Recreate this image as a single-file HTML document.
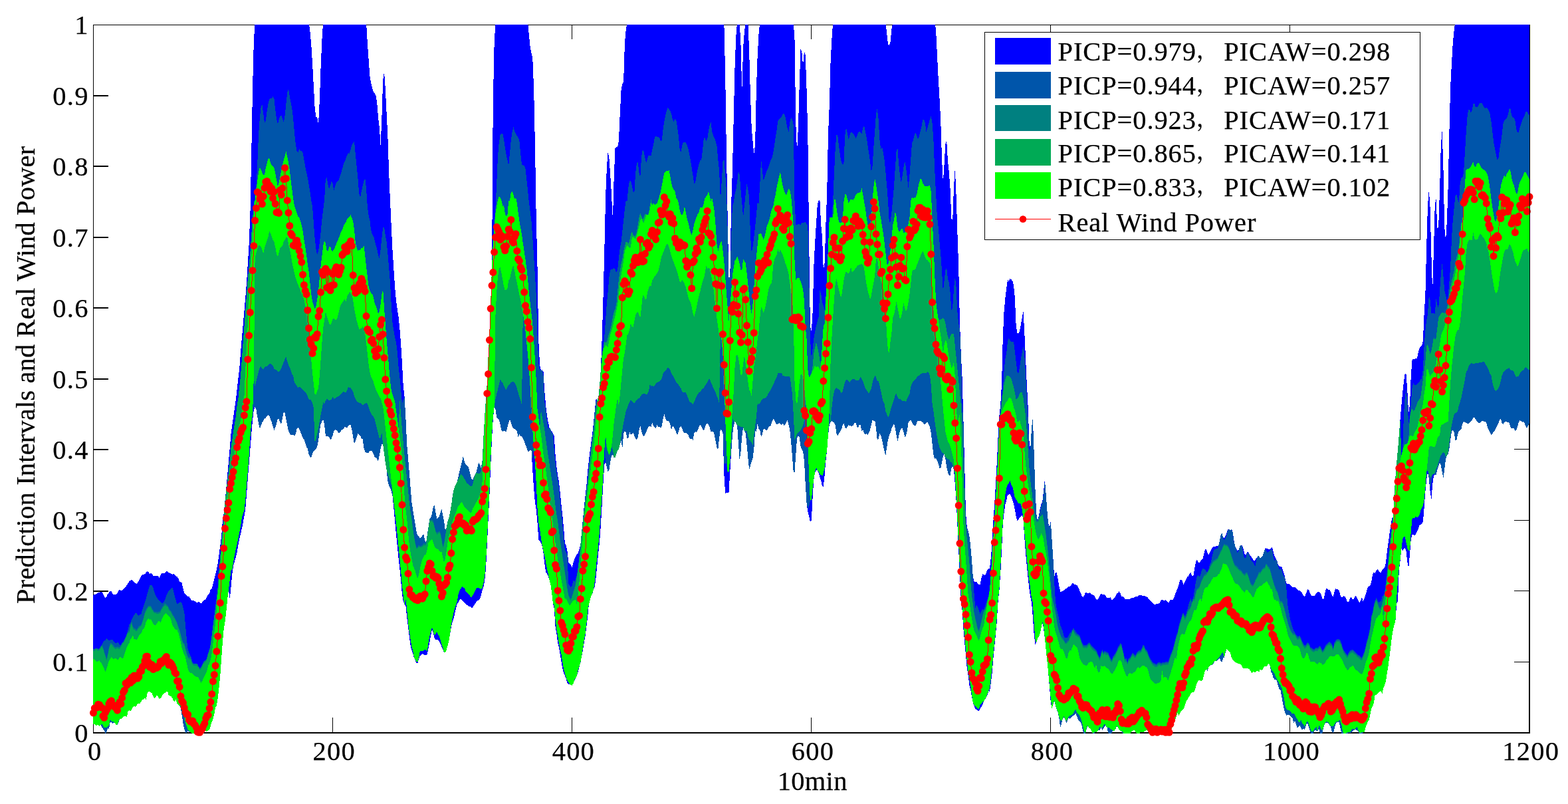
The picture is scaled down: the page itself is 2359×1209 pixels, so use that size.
<!DOCTYPE html>
<html lang="en">
<head>
<meta charset="utf-8">
<title>Prediction Intervals and Real Wind Power</title>
<style>
html,body{margin:0;padding:0;background:#fff;}
body{width:2359px;height:1209px;overflow:hidden;}
svg{display:block;}
text{font-family:"Liberation Serif","Noto Serif CJK SC",serif;fill:#000;}
</style>
</head>
<body>
<svg width="2359" height="1209" viewBox="0 0 2359 1209">
<defs><clipPath id="cp"><rect x="140" y="37" width="2161" height="1066"/></clipPath></defs>
<rect x="0" y="0" width="2359" height="1209" fill="#ffffff"/>
<g shape-rendering="crispEdges" fill="#000" stroke="none">
<rect x="140" y="37" width="2162" height="1"/>
<rect x="140" y="37" width="1" height="1066"/>
<rect x="140" y="1101" width="2162" height="2"/>
<rect x="2300" y="37" width="2" height="1066"/>
<rect x="500" y="1079" width="1" height="22"/><rect x="500" y="38" width="1" height="21"/>
<rect x="860" y="1079" width="1" height="22"/><rect x="860" y="38" width="1" height="21"/>
<rect x="1220" y="1079" width="1" height="22"/><rect x="1220" y="38" width="1" height="21"/>
<rect x="1580" y="1079" width="1" height="22"/><rect x="1580" y="38" width="1" height="21"/>
<rect x="1940" y="1079" width="1" height="22"/><rect x="1940" y="38" width="1" height="21"/>
<rect x="141" y="995" width="22" height="2"/><rect x="2278" y="995" width="22" height="1"/>
<rect x="141" y="888" width="22" height="2"/><rect x="2278" y="888" width="22" height="1"/>
<rect x="141" y="782" width="22" height="2"/><rect x="2278" y="782" width="22" height="1"/>
<rect x="141" y="675" width="22" height="2"/><rect x="2278" y="675" width="22" height="1"/>
<rect x="141" y="569" width="22" height="2"/><rect x="2278" y="569" width="22" height="1"/>
<rect x="141" y="462" width="22" height="2"/><rect x="2278" y="462" width="22" height="1"/>
<rect x="141" y="356" width="22" height="2"/><rect x="2278" y="356" width="22" height="1"/>
<rect x="141" y="249" width="22" height="2"/><rect x="2278" y="249" width="22" height="1"/>
<rect x="141" y="143" width="22" height="2"/><rect x="2278" y="143" width="22" height="1"/>
</g>
<g clip-path="url(#cp)" shape-rendering="crispEdges">
<path d="M139.9,895.3L142.3,893.9L144.1,893.5L145.9,892.7L147.7,891.1L149.5,890.6L151.3,890.2L153.1,889.4L154.9,892.9L156.7,896.8L158.5,898.9L160.3,897.0L162.1,892.9L163.9,891.3L165.7,888.4L167.5,888.7L169.3,892.3L171.1,894.5L172.9,893.8L174.7,894.0L176.5,892.5L178.3,888.5L180.1,886.8L181.9,887.9L183.7,888.1L185.5,886.5L187.3,884.3L189.1,882.2L190.9,879.5L192.7,877.1L194.5,874.1L196.3,872.6L198.1,872.1L199.9,873.5L201.7,874.7L203.5,876.6L205.3,877.9L207.1,876.0L208.9,873.2L210.7,869.3L212.5,865.9L214.3,864.1L216.1,863.7L217.9,863.4L219.7,861.1L221.5,859.3L223.3,860.1L225.1,862.8L226.9,862.3L228.7,862.7L230.5,865.6L232.3,865.9L234.1,865.7L235.9,866.4L237.7,865.6L239.5,869.4L241.3,864.9L243.1,862.7L244.9,861.6L246.7,862.2L248.5,861.3L250.3,858.8L252.1,859.1L253.9,861.0L255.7,861.8L257.5,862.7L259.3,863.7L261.1,863.2L262.9,864.1L264.7,866.6L266.5,867.4L268.3,869.6L270.1,874.3L271.9,875.3L273.7,876.6L275.5,885.3L277.3,891.8L279.1,893.3L280.9,895.8L282.7,896.6L284.5,897.5L286.3,900.1L288.1,902.2L289.9,903.6L291.7,903.2L293.5,903.9L295.3,906.2L297.1,906.5L298.9,905.0L300.7,906.1L302.5,907.5L304.3,905.8L306.1,902.7L307.9,902.2L309.7,901.4L311.5,896.6L313.3,893.8L315.1,891.9L316.9,886.1L318.7,885.3L320.5,878.1L322.3,870.8L324.1,864.0L325.9,856.4L327.7,847.5L329.5,833.6L331.3,820.2L333.1,805.9L334.9,782.8L336.7,772.2L338.5,753.2L340.3,734.4L342.1,714.7L343.9,694.2L345.7,674.1L347.5,652.0L349.3,639.1L351.1,626.8L352.9,614.5L354.7,601.8L356.6,585.4L358.4,569.1L360.2,553.9L362.0,530.2L363.8,508.6L365.6,488.6L367.4,468.4L369.2,447.5L371.0,425.0L372.8,396.4L374.6,367.2L376.4,322.7L378.2,231.8L380.0,134.0L381.8,63.3L383.6,33.0L385.4,33.0L387.2,33.0L389.0,33.0L390.8,33.0L392.6,33.0L394.4,33.0L396.2,33.0L398.0,33.0L399.8,33.0L401.6,33.0L403.4,33.0L405.2,33.0L407.0,33.0L408.8,33.0L410.6,33.0L412.4,33.0L414.2,33.0L416.0,33.0L417.8,33.0L419.6,33.0L421.4,33.0L423.2,33.0L425.0,33.0L426.8,33.0L428.6,33.0L430.4,33.0L432.2,33.0L434.0,33.0L435.8,33.0L437.6,33.0L439.4,33.0L441.2,33.0L443.0,33.0L444.8,33.0L446.6,33.0L448.4,33.0L450.2,33.0L452.0,33.0L453.8,33.0L455.6,33.0L457.4,33.0L459.2,33.0L461.0,33.0L462.8,33.0L464.6,33.0L466.4,46.8L468.2,66.3L470.0,94.4L471.8,128.4L473.6,161.3L475.4,175.7L477.2,176.2L479.0,187.6L480.8,151.8L482.6,100.9L484.4,60.0L486.2,33.0L488.0,33.0L489.8,33.0L491.6,33.0L493.4,33.0L495.2,33.0L497.0,33.0L498.8,33.0L500.6,33.0L502.4,33.0L504.2,33.0L506.0,33.0L507.8,33.0L509.6,33.0L511.4,33.0L513.2,33.0L515.0,33.0L516.8,33.0L518.6,33.0L520.4,33.0L522.2,33.0L524.0,33.0L525.8,33.0L527.6,33.0L529.4,33.0L531.2,33.0L533.0,33.0L534.8,33.0L536.6,33.0L538.4,33.0L540.2,33.0L542.0,33.0L543.8,33.0L545.6,33.0L547.4,33.0L549.2,33.0L551.0,33.0L552.8,63.9L554.6,89.6L556.4,114.2L558.2,125.0L560.0,132.1L561.8,137.7L563.6,140.5L565.4,143.4L567.2,153.6L569.0,176.5L570.8,191.3L572.6,218.9L574.4,176.5L576.2,119.9L578.0,108.0L579.8,133.3L581.6,169.2L583.4,205.9L585.2,261.4L587.0,301.6L588.8,341.9L590.6,377.2L592.4,404.9L594.2,432.4L596.0,452.4L597.8,465.0L599.6,476.9L601.4,494.8L603.2,517.4L605.0,547.7L606.8,580.8L608.6,597.0L610.4,628.4L612.2,667.9L614.0,688.4L615.8,710.7L617.6,732.9L619.4,754.8L621.2,767.1L623.0,778.0L624.8,788.3L626.6,800.0L628.4,805.2L630.2,806.8L632.0,809.9L633.8,807.6L635.6,805.1L637.4,803.8L639.2,812.0L641.0,816.8L642.8,803.9L644.6,792.4L646.4,780.6L648.2,778.7L650.0,771.9L651.8,762.0L653.6,760.2L655.4,770.0L657.2,779.7L659.0,779.4L660.8,776.1L662.6,771.2L664.4,765.8L666.2,773.9L668.0,783.1L669.8,797.7L671.6,793.5L673.4,784.2L675.2,779.0L677.0,770.7L678.8,760.9L680.6,747.6L682.4,736.8L684.2,732.1L686.0,728.2L687.8,724.1L689.6,717.1L691.4,708.0L693.2,700.9L695.0,694.2L696.8,685.5L698.6,693.8L700.4,697.7L702.2,699.8L704.0,701.0L705.8,705.5L707.6,713.3L709.4,720.0L711.2,721.5L713.0,716.6L714.8,713.6L716.6,709.4L718.4,702.0L720.2,695.6L722.0,698.9L723.8,703.5L725.6,692.8L727.4,657.5L729.2,625.9L731.0,600.6L732.8,575.7L734.6,535.4L736.4,501.1L738.2,454.8L740.0,401.2L741.8,153.2L743.6,67.5L745.4,33.0L747.2,33.0L749.0,33.0L750.8,33.0L752.6,33.0L754.4,33.0L756.2,33.0L758.0,33.0L759.8,33.0L761.6,33.0L763.4,33.0L765.2,33.0L767.0,33.0L768.8,33.0L770.6,33.0L772.4,33.0L774.2,33.0L776.0,33.0L777.8,33.0L779.6,33.0L781.4,33.0L783.2,33.0L785.0,33.0L786.8,33.0L788.7,33.0L790.5,33.0L792.3,33.0L794.1,33.0L795.9,52.8L797.7,70.6L799.5,79.5L801.3,87.8L803.1,131.9L804.9,215.3L806.7,324.6L808.5,401.1L810.3,512.4L812.1,548.8L813.9,556.6L815.7,556.4L817.5,559.2L819.3,588.5L821.1,609.2L822.9,624.1L824.7,634.8L826.5,642.8L828.3,645.4L830.1,648.8L831.9,651.1L833.7,655.3L835.5,682.7L837.3,701.7L839.1,714.5L840.9,724.6L842.7,741.1L844.5,758.6L846.3,775.0L848.1,794.1L849.9,816.6L851.7,820.4L853.5,828.8L855.3,845.8L857.1,847.8L858.9,849.7L860.7,853.4L862.5,845.7L864.3,840.4L866.1,836.1L867.9,834.0L869.7,831.9L871.5,826.2L873.3,819.2L875.1,800.1L876.9,781.3L878.7,762.5L880.5,745.8L882.3,730.6L884.1,709.5L885.9,692.2L887.7,677.7L889.5,664.2L891.3,651.0L893.1,634.7L894.9,615.5L896.7,599.0L898.5,601.8L900.3,596.6L902.1,580.2L903.9,553.9L905.7,508.6L907.5,447.2L909.3,376.5L911.1,295.6L912.9,251.3L914.7,227.8L916.5,238.9L918.3,264.5L920.1,293.9L921.9,330.9L923.7,266.7L925.5,222.8L927.3,220.6L929.1,221.3L930.9,211.6L932.7,172.1L934.5,136.2L936.3,126.0L938.1,122.7L939.9,65.2L941.7,45.1L943.5,33.0L945.3,33.0L947.1,33.0L948.9,33.0L950.7,33.0L952.5,33.0L954.3,33.0L956.1,33.0L957.9,33.0L959.7,33.0L961.5,33.0L963.3,33.0L965.1,33.0L966.9,33.0L968.7,33.0L970.5,33.0L972.3,33.0L974.1,33.0L975.9,33.0L977.7,33.0L979.5,33.0L981.3,33.0L983.1,33.0L984.9,33.0L986.7,33.0L988.5,33.0L990.3,33.0L992.1,33.0L993.9,33.0L995.7,33.0L997.5,33.0L999.3,33.0L1001.1,33.0L1002.9,33.0L1004.7,33.0L1006.5,33.0L1008.3,33.0L1010.1,33.0L1011.9,33.0L1013.7,33.0L1015.5,33.0L1017.3,33.0L1019.1,33.0L1020.9,33.0L1022.7,33.0L1024.5,33.0L1026.3,33.0L1028.1,33.0L1029.9,33.0L1031.7,33.0L1033.5,33.0L1035.3,33.0L1037.1,33.0L1038.9,33.0L1040.7,33.0L1042.5,33.0L1044.3,33.0L1046.1,33.0L1047.9,33.0L1049.7,33.0L1051.5,33.0L1053.3,33.0L1055.1,33.0L1056.9,33.0L1058.7,33.0L1060.5,33.0L1062.3,33.0L1064.1,33.0L1065.9,33.0L1067.7,33.0L1069.5,33.0L1071.3,33.0L1073.1,33.0L1074.9,33.0L1076.7,33.0L1078.5,33.0L1080.3,33.0L1082.1,33.0L1083.9,33.0L1085.7,33.0L1087.5,33.0L1089.3,33.0L1091.1,108.4L1092.9,227.5L1094.7,326.6L1096.5,417.3L1098.3,416.2L1100.1,307.6L1101.9,257.5L1103.7,179.2L1105.5,102.3L1107.3,54.2L1109.1,33.0L1110.9,33.0L1112.7,33.0L1114.5,67.5L1116.3,137.8L1118.1,71.4L1119.9,47.9L1121.7,33.0L1123.5,33.0L1125.3,33.0L1127.1,74.3L1128.9,141.0L1130.7,191.5L1132.5,212.0L1134.3,231.4L1136.1,217.0L1137.9,133.6L1139.7,83.2L1141.5,51.1L1143.3,33.0L1145.1,33.0L1146.9,33.0L1148.7,33.0L1150.5,33.0L1152.3,33.0L1154.1,33.0L1155.9,33.0L1157.7,33.0L1159.5,33.0L1161.3,33.0L1163.1,33.0L1164.9,33.0L1166.7,33.0L1168.5,33.0L1170.3,33.0L1172.1,33.0L1173.9,33.0L1175.7,33.0L1177.5,33.0L1179.3,33.0L1181.1,33.0L1182.9,33.0L1184.7,33.0L1186.5,33.0L1188.3,33.0L1190.1,33.0L1191.9,33.0L1193.7,33.0L1195.5,60.4L1197.3,186.1L1199.1,227.4L1200.9,191.2L1202.7,129.0L1204.5,74.2L1206.3,77.7L1208.1,98.2L1209.9,77.5L1211.7,82.0L1213.5,132.7L1215.3,199.7L1217.1,355.3L1218.9,491.1L1220.8,497.9L1222.6,469.4L1224.4,399.4L1226.2,363.9L1228.0,335.7L1229.8,307.6L1231.6,301.8L1233.4,301.1L1235.2,337.4L1237.0,355.8L1238.8,405.7L1240.6,395.3L1242.4,336.6L1244.2,289.7L1246.0,201.1L1247.8,158.7L1249.6,92.4L1251.4,58.5L1253.2,33.0L1255.0,33.0L1256.8,33.0L1258.6,33.0L1260.4,33.0L1262.2,33.0L1264.0,33.0L1265.8,33.0L1267.6,33.0L1269.4,33.8L1271.2,34.2L1273.0,35.2L1274.8,33.9L1276.6,33.0L1278.4,33.0L1280.2,33.0L1282.0,33.0L1283.8,33.0L1285.6,33.0L1287.4,33.0L1289.2,33.2L1291.0,33.0L1292.8,33.0L1294.6,33.0L1296.4,33.2L1298.2,33.3L1300.0,38.5L1301.8,33.0L1303.6,33.0L1305.4,33.0L1307.2,33.0L1309.0,33.0L1310.8,33.0L1312.6,33.0L1314.4,33.0L1316.2,33.0L1318.0,33.0L1319.8,33.0L1321.6,33.0L1323.4,33.0L1325.2,33.0L1327.0,33.0L1328.8,34.7L1330.6,36.6L1332.4,35.7L1334.2,49.6L1336.0,66.9L1337.8,68.2L1339.6,62.9L1341.4,44.1L1343.2,35.0L1345.0,34.5L1346.8,33.0L1348.6,33.0L1350.4,33.9L1352.2,34.3L1354.0,33.0L1355.8,33.0L1357.6,36.1L1359.4,33.0L1361.2,33.2L1363.0,35.0L1364.8,35.0L1366.6,33.6L1368.4,33.0L1370.2,33.6L1372.0,33.3L1373.8,33.0L1375.6,33.1L1377.4,33.0L1379.2,33.0L1381.0,33.0L1382.8,33.0L1384.6,33.0L1386.4,33.0L1388.2,33.0L1390.0,33.0L1391.8,33.0L1393.6,33.0L1395.4,33.5L1397.2,35.9L1399.0,33.9L1400.8,33.0L1402.6,33.0L1404.4,33.0L1406.2,33.0L1408.0,43.9L1409.8,79.8L1411.6,115.8L1413.4,146.0L1415.2,180.2L1417.0,237.9L1418.8,273.5L1420.6,246.5L1422.4,216.2L1424.2,211.5L1426.0,242.5L1427.8,258.4L1429.6,284.1L1431.4,329.3L1433.2,331.2L1435.0,281.1L1436.8,253.1L1438.6,294.3L1440.4,349.1L1442.2,400.9L1444.0,485.1L1445.8,532.7L1447.6,568.0L1449.4,629.9L1451.2,699.4L1453.0,770.9L1454.8,792.4L1456.6,798.7L1458.4,805.8L1460.2,821.3L1462.0,842.2L1463.8,866.6L1465.6,874.9L1467.4,875.1L1469.2,874.9L1471.0,877.5L1472.8,879.0L1474.6,879.2L1476.4,869.7L1478.2,863.1L1480.0,864.1L1481.8,864.9L1483.6,861.6L1485.4,857.2L1487.2,855.5L1489.0,854.7L1490.8,838.9L1492.6,816.7L1494.4,783.5L1496.2,757.0L1498.0,728.2L1499.8,695.0L1501.6,656.8L1503.4,625.5L1505.2,608.0L1507.0,577.4L1508.8,507.0L1510.6,467.2L1512.4,448.5L1514.2,432.6L1516.0,420.8L1517.8,423.1L1519.6,419.0L1521.4,420.1L1523.2,422.4L1525.0,428.4L1526.8,446.7L1528.6,488.5L1530.4,501.2L1532.2,501.2L1534.0,497.7L1535.8,488.7L1537.6,478.1L1539.4,467.2L1541.2,498.3L1543.0,537.6L1544.8,577.0L1546.6,610.3L1548.4,662.3L1550.2,676.4L1552.0,642.9L1553.8,628.8L1555.6,677.9L1557.4,733.4L1559.2,772.3L1561.0,782.6L1562.8,775.6L1564.6,765.5L1566.4,758.8L1568.2,754.3L1570.0,739.0L1571.8,720.8L1573.6,741.6L1575.4,768.1L1577.2,786.8L1579.0,792.8L1580.8,783.4L1582.6,812.0L1584.4,839.2L1586.2,867.6L1588.0,860.3L1589.8,861.3L1591.6,870.7L1593.4,881.1L1595.2,889.7L1597.0,889.7L1598.8,888.9L1600.6,887.7L1602.4,886.0L1604.2,885.0L1606.0,883.1L1607.8,881.8L1609.6,881.9L1611.4,880.3L1613.2,877.4L1615.0,877.4L1616.8,879.2L1618.6,879.5L1620.4,880.1L1622.2,883.3L1624.0,887.4L1625.8,891.6L1627.6,895.9L1629.4,898.4L1631.2,895.3L1633.0,891.3L1634.8,891.4L1636.6,891.7L1638.4,891.9L1640.2,891.1L1642.0,894.0L1643.8,894.5L1645.6,894.7L1647.4,898.0L1649.2,901.1L1651.0,901.8L1652.9,899.9L1654.7,895.7L1656.5,892.6L1658.3,893.7L1660.1,894.0L1661.9,894.0L1663.7,896.6L1665.5,899.2L1667.3,899.4L1669.1,898.6L1670.9,898.2L1672.7,902.1L1674.5,901.2L1676.3,899.8L1678.1,896.8L1679.9,892.7L1681.7,891.5L1683.5,889.3L1685.3,891.9L1687.1,896.9L1688.9,897.3L1690.7,897.7L1692.5,900.7L1694.3,901.3L1696.1,901.0L1697.9,901.4L1699.7,901.0L1701.5,899.7L1703.3,898.8L1705.1,899.2L1706.9,898.3L1708.7,896.8L1710.5,897.0L1712.3,896.5L1714.1,894.9L1715.9,894.6L1717.7,895.5L1719.5,896.5L1721.3,896.0L1723.1,896.5L1724.9,897.4L1726.7,898.4L1728.5,901.2L1730.3,903.3L1732.1,905.0L1733.9,906.8L1735.7,908.5L1737.5,909.2L1739.3,908.5L1741.1,908.2L1742.9,907.4L1744.7,906.7L1746.5,903.3L1748.3,901.5L1750.1,902.8L1751.9,903.2L1753.7,902.3L1755.5,903.6L1757.3,906.6L1759.1,905.2L1760.9,901.7L1762.7,901.5L1764.5,901.8L1766.3,898.6L1768.1,893.4L1769.9,888.8L1771.7,884.3L1773.5,879.3L1775.3,871.7L1777.1,871.7L1778.9,873.6L1780.7,879.4L1782.5,874.8L1784.3,871.4L1786.1,867.1L1787.9,866.4L1789.7,862.1L1791.5,861.3L1793.3,865.4L1795.1,866.7L1796.9,857.1L1798.7,846.5L1800.5,841.8L1802.3,844.7L1804.1,847.2L1805.9,843.8L1807.7,842.3L1809.5,840.4L1811.3,833.3L1813.1,826.1L1814.9,825.4L1816.7,832.0L1818.5,833.6L1820.3,830.4L1822.1,827.1L1823.9,823.4L1825.7,822.0L1827.5,822.5L1829.3,821.5L1831.1,820.4L1832.9,821.4L1834.7,813.8L1836.5,804.7L1838.3,801.3L1840.1,807.8L1841.9,809.0L1843.7,806.1L1845.5,801.4L1847.3,795.6L1849.1,796.0L1850.9,797.9L1852.7,795.8L1854.5,799.5L1856.3,811.6L1858.1,821.1L1859.9,824.7L1861.7,827.9L1863.5,826.5L1865.3,821.5L1867.1,819.3L1868.9,820.4L1870.7,825.9L1872.5,832.5L1874.3,834.5L1876.1,830.3L1877.9,830.5L1879.7,833.4L1881.5,836.0L1883.3,838.5L1885.1,841.4L1886.9,843.7L1888.7,841.4L1890.5,838.8L1892.3,836.5L1894.1,835.9L1895.9,840.2L1897.7,837.5L1899.5,836.1L1901.3,830.5L1903.1,825.3L1904.9,824.1L1906.7,825.3L1908.5,825.7L1910.3,825.8L1912.1,824.1L1913.9,822.2L1915.7,830.2L1917.5,836.3L1919.3,839.5L1921.1,842.9L1922.9,849.1L1924.7,851.7L1926.5,851.7L1928.3,852.7L1930.1,857.4L1931.9,862.8L1933.7,870.5L1935.5,877.4L1937.3,878.1L1939.1,877.7L1940.9,878.9L1942.7,881.6L1944.5,883.3L1946.3,883.0L1948.1,883.1L1949.9,884.0L1951.7,886.3L1953.5,887.6L1955.3,888.4L1957.1,889.1L1958.9,891.6L1960.7,895.5L1962.5,897.5L1964.3,894.0L1966.1,889.2L1967.9,885.4L1969.7,888.8L1971.5,893.3L1973.3,895.7L1975.1,896.0L1976.9,896.2L1978.7,894.4L1980.5,892.2L1982.3,889.6L1984.1,889.8L1985.9,890.9L1987.7,894.4L1989.5,899.8L1991.3,901.2L1993.1,892.8L1994.9,885.0L1996.7,885.5L1998.5,887.5L2000.3,887.1L2002.1,889.6L2003.9,894.9L2005.7,897.2L2007.5,890.1L2009.3,885.2L2011.1,886.0L2012.9,885.7L2014.7,888.7L2016.5,894.8L2018.3,898.2L2020.1,897.3L2021.9,896.2L2023.7,897.4L2025.5,901.0L2027.3,905.5L2029.1,905.3L2030.9,899.8L2032.7,898.1L2034.5,901.1L2036.3,900.9L2038.1,897.5L2039.9,895.8L2041.7,899.5L2043.5,903.3L2045.3,906.9L2047.1,902.7L2048.9,898.2L2050.7,904.2L2052.5,900.3L2054.3,894.5L2056.1,889.0L2057.9,882.1L2059.7,882.4L2061.5,879.8L2063.3,873.9L2065.1,863.6L2066.9,860.1L2068.7,861.8L2070.5,857.9L2072.3,855.9L2074.1,858.0L2075.9,860.5L2077.7,860.6L2079.5,857.0L2081.3,854.9L2083.1,853.8L2084.9,846.8L2086.8,829.6L2088.6,816.2L2090.4,803.2L2092.2,791.5L2094.0,779.5L2095.8,778.1L2097.6,742.4L2099.4,717.3L2101.2,694.9L2103.0,676.1L2104.8,653.3L2106.6,629.6L2108.4,609.2L2110.2,590.3L2112.0,573.6L2113.8,561.3L2115.6,563.0L2117.4,589.1L2119.2,620.9L2121.0,608.1L2122.8,564.4L2124.6,540.8L2126.4,540.2L2128.2,540.0L2130.0,539.1L2131.8,538.9L2133.6,530.6L2135.4,524.4L2137.2,520.9L2139.0,519.3L2140.8,513.4L2142.6,471.9L2144.4,441.8L2146.2,369.7L2148.0,308.7L2149.8,285.1L2151.6,312.0L2153.4,384.0L2155.2,438.7L2157.0,373.8L2158.8,306.8L2160.6,299.3L2162.4,343.5L2164.2,340.6L2166.0,286.7L2167.8,218.9L2169.6,197.0L2171.4,250.2L2173.2,340.8L2175.0,362.1L2176.8,332.8L2178.6,282.2L2180.4,198.7L2182.2,128.4L2184.0,95.0L2185.8,64.4L2187.6,46.3L2189.4,33.0L2191.2,33.0L2193.0,33.0L2194.8,33.0L2196.6,33.0L2198.4,33.0L2200.2,33.0L2202.0,33.0L2203.8,33.0L2205.6,33.0L2207.4,33.0L2209.2,33.0L2211.0,33.0L2212.8,33.0L2214.6,33.0L2216.4,33.0L2218.2,33.0L2220.0,33.0L2221.8,33.0L2223.6,33.0L2225.4,33.0L2227.2,33.0L2229.0,33.0L2230.8,33.0L2232.6,33.0L2234.4,33.0L2236.2,33.0L2238.0,33.0L2239.8,33.0L2241.6,33.0L2243.4,33.0L2245.2,33.0L2247.0,33.0L2248.8,33.0L2250.6,33.0L2252.4,33.0L2254.2,33.0L2256.0,33.0L2257.8,33.0L2259.6,33.0L2261.4,33.0L2263.2,33.0L2265.0,33.0L2266.8,33.0L2268.6,33.0L2270.4,33.0L2272.2,33.0L2274.0,33.0L2275.8,33.0L2277.6,33.0L2279.4,33.0L2281.2,33.0L2283.0,33.0L2284.8,33.0L2286.6,33.0L2288.4,33.0L2290.2,33.0L2292.0,33.0L2293.8,33.0L2295.6,33.0L2297.4,33.0L2299.2,33.0L2301.1,33.0L2301.1,635.0L2299.2,640.0L2297.4,643.7L2295.6,641.6L2293.8,636.5L2292.0,634.2L2290.2,634.9L2288.4,633.3L2286.6,632.2L2284.8,634.7L2283.0,642.2L2281.2,646.4L2279.4,648.0L2277.6,644.4L2275.8,643.4L2274.0,644.8L2272.2,640.9L2270.4,635.5L2268.6,634.7L2266.8,634.6L2265.0,634.0L2263.2,635.0L2261.4,638.3L2259.6,636.2L2257.8,629.7L2256.0,631.2L2254.2,637.4L2252.4,640.2L2250.6,643.8L2248.8,647.8L2247.0,649.8L2245.2,652.3L2243.4,654.1L2241.6,650.2L2239.8,647.1L2238.0,642.7L2236.2,635.5L2234.4,633.9L2232.6,633.9L2230.8,632.5L2229.0,633.0L2227.2,635.6L2225.4,636.3L2223.6,635.3L2221.8,633.9L2220.0,630.4L2218.2,627.4L2216.4,628.2L2214.6,631.5L2212.8,633.8L2211.0,635.8L2209.2,637.1L2207.4,636.5L2205.6,636.1L2203.8,635.0L2202.0,633.8L2200.2,637.6L2198.4,645.1L2196.6,647.4L2194.8,648.1L2193.0,653.5L2191.2,663.0L2189.4,661.5L2187.6,650.6L2185.8,646.9L2184.0,648.0L2182.2,661.4L2180.4,674.4L2178.6,683.0L2176.8,685.1L2175.0,690.7L2173.2,706.2L2171.4,718.3L2169.6,709.5L2167.8,700.1L2166.0,695.6L2164.2,700.5L2162.4,705.9L2160.6,713.8L2158.8,713.9L2157.0,714.9L2155.2,728.6L2153.4,751.1L2151.6,739.2L2149.8,719.9L2148.0,709.7L2146.2,721.5L2144.4,738.9L2142.6,763.8L2140.8,785.1L2139.0,787.4L2137.2,788.9L2135.4,789.8L2133.6,796.0L2131.8,799.1L2130.0,803.1L2128.2,806.0L2126.4,803.4L2124.6,803.9L2122.8,810.7L2121.0,833.2L2119.2,854.3L2117.4,845.9L2115.6,829.6L2113.8,823.3L2112.0,825.7L2110.2,828.2L2108.4,825.1L2106.6,843.1L2104.8,857.6L2103.0,903.8L2101.2,908.0L2099.4,933.7L2097.6,939.5L2095.8,947.3L2094.0,958.3L2092.2,973.3L2090.4,987.9L2088.6,1001.2L2086.8,1012.7L2084.9,1024.8L2083.1,1030.9L2081.3,1034.6L2079.5,1043.0L2077.7,1039.1L2075.9,1040.2L2074.1,1041.2L2072.3,1043.2L2070.5,1045.3L2068.7,1044.8L2066.9,1056.9L2065.1,1061.8L2063.3,1065.8L2061.5,1074.2L2059.7,1082.6L2057.9,1085.2L2056.1,1089.6L2054.3,1095.0L2052.5,1100.8L2050.7,1101.5L2048.9,1103.9L2047.1,1105.9L2045.3,1104.3L2043.5,1100.1L2041.7,1098.4L2039.9,1097.1L2038.1,1097.5L2036.3,1098.5L2034.5,1099.6L2032.7,1102.1L2030.9,1102.2L2029.1,1101.6L2027.3,1103.4L2025.5,1105.1L2023.7,1103.8L2021.9,1104.8L2020.1,1104.9L2018.3,1103.2L2016.5,1094.6L2014.7,1086.4L2012.9,1086.3L2011.1,1086.3L2009.3,1089.2L2007.5,1096.3L2005.7,1102.4L2003.9,1100.8L2002.1,1093.5L2000.3,1090.3L1998.5,1087.6L1996.7,1086.5L1994.9,1086.7L1993.1,1088.1L1991.3,1093.7L1989.5,1102.1L1987.7,1106.5L1985.9,1102.4L1984.1,1095.7L1982.3,1099.4L1980.5,1098.7L1978.7,1097.4L1976.9,1099.6L1975.1,1105.0L1973.3,1106.2L1971.5,1100.9L1969.7,1095.5L1967.9,1089.6L1966.1,1087.5L1964.3,1093.0L1962.5,1097.0L1960.7,1095.6L1958.9,1097.9L1957.1,1093.7L1955.3,1091.0L1953.5,1092.8L1951.7,1095.1L1949.9,1089.0L1948.1,1083.3L1946.3,1088.0L1944.5,1080.0L1942.7,1078.0L1940.9,1075.8L1939.1,1074.7L1937.3,1074.7L1935.5,1075.6L1933.7,1073.1L1931.9,1067.0L1930.1,1057.8L1928.3,1048.1L1926.5,1038.1L1924.7,1036.9L1922.9,1031.7L1921.1,1023.8L1919.3,1022.0L1917.5,1021.8L1915.7,1019.3L1913.9,1013.0L1912.1,1009.9L1910.3,999.4L1908.5,998.0L1906.7,1000.5L1904.9,1002.1L1903.1,1001.4L1901.3,1003.3L1899.5,1007.0L1897.7,1007.9L1895.9,1006.6L1894.1,1010.6L1892.3,1008.4L1890.5,1009.5L1888.7,1011.3L1886.9,1010.2L1885.1,1010.5L1883.3,1011.7L1881.5,1009.2L1879.7,1006.6L1877.9,1005.4L1876.1,1004.4L1874.3,1004.9L1872.5,1005.1L1870.7,1005.1L1868.9,1002.7L1867.1,999.6L1865.3,998.6L1863.5,997.9L1861.7,997.2L1859.9,996.7L1858.1,995.6L1856.3,993.4L1854.5,992.3L1852.7,988.6L1850.9,982.0L1849.1,979.1L1847.3,978.1L1845.5,976.3L1843.7,981.2L1841.9,989.1L1840.1,989.4L1838.3,996.0L1836.5,993.5L1834.7,989.7L1832.9,992.1L1831.1,993.1L1829.3,994.5L1827.5,994.1L1825.7,997.4L1823.9,999.9L1822.1,999.7L1820.3,1000.7L1818.5,1003.2L1816.7,1008.8L1814.9,1006.7L1813.1,1008.0L1811.3,1015.2L1809.5,1022.3L1807.7,1024.4L1805.9,1023.4L1804.1,1022.9L1802.3,1023.8L1800.5,1027.7L1798.7,1034.0L1796.9,1039.9L1795.1,1041.4L1793.3,1041.2L1791.5,1042.7L1789.7,1046.2L1787.9,1049.7L1786.1,1052.2L1784.3,1055.8L1782.5,1061.5L1780.7,1065.7L1778.9,1067.7L1777.1,1069.6L1775.3,1072.1L1773.5,1076.2L1771.7,1071.6L1769.9,1077.0L1768.1,1081.6L1766.3,1086.6L1764.5,1091.9L1762.7,1095.2L1760.9,1098.2L1759.1,1103.1L1757.3,1103.9L1755.5,1102.4L1753.7,1101.1L1751.9,1102.4L1750.1,1104.7L1748.3,1106.5L1746.5,1106.5L1744.7,1106.5L1742.9,1106.5L1741.1,1106.5L1739.3,1105.9L1737.5,1103.6L1735.7,1102.1L1733.9,1103.0L1732.1,1103.1L1730.3,1103.2L1728.5,1101.7L1726.7,1098.8L1724.9,1097.9L1723.1,1098.9L1721.3,1100.2L1719.5,1101.0L1717.7,1100.5L1715.9,1100.6L1714.1,1103.8L1712.3,1104.4L1710.5,1102.7L1708.7,1101.2L1706.9,1098.4L1705.1,1098.1L1703.3,1099.4L1701.5,1101.3L1699.7,1103.8L1697.9,1104.7L1696.1,1105.0L1694.3,1106.1L1692.5,1106.5L1690.7,1104.7L1688.9,1102.8L1687.1,1099.7L1685.3,1099.0L1683.5,1096.8L1681.7,1093.0L1679.9,1092.6L1678.1,1096.4L1676.3,1099.4L1674.5,1098.5L1672.7,1101.9L1670.9,1103.6L1669.1,1104.3L1667.3,1101.8L1665.5,1094.4L1663.7,1091.1L1661.9,1092.6L1660.1,1095.4L1658.3,1098.2L1656.5,1093.7L1654.7,1098.2L1652.9,1097.9L1651.0,1099.6L1649.2,1100.9L1647.4,1101.2L1645.6,1104.7L1643.8,1102.2L1642.0,1098.6L1640.2,1095.7L1638.4,1094.7L1636.6,1091.7L1634.8,1095.4L1633.0,1103.1L1631.2,1104.6L1629.4,1100.0L1627.6,1091.2L1625.8,1086.7L1624.0,1084.1L1622.2,1082.3L1620.4,1077.9L1618.6,1073.4L1616.8,1074.7L1615.0,1076.1L1613.2,1077.2L1611.4,1079.4L1609.6,1081.4L1607.8,1079.1L1606.0,1083.5L1604.2,1087.4L1602.4,1081.2L1600.6,1078.9L1598.8,1080.4L1597.0,1087.9L1595.2,1093.9L1593.4,1079.8L1591.6,1071.4L1589.8,1067.3L1588.0,1060.8L1586.2,1054.1L1584.4,1059.2L1582.6,1065.6L1580.8,1056.6L1579.0,1033.0L1577.2,1012.6L1575.4,993.8L1573.6,977.1L1571.8,959.3L1570.0,944.6L1568.2,936.3L1566.4,944.3L1564.6,953.2L1562.8,957.4L1561.0,959.8L1559.2,966.7L1557.4,968.8L1555.6,953.1L1553.8,927.7L1552.0,905.9L1550.2,897.3L1548.4,885.0L1546.6,868.9L1544.8,850.6L1543.0,832.0L1541.2,807.6L1539.4,779.3L1537.6,774.6L1535.8,776.3L1534.0,778.7L1532.2,781.2L1530.4,783.1L1528.6,776.7L1526.8,766.0L1525.0,757.6L1523.2,751.8L1521.4,746.5L1519.6,742.8L1517.8,743.8L1516.0,744.3L1514.2,752.0L1512.4,758.8L1510.6,771.2L1508.8,787.4L1507.0,828.4L1505.2,862.7L1503.4,888.3L1501.6,904.2L1499.8,934.4L1498.0,953.6L1496.2,971.7L1494.4,989.9L1492.6,1011.9L1490.8,1027.2L1489.0,1040.0L1487.2,1039.3L1485.4,1045.8L1483.6,1048.6L1481.8,1051.8L1480.0,1054.2L1478.2,1059.7L1476.4,1062.9L1474.6,1066.0L1472.8,1069.4L1471.0,1068.9L1469.2,1067.2L1467.4,1066.0L1465.6,1061.7L1463.8,1056.5L1462.0,1048.0L1460.2,1037.2L1458.4,1031.0L1456.6,1015.3L1454.8,1005.1L1453.0,985.8L1451.2,966.5L1449.4,945.2L1447.6,917.7L1445.8,902.0L1444.0,864.2L1442.2,827.4L1440.4,789.2L1438.6,752.8L1436.8,727.9L1435.0,707.0L1433.2,700.8L1431.4,703.7L1429.6,715.0L1427.8,715.3L1426.0,710.3L1424.2,702.5L1422.4,689.8L1420.6,683.3L1418.8,686.3L1417.0,696.0L1415.2,705.0L1413.4,703.5L1411.6,696.8L1409.8,692.4L1408.0,689.3L1406.2,690.0L1404.4,683.6L1402.6,667.6L1400.8,651.4L1399.0,642.2L1397.2,638.6L1395.4,634.3L1393.6,636.2L1391.8,638.3L1390.0,638.2L1388.2,634.9L1386.4,634.0L1384.6,632.9L1382.8,632.8L1381.0,632.4L1379.2,636.0L1377.4,640.4L1375.6,640.3L1373.8,638.2L1372.0,634.5L1370.2,631.5L1368.4,633.3L1366.6,635.3L1364.8,648.3L1363.0,655.5L1361.2,657.4L1359.4,649.1L1357.6,644.3L1355.8,644.1L1354.0,648.0L1352.2,655.9L1350.4,663.8L1348.6,654.1L1346.8,644.1L1345.0,637.0L1343.2,640.7L1341.4,644.5L1339.6,650.6L1337.8,655.2L1336.0,661.4L1334.2,672.8L1332.4,684.7L1330.6,678.6L1328.8,670.4L1327.0,662.0L1325.2,654.7L1323.4,652.0L1321.6,660.0L1319.8,661.7L1318.0,643.9L1316.2,632.0L1314.4,633.4L1312.6,631.4L1310.8,639.0L1309.0,646.5L1307.2,651.0L1305.4,654.0L1303.6,652.4L1301.8,653.7L1300.0,651.7L1298.2,645.6L1296.4,648.1L1294.6,639.0L1292.8,638.3L1291.0,642.9L1289.2,641.6L1287.4,635.3L1285.6,636.0L1283.8,639.9L1282.0,640.5L1280.2,640.7L1278.4,640.0L1276.6,639.3L1274.8,641.5L1273.0,645.0L1271.2,642.4L1269.4,637.1L1267.6,639.9L1265.8,645.9L1264.0,649.2L1262.2,651.3L1260.4,655.7L1258.6,652.4L1256.8,640.2L1255.0,635.6L1253.2,634.5L1251.4,632.9L1249.6,634.7L1247.8,639.1L1246.0,654.1L1244.2,676.8L1242.4,692.6L1240.6,714.7L1238.8,731.8L1237.0,730.7L1235.2,722.7L1233.4,717.3L1231.6,711.6L1229.8,707.3L1228.0,707.1L1226.2,710.2L1224.4,720.7L1222.6,748.7L1220.8,782.6L1218.9,785.0L1217.1,775.9L1215.3,769.8L1213.5,755.9L1211.7,727.2L1209.9,692.5L1208.1,679.3L1206.3,676.1L1204.5,671.2L1202.7,657.2L1200.9,655.4L1199.1,658.5L1197.3,683.8L1195.5,709.9L1193.7,709.7L1191.9,685.9L1190.1,664.3L1188.3,646.8L1186.5,638.5L1184.7,631.8L1182.9,634.9L1181.1,638.6L1179.3,639.8L1177.5,636.6L1175.7,638.9L1173.9,637.4L1172.1,636.2L1170.3,637.6L1168.5,638.3L1166.7,635.9L1164.9,631.6L1163.1,630.1L1161.3,634.8L1159.5,640.1L1157.7,641.2L1155.9,642.8L1154.1,646.5L1152.3,647.3L1150.5,644.7L1148.7,645.0L1146.9,652.8L1145.1,657.1L1143.3,646.9L1141.5,644.9L1139.7,636.9L1137.9,649.3L1136.1,648.1L1134.3,675.2L1132.5,688.6L1130.7,693.9L1128.9,700.5L1127.1,706.4L1125.3,687.4L1123.5,668.9L1121.7,651.0L1119.9,647.8L1118.1,642.6L1116.3,656.6L1114.5,679.0L1112.7,692.4L1110.9,666.4L1109.1,640.3L1107.3,636.1L1105.5,634.2L1103.7,640.4L1101.9,655.0L1100.1,681.4L1098.3,708.8L1096.5,740.4L1094.7,741.0L1092.9,740.5L1091.1,742.0L1089.3,712.7L1087.5,652.2L1085.7,647.2L1083.9,645.0L1082.1,659.1L1080.3,675.5L1078.5,673.4L1076.7,663.9L1074.9,654.2L1073.1,649.2L1071.3,648.5L1069.5,649.4L1067.7,642.9L1065.9,637.9L1064.1,636.6L1062.3,638.2L1060.5,643.2L1058.7,647.7L1056.9,645.3L1055.1,641.1L1053.3,639.3L1051.5,641.6L1049.7,647.2L1047.9,649.8L1046.1,648.6L1044.3,651.8L1042.5,661.7L1040.7,659.5L1038.9,660.5L1037.1,658.9L1035.3,653.8L1033.5,651.5L1031.7,651.3L1029.9,651.5L1028.1,649.6L1026.3,644.9L1024.5,641.4L1022.7,642.7L1020.9,649.3L1019.1,653.9L1017.3,650.8L1015.5,645.5L1013.7,642.2L1011.9,640.9L1010.1,646.6L1008.3,637.5L1006.5,633.5L1004.7,633.1L1002.9,633.1L1001.1,628.5L999.3,622.7L997.5,630.4L995.7,641.1L993.9,643.3L992.1,641.7L990.3,642.3L988.5,639.3L986.7,644.3L984.9,642.0L983.1,640.4L981.3,635.0L979.5,641.7L977.7,641.1L975.9,641.3L974.1,644.7L972.3,649.4L970.5,653.0L968.7,656.1L966.9,654.4L965.1,649.3L963.3,640.5L961.5,647.1L959.7,658.0L957.9,660.9L956.1,659.9L954.3,655.2L952.5,651.3L950.7,652.6L948.9,653.9L947.1,649.5L945.3,659.0L943.5,658.7L941.7,649.9L939.9,648.2L938.1,652.4L936.3,674.2L934.5,663.1L932.7,668.3L930.9,674.8L929.1,678.2L927.3,682.1L925.5,688.4L923.7,688.3L921.9,683.6L920.1,685.6L918.3,694.0L916.5,706.2L914.7,709.2L912.9,703.2L911.1,695.1L909.3,697.9L907.5,726.8L905.7,758.3L903.9,790.0L902.1,814.9L900.3,831.1L898.5,848.7L896.7,867.1L894.9,881.6L893.1,886.4L891.3,892.5L889.5,895.8L887.7,902.0L885.9,909.4L884.1,927.8L882.3,942.2L880.5,956.6L878.7,967.3L876.9,978.0L875.1,986.9L873.3,996.7L871.5,1002.9L869.7,1009.9L867.9,1016.3L866.1,1019.6L864.3,1023.5L862.5,1028.0L860.7,1030.7L858.9,1030.2L857.1,1028.6L855.3,1029.3L853.5,1027.4L851.7,1020.6L849.9,1016.1L848.1,1011.8L846.3,1005.5L844.5,994.5L842.7,983.8L840.9,973.6L839.1,966.6L837.3,952.4L835.5,942.0L833.7,915.3L831.9,907.2L830.1,890.8L828.3,878.7L826.5,872.1L824.7,866.3L822.9,862.1L821.1,860.8L819.3,847.5L817.5,832.3L815.7,821.6L813.9,816.1L812.1,813.4L810.3,811.7L808.5,786.2L806.7,765.8L804.9,755.0L803.1,734.2L801.3,707.6L799.5,678.2L797.7,676.2L795.9,679.4L794.1,679.0L792.3,673.3L790.5,669.0L788.7,663.5L786.8,659.4L785.0,655.6L783.2,656.1L781.4,653.0L779.6,657.0L777.8,648.5L776.0,646.8L774.2,645.2L772.4,644.0L770.6,641.0L768.8,635.8L767.0,630.1L765.2,636.0L763.4,642.4L761.6,649.2L759.8,648.1L758.0,647.4L756.2,649.4L754.4,646.8L752.6,638.3L750.8,631.0L749.0,629.1L747.2,627.8L745.4,615.6L743.6,612.2L741.8,630.7L740.0,661.1L738.2,700.8L736.4,745.5L734.6,782.6L732.8,819.1L731.0,855.9L729.2,873.0L727.4,882.9L725.6,887.9L723.8,895.2L722.0,900.7L720.2,902.3L718.4,903.4L716.6,905.3L714.8,907.3L713.0,910.4L711.2,913.2L709.4,914.1L707.6,911.6L705.8,912.5L704.0,910.3L702.2,909.4L700.4,907.4L698.6,906.3L696.8,904.6L695.0,902.1L693.2,900.7L691.4,902.4L689.6,905.8L687.8,908.3L686.0,914.6L684.2,922.9L682.4,930.2L680.6,935.5L678.8,943.1L677.0,953.9L675.2,964.5L673.4,970.9L671.6,977.5L669.8,981.4L668.0,980.8L666.2,976.5L664.4,972.4L662.6,968.5L660.8,964.6L659.0,962.6L657.2,961.9L655.4,962.4L653.6,959.5L651.8,951.3L650.0,946.6L648.2,955.8L646.4,965.3L644.6,974.0L642.8,984.3L641.0,984.7L639.2,984.9L637.4,984.4L635.6,983.0L633.8,984.7L632.0,986.2L630.2,990.7L628.4,997.3L626.6,997.2L624.8,993.0L623.0,989.4L621.2,983.0L619.4,978.0L617.6,971.2L615.8,957.8L614.0,943.1L612.2,928.3L610.4,910.9L608.6,909.5L606.8,904.1L605.0,894.4L603.2,874.2L601.4,855.4L599.6,839.8L597.8,822.2L596.0,803.7L594.2,784.9L592.4,764.3L590.6,746.8L588.8,738.6L587.0,733.3L585.2,730.4L583.4,724.1L581.6,706.9L579.8,695.7L578.0,682.5L576.2,668.3L574.4,668.0L572.6,674.9L570.8,684.4L569.0,694.2L567.2,690.3L565.4,688.1L563.6,687.2L561.8,682.5L560.0,678.4L558.2,677.4L556.4,678.3L554.6,680.7L552.8,680.7L551.0,680.7L549.2,679.6L547.4,673.6L545.6,660.0L543.8,659.4L542.0,655.0L540.2,653.3L538.4,652.3L536.6,658.0L534.8,663.0L533.0,667.2L531.2,657.7L529.4,646.5L527.6,639.3L525.8,639.2L524.0,640.6L522.2,643.0L520.4,642.5L518.6,642.2L516.8,644.4L515.0,646.0L513.2,647.2L511.4,650.7L509.6,651.1L507.8,648.7L506.0,647.0L504.2,645.9L502.4,648.1L500.6,654.3L498.8,659.3L497.0,661.4L495.2,657.7L493.4,655.6L491.6,656.3L489.8,655.2L488.0,637.9L486.2,631.3L484.4,633.3L482.6,637.9L480.8,648.4L479.0,663.0L477.2,672.1L475.4,675.1L473.6,677.1L471.8,678.7L470.0,682.0L468.2,688.2L466.4,687.0L464.6,683.8L462.8,674.4L461.0,672.3L459.2,665.4L457.4,661.0L455.6,658.1L453.8,654.3L452.0,649.1L450.2,645.6L448.4,642.5L446.6,645.0L444.8,652.7L443.0,655.6L441.2,653.9L439.4,653.8L437.6,653.7L435.8,652.0L434.0,648.0L432.2,639.9L430.4,630.2L428.6,621.5L426.8,619.7L425.0,628.2L423.2,637.8L421.4,635.1L419.6,630.2L417.8,629.9L416.0,637.3L414.2,643.1L412.4,646.8L410.6,641.2L408.8,635.1L407.0,631.1L405.2,625.0L403.4,624.4L401.6,625.4L399.8,628.7L398.0,629.7L396.2,632.5L394.4,635.5L392.6,639.9L390.8,644.7L389.0,636.4L387.2,626.7L385.4,615.8L383.6,611.4L381.8,616.8L380.0,632.8L378.2,653.1L376.4,675.8L374.6,698.2L372.8,719.8L371.0,744.0L369.2,766.1L367.4,776.4L365.6,786.4L363.8,795.2L362.0,802.8L360.2,810.4L358.4,820.0L356.6,830.8L354.7,838.4L352.9,844.3L351.1,850.6L349.3,863.8L347.5,883.6L345.7,900.1L343.9,887.4L342.1,901.6L340.3,920.5L338.5,935.0L336.7,946.4L334.9,965.5L333.1,991.5L331.3,1015.8L329.5,1034.6L327.7,1049.6L325.9,1061.1L324.1,1063.8L322.3,1074.2L320.5,1081.5L318.7,1085.2L316.9,1091.7L315.1,1097.6L313.3,1098.3L311.5,1099.4L309.7,1099.7L307.9,1092.5L306.1,1102.8L304.3,1104.7L302.5,1105.1L300.7,1103.1L298.9,1102.4L297.1,1103.5L295.3,1103.2L293.5,1102.7L291.7,1103.6L289.9,1103.7L288.1,1102.0L286.3,1100.8L284.5,1100.3L282.7,1099.1L280.9,1102.0L279.1,1102.5L277.3,1096.1L275.5,1088.1L273.7,1075.9L271.9,1065.2L270.1,1060.9L268.3,1059.9L266.5,1058.4L264.7,1051.7L262.9,1054.7L261.1,1053.9L259.3,1050.0L257.5,1047.0L255.7,1046.2L253.9,1046.1L252.1,1039.7L250.3,1039.9L248.5,1041.6L246.7,1042.6L244.9,1044.7L243.1,1047.8L241.3,1050.3L239.5,1050.5L237.7,1047.1L235.9,1045.8L234.1,1048.5L232.3,1050.4L230.5,1047.2L228.7,1042.6L226.9,1041.5L225.1,1040.0L223.3,1040.4L221.5,1042.9L219.7,1052.4L217.9,1049.1L216.1,1051.2L214.3,1052.2L212.5,1054.8L210.7,1057.9L208.9,1057.5L207.1,1057.8L205.3,1060.9L203.5,1062.7L201.7,1062.2L199.9,1063.4L198.1,1067.1L196.3,1069.2L194.5,1068.4L192.7,1069.2L190.9,1078.2L189.1,1076.7L187.3,1076.8L185.5,1077.7L183.7,1079.6L181.9,1081.5L180.1,1081.1L178.3,1087.0L176.5,1089.5L174.7,1090.1L172.9,1087.0L171.1,1087.0L169.3,1087.7L167.5,1086.1L165.7,1086.3L163.9,1096.3L162.1,1094.7L160.3,1100.7L158.5,1102.7L156.7,1098.5L154.9,1096.0L153.1,1093.4L151.3,1090.1L149.5,1091.8L147.7,1090.4L145.9,1090.5L144.1,1091.0L142.3,1089.2L139.9,1088.4Z" fill="#0000ff"/>
<path d="M139.9,976.3L142.3,976.4L144.1,974.5L145.9,974.5L147.7,976.3L149.5,975.2L151.3,972.3L153.1,969.8L154.9,966.1L156.7,964.0L158.5,962.8L160.3,960.4L162.1,961.1L163.9,963.1L165.7,962.5L167.5,961.5L169.3,962.2L171.1,964.3L172.9,966.4L174.7,967.0L176.5,966.3L178.3,966.6L180.1,970.0L181.9,970.3L183.7,967.1L185.5,964.7L187.3,961.7L189.1,957.7L190.9,953.1L192.7,945.9L194.5,939.3L196.3,936.1L198.1,932.0L199.9,927.6L201.7,924.5L203.5,922.3L205.3,921.3L207.1,924.7L208.9,925.8L210.7,924.3L212.5,923.0L214.3,916.3L216.1,911.4L217.9,906.4L219.7,899.9L221.5,893.4L223.3,886.9L225.1,880.4L226.9,879.3L228.7,880.2L230.5,884.3L232.3,890.8L234.1,895.9L235.9,898.5L237.7,901.4L239.5,902.7L241.3,904.6L243.1,907.2L244.9,907.3L246.7,904.9L248.5,900.7L250.3,895.2L252.1,892.4L253.9,888.0L255.7,886.6L257.5,884.9L259.3,883.6L261.1,888.7L262.9,896.5L264.7,903.1L266.5,908.5L268.3,907.2L270.1,905.9L271.9,904.6L273.7,907.5L275.5,914.0L277.3,921.0L279.1,941.4L280.9,961.8L282.7,976.9L284.5,981.7L286.3,985.2L288.1,989.4L289.9,996.4L291.7,998.4L293.5,998.1L295.3,998.2L297.1,997.8L298.9,1002.6L300.7,1004.8L302.5,1003.1L304.3,999.5L306.1,995.7L307.9,993.7L309.7,992.6L311.5,988.1L313.3,981.5L315.1,976.7L316.9,967.7L318.7,954.8L320.5,939.7L322.3,926.8L324.1,912.7L325.9,898.4L327.7,882.2L329.5,857.8L331.3,835.6L333.1,814.8L334.9,796.8L336.7,778.2L338.5,754.3L340.3,737.8L342.1,723.6L343.9,709.9L345.7,690.8L347.5,672.8L349.3,661.0L351.1,648.7L352.9,637.3L354.7,626.5L356.6,610.1L358.4,598.8L360.2,581.9L362.0,565.1L363.8,541.2L365.6,515.8L367.4,492.2L369.2,468.0L371.0,443.0L372.8,418.8L374.6,400.8L376.4,379.3L378.2,353.3L380.0,329.7L381.8,304.6L383.6,301.2L385.4,283.2L387.2,247.7L389.0,203.1L390.8,178.0L392.6,161.1L394.4,156.7L396.2,171.1L398.0,184.7L399.8,181.1L401.6,167.3L403.4,156.9L405.2,148.6L407.0,148.1L408.8,148.3L410.6,144.6L412.4,148.5L414.2,164.7L416.0,178.9L417.8,186.6L419.6,179.6L421.4,175.3L423.2,173.4L425.0,178.5L426.8,184.3L428.6,173.1L430.4,156.7L432.2,139.0L434.0,133.4L435.8,145.1L437.6,154.6L439.4,164.0L441.2,179.1L443.0,200.3L444.8,217.0L446.6,227.8L448.4,228.9L450.2,223.7L452.0,226.9L453.8,227.0L455.6,229.7L457.4,239.9L459.2,250.1L461.0,259.1L462.8,267.5L464.6,277.2L466.4,288.3L468.2,301.3L470.0,310.4L471.8,334.2L473.6,357.9L475.4,374.6L477.2,383.4L479.0,377.1L480.8,364.9L482.6,348.9L484.4,329.5L486.2,315.0L488.0,301.4L489.8,270.1L491.6,266.9L493.4,277.6L495.2,284.2L497.0,278.6L498.8,272.2L500.6,276.7L502.4,286.2L504.2,279.7L506.0,274.5L507.8,272.5L509.6,270.6L511.4,265.6L513.2,260.0L515.0,253.5L516.8,247.0L518.6,242.5L520.4,238.8L522.2,233.0L524.0,230.2L525.8,230.9L527.6,224.4L529.4,217.9L531.2,215.2L533.0,212.0L534.8,231.6L536.6,250.0L538.4,268.1L540.2,290.4L542.0,297.2L543.8,287.8L545.6,280.0L547.4,272.6L549.2,267.8L551.0,282.8L552.8,310.3L554.6,323.7L556.4,331.6L558.2,346.0L560.0,352.3L561.8,355.0L563.6,361.3L565.4,368.4L567.2,374.7L569.0,382.9L570.8,389.1L572.6,375.0L574.4,358.1L576.2,341.7L578.0,342.4L579.8,353.5L581.6,363.7L583.4,382.0L585.2,402.8L587.0,424.9L588.8,459.9L590.6,486.5L592.4,497.1L594.2,507.5L596.0,515.3L597.8,529.2L599.6,551.6L601.4,568.0L603.2,586.3L605.0,606.4L606.8,601.7L608.6,597.0L610.4,628.4L612.2,667.9L614.0,688.4L615.8,710.7L617.6,732.9L619.4,754.8L621.2,767.1L623.0,778.0L624.8,788.3L626.6,800.0L628.4,805.2L630.2,806.8L632.0,809.9L633.8,807.6L635.6,805.1L637.4,803.8L639.2,812.0L641.0,816.8L642.8,803.9L644.6,792.4L646.4,780.6L648.2,778.7L650.0,771.9L651.8,762.0L653.6,760.2L655.4,770.0L657.2,779.7L659.0,779.4L660.8,776.1L662.6,771.2L664.4,765.8L666.2,773.9L668.0,783.1L669.8,797.7L671.6,793.5L673.4,784.2L675.2,779.0L677.0,770.7L678.8,760.9L680.6,747.6L682.4,736.8L684.2,732.1L686.0,728.2L687.8,724.1L689.6,717.1L691.4,708.0L693.2,700.9L695.0,694.2L696.8,685.5L698.6,693.8L700.4,697.7L702.2,699.8L704.0,701.0L705.8,705.5L707.6,713.3L709.4,720.0L711.2,721.5L713.0,716.6L714.8,713.6L716.6,709.4L718.4,702.0L720.2,695.6L722.0,698.9L723.8,703.5L725.6,692.8L727.4,657.5L729.2,625.9L731.0,600.6L732.8,575.7L734.6,535.4L736.4,501.1L738.2,454.8L740.0,401.2L741.8,365.5L743.6,339.8L745.4,312.3L747.2,276.8L749.0,234.4L750.8,214.2L752.6,202.6L754.4,201.3L756.2,200.9L758.0,209.6L759.8,222.2L761.6,232.8L763.4,240.2L765.2,249.6L767.0,230.3L768.8,211.4L770.6,198.7L772.4,191.0L774.2,197.1L776.0,201.7L777.8,204.2L779.6,206.8L781.4,212.1L783.2,230.5L785.0,247.4L786.8,248.6L788.7,248.8L790.5,254.0L792.3,270.2L794.1,287.0L795.9,304.9L797.7,318.2L799.5,332.8L801.3,358.0L803.1,384.8L804.9,413.6L806.7,443.0L808.5,504.7L810.3,546.9L812.1,557.1L813.9,556.6L815.7,556.4L817.5,565.3L819.3,605.3L821.1,615.6L822.9,633.2L824.7,645.6L826.5,643.2L828.3,645.4L830.1,650.2L831.9,652.4L833.7,676.7L835.5,696.2L837.3,709.3L839.1,720.9L840.9,733.6L842.7,753.0L844.5,770.3L846.3,789.8L848.1,811.3L849.9,827.5L851.7,829.9L853.5,835.4L855.3,877.8L857.1,881.0L858.9,883.0L860.7,881.2L862.5,872.7L864.3,874.7L866.1,870.9L867.9,864.7L869.7,853.3L871.5,837.5L873.3,819.2L875.1,800.1L876.9,782.3L878.7,766.5L880.5,751.6L882.3,738.8L884.1,723.8L885.9,701.0L887.7,684.3L889.5,672.6L891.3,656.7L893.1,636.3L894.9,617.4L896.7,603.3L898.5,601.8L900.3,596.6L902.1,580.2L903.9,553.9L905.7,531.4L907.5,522.9L909.3,506.6L911.1,480.8L912.9,456.0L914.7,438.0L916.5,416.0L918.3,406.0L920.1,404.8L921.9,404.5L923.7,402.5L925.5,405.0L927.3,409.7L929.1,405.6L930.9,388.5L932.7,373.4L934.5,363.6L936.3,347.6L938.1,332.2L939.9,314.5L941.7,301.8L943.5,302.5L945.3,282.6L947.1,271.8L948.9,271.8L950.7,279.1L952.5,288.2L954.3,290.2L956.1,260.9L957.9,245.5L959.7,244.2L961.5,259.7L963.3,266.9L965.1,235.2L966.9,224.9L968.7,228.5L970.5,238.2L972.3,244.3L974.1,238.8L975.9,233.1L977.7,234.4L979.5,234.0L981.3,225.4L983.1,216.7L984.9,207.1L986.7,205.3L988.5,205.6L990.3,205.7L992.1,207.1L993.9,212.5L995.7,210.6L997.5,195.1L999.3,183.2L1001.1,173.9L1002.9,166.1L1004.7,161.9L1006.5,164.2L1008.3,166.7L1010.1,171.5L1011.9,180.1L1013.7,183.2L1015.5,178.6L1017.3,180.4L1019.1,192.1L1020.9,204.9L1022.7,225.3L1024.5,228.1L1026.3,219.1L1028.1,213.5L1029.9,214.0L1031.7,214.3L1033.5,217.5L1035.3,223.0L1037.1,231.6L1038.9,241.0L1040.7,252.6L1042.5,264.3L1044.3,275.8L1046.1,274.9L1047.9,263.9L1049.7,253.8L1051.5,247.2L1053.3,241.1L1055.1,240.6L1056.9,227.6L1058.7,209.4L1060.5,207.2L1062.3,212.9L1064.1,209.3L1065.9,197.5L1067.7,187.6L1069.5,183.5L1071.3,198.1L1073.1,204.5L1074.9,207.6L1076.7,212.3L1078.5,219.8L1080.3,239.9L1082.1,256.1L1083.9,302.2L1085.7,273.4L1087.5,243.2L1089.3,238.4L1091.1,260.8L1092.9,286.4L1094.7,345.9L1096.5,417.3L1098.3,416.2L1100.1,357.8L1101.9,310.2L1103.7,304.1L1105.5,292.4L1107.3,285.4L1109.1,273.6L1110.9,257.8L1112.7,262.8L1114.5,286.4L1116.3,305.3L1118.1,326.3L1119.9,309.8L1121.7,292.0L1123.5,276.6L1125.3,285.2L1127.1,295.0L1128.9,351.8L1130.7,379.9L1132.5,370.9L1134.3,356.4L1136.1,340.9L1137.9,322.8L1139.7,304.5L1141.5,306.3L1143.3,277.9L1145.1,238.5L1146.9,256.6L1148.7,271.7L1150.5,266.1L1152.3,260.0L1154.1,256.0L1155.9,251.8L1157.7,246.0L1159.5,240.8L1161.3,237.4L1163.1,231.2L1164.9,219.1L1166.7,207.1L1168.5,196.1L1170.3,182.3L1172.1,178.9L1173.9,178.3L1175.7,175.5L1177.5,171.6L1179.3,171.1L1181.1,174.3L1182.9,183.0L1184.7,193.5L1186.5,197.9L1188.3,183.8L1190.1,177.0L1191.9,179.2L1193.7,188.3L1195.5,301.5L1197.3,338.3L1199.1,338.2L1200.9,337.2L1202.7,337.5L1204.5,337.9L1206.3,334.8L1208.1,335.0L1209.9,334.7L1211.7,333.4L1213.5,336.6L1215.3,338.3L1217.1,411.0L1218.9,508.2L1220.8,539.1L1222.6,524.1L1224.4,509.1L1226.2,498.1L1228.0,490.2L1229.8,482.3L1231.6,476.2L1233.4,436.7L1235.2,442.3L1237.0,454.2L1238.8,459.6L1240.6,465.6L1242.4,448.8L1244.2,412.5L1246.0,370.6L1247.8,327.1L1249.6,327.1L1251.4,327.2L1253.2,301.7L1255.0,259.5L1256.8,222.2L1258.6,201.5L1260.4,205.1L1262.2,221.0L1264.0,233.7L1265.8,243.8L1267.6,246.9L1269.4,246.6L1271.2,204.3L1273.0,191.1L1274.8,200.1L1276.6,209.3L1278.4,203.8L1280.2,198.3L1282.0,199.6L1283.8,201.2L1285.6,204.2L1287.4,207.8L1289.2,204.5L1291.0,200.3L1292.8,197.4L1294.6,199.6L1296.4,201.2L1298.2,192.2L1300.0,188.7L1301.8,196.9L1303.6,206.5L1305.4,217.9L1307.2,230.2L1309.0,242.6L1310.8,258.9L1312.6,249.4L1314.4,220.3L1316.2,197.5L1318.0,170.8L1319.8,163.3L1321.6,179.2L1323.4,210.0L1325.2,224.7L1327.0,220.5L1328.8,230.0L1330.6,240.1L1332.4,258.8L1334.2,279.2L1336.0,301.8L1337.8,334.6L1339.6,333.1L1341.4,319.6L1343.2,301.0L1345.0,279.9L1346.8,253.1L1348.6,227.2L1350.4,222.7L1352.2,246.6L1354.0,264.0L1355.8,275.0L1357.6,264.4L1359.4,251.7L1361.2,242.3L1363.0,251.7L1364.8,265.8L1366.6,283.0L1368.4,264.0L1370.2,240.2L1372.0,215.4L1373.8,210.9L1375.6,203.4L1377.4,199.3L1379.2,203.7L1381.0,209.5L1382.8,205.1L1384.6,197.2L1386.4,191.0L1388.2,180.4L1390.0,179.4L1391.8,184.7L1393.6,198.6L1395.4,192.1L1397.2,186.2L1399.0,179.6L1400.8,174.3L1402.6,185.3L1404.4,209.9L1406.2,255.1L1408.0,289.2L1409.8,325.0L1411.6,341.2L1413.4,362.6L1415.2,382.2L1417.0,406.5L1418.8,438.3L1420.6,422.4L1422.4,406.5L1424.2,403.2L1426.0,419.7L1427.8,425.2L1429.6,439.5L1431.4,466.5L1433.2,462.4L1435.0,434.0L1436.8,415.7L1438.6,431.8L1440.4,469.1L1442.2,487.0L1444.0,495.1L1445.8,534.4L1447.6,610.8L1449.4,629.9L1451.2,722.8L1453.0,785.1L1454.8,793.8L1456.6,798.7L1458.4,805.8L1460.2,821.3L1462.0,842.2L1463.8,866.6L1465.6,893.2L1467.4,914.3L1469.2,909.2L1471.0,913.0L1472.8,917.9L1474.6,923.6L1476.4,918.9L1478.2,915.9L1480.0,916.8L1481.8,912.7L1483.6,907.1L1485.4,901.2L1487.2,896.2L1489.0,884.9L1490.8,863.4L1492.6,835.3L1494.4,804.2L1496.2,775.6L1498.0,749.5L1499.8,717.3L1501.6,681.0L1503.4,638.2L1505.2,611.4L1507.0,598.9L1508.8,586.5L1510.6,557.8L1512.4,539.5L1514.2,531.3L1516.0,513.2L1517.8,508.3L1519.6,512.4L1521.4,514.4L1523.2,514.3L1525.0,514.0L1526.8,528.2L1528.6,543.6L1530.4,558.6L1532.2,562.0L1534.0,551.8L1535.8,540.1L1537.6,530.1L1539.4,520.9L1541.2,532.6L1543.0,561.7L1544.8,595.9L1546.6,628.8L1548.4,676.0L1550.2,676.4L1552.0,642.9L1553.8,628.8L1555.6,678.5L1557.4,733.5L1559.2,772.7L1561.0,782.6L1562.8,778.1L1564.6,768.4L1566.4,761.1L1568.2,756.5L1570.0,741.9L1571.8,722.9L1573.6,741.6L1575.4,768.1L1577.2,787.5L1579.0,793.8L1580.8,784.2L1582.6,812.0L1584.4,839.2L1586.2,875.4L1588.0,904.7L1589.8,915.9L1591.6,923.4L1593.4,931.4L1595.2,939.8L1597.0,944.4L1598.8,949.0L1600.6,956.3L1602.4,959.3L1604.2,959.1L1606.0,959.0L1607.8,955.1L1609.6,951.8L1611.4,950.8L1613.2,947.1L1615.0,944.3L1616.8,947.3L1618.6,950.2L1620.4,952.5L1622.2,953.7L1624.0,955.4L1625.8,959.3L1627.6,965.1L1629.4,969.4L1631.2,970.3L1633.0,969.8L1634.8,970.4L1636.6,968.0L1638.4,965.5L1640.2,967.8L1642.0,970.4L1643.8,972.6L1645.6,974.1L1647.4,975.4L1649.2,977.4L1651.0,981.4L1652.9,985.8L1654.7,988.4L1656.5,982.4L1658.3,976.3L1660.1,981.6L1661.9,977.7L1663.7,980.4L1665.5,980.5L1667.3,981.2L1669.1,986.2L1670.9,990.4L1672.7,991.9L1674.5,987.4L1676.3,984.5L1678.1,982.3L1679.9,977.9L1681.7,973.9L1683.5,970.7L1685.3,967.4L1687.1,967.7L1688.9,975.2L1690.7,983.2L1692.5,991.4L1694.3,989.6L1696.1,995.9L1697.9,990.0L1699.7,989.4L1701.5,985.9L1703.3,982.1L1705.1,982.0L1706.9,984.7L1708.7,984.7L1710.5,980.8L1712.3,979.1L1714.1,978.1L1715.9,977.5L1717.7,975.2L1719.5,970.3L1721.3,970.4L1723.1,975.5L1724.9,977.2L1726.7,980.5L1728.5,985.9L1730.3,989.6L1732.1,992.9L1733.9,995.5L1735.7,997.0L1737.5,998.1L1739.3,998.8L1741.1,997.9L1742.9,995.8L1744.7,995.6L1746.5,997.1L1748.3,996.1L1750.1,995.5L1751.9,996.0L1753.7,995.2L1755.5,994.9L1757.3,995.5L1759.1,990.3L1760.9,984.8L1762.7,980.4L1764.5,975.9L1766.3,969.3L1768.1,962.1L1769.9,954.6L1771.7,950.1L1773.5,940.8L1775.3,934.7L1777.1,929.5L1778.9,922.2L1780.7,921.9L1782.5,926.3L1784.3,924.3L1786.1,917.2L1787.9,910.5L1789.7,904.3L1791.5,900.4L1793.3,905.4L1795.1,898.8L1796.9,889.5L1798.7,876.8L1800.5,868.0L1802.3,864.9L1804.1,867.1L1805.9,865.5L1807.7,858.4L1809.5,855.3L1811.3,855.6L1813.1,855.6L1814.9,859.9L1816.7,859.7L1818.5,855.0L1820.3,848.7L1822.1,844.3L1823.9,835.3L1825.7,828.1L1827.5,826.0L1829.3,825.3L1831.1,825.6L1832.9,822.3L1834.7,813.8L1836.5,804.7L1838.3,801.3L1840.1,808.9L1841.9,812.9L1843.7,808.6L1845.5,804.1L1847.3,797.5L1849.1,796.0L1850.9,797.9L1852.7,795.8L1854.5,800.2L1856.3,812.6L1858.1,821.1L1859.9,825.7L1861.7,831.3L1863.5,827.8L1865.3,821.5L1867.1,819.3L1868.9,821.9L1870.7,834.7L1872.5,839.1L1874.3,838.6L1876.1,832.3L1877.9,830.5L1879.7,835.2L1881.5,841.5L1883.3,843.5L1885.1,845.1L1886.9,849.3L1888.7,851.0L1890.5,840.7L1892.3,836.5L1894.1,835.9L1895.9,840.2L1897.7,837.5L1899.5,836.1L1901.3,830.5L1903.1,825.8L1904.9,828.3L1906.7,830.9L1908.5,829.7L1910.3,828.0L1912.1,826.4L1913.9,826.8L1915.7,837.0L1917.5,843.3L1919.3,840.9L1921.1,842.9L1922.9,851.7L1924.7,856.0L1926.5,855.1L1928.3,857.3L1930.1,864.3L1931.9,866.8L1933.7,871.1L1935.5,886.7L1937.3,910.1L1939.1,919.8L1940.9,930.8L1942.7,936.9L1944.5,943.3L1946.3,948.7L1948.1,951.0L1949.9,954.5L1951.7,956.7L1953.5,957.1L1955.3,955.9L1957.1,958.7L1958.9,964.2L1960.7,967.8L1962.5,970.1L1964.3,970.2L1966.1,967.2L1967.9,965.8L1969.7,967.9L1971.5,972.7L1973.3,974.2L1975.1,975.7L1976.9,976.3L1978.7,974.5L1980.5,974.2L1982.3,974.6L1984.1,971.7L1985.9,971.3L1987.7,974.0L1989.5,978.0L1991.3,976.2L1993.1,973.0L1994.9,969.5L1996.7,967.4L1998.5,965.6L2000.3,964.8L2002.1,966.8L2003.9,968.0L2005.7,974.4L2007.5,966.5L2009.3,963.5L2011.1,960.8L2012.9,960.7L2014.7,960.9L2016.5,963.4L2018.3,967.8L2020.1,973.5L2021.9,978.1L2023.7,980.7L2025.5,983.4L2027.3,985.0L2029.1,981.2L2030.9,978.6L2032.7,977.7L2034.5,976.6L2036.3,978.2L2038.1,979.5L2039.9,980.8L2041.7,983.3L2043.5,984.6L2045.3,985.9L2047.1,988.2L2048.9,988.8L2050.7,984.3L2052.5,979.9L2054.3,972.6L2056.1,964.8L2057.9,958.9L2059.7,950.8L2061.5,942.3L2063.3,925.6L2065.1,920.0L2066.9,909.4L2068.7,903.4L2070.5,899.3L2072.3,902.9L2074.1,906.1L2075.9,904.1L2077.7,904.2L2079.5,896.6L2081.3,895.5L2083.1,891.5L2084.9,877.1L2086.8,858.9L2088.6,840.3L2090.4,820.5L2092.2,802.4L2094.0,788.7L2095.8,778.1L2097.6,742.4L2099.4,717.3L2101.2,694.9L2103.0,676.1L2104.8,653.3L2106.6,631.9L2108.4,684.4L2110.2,676.6L2112.0,622.2L2113.8,595.4L2115.6,586.9L2117.4,605.2L2119.2,636.9L2121.0,627.8L2122.8,606.2L2124.6,583.0L2126.4,575.6L2128.2,578.8L2130.0,579.2L2131.8,577.7L2133.6,576.0L2135.4,574.7L2137.2,570.6L2139.0,569.1L2140.8,555.3L2142.6,520.3L2144.4,496.6L2146.2,481.9L2148.0,471.8L2149.8,444.1L2151.6,450.8L2153.4,470.8L2155.2,471.1L2157.0,471.4L2158.8,471.7L2160.6,448.4L2162.4,459.2L2164.2,463.0L2166.0,438.9L2167.8,412.3L2169.6,395.8L2171.4,414.7L2173.2,436.5L2175.0,444.2L2176.8,452.2L2178.6,445.6L2180.4,424.5L2182.2,400.9L2184.0,358.4L2185.8,330.4L2187.6,313.5L2189.4,295.4L2191.2,291.3L2193.0,299.7L2194.8,305.4L2196.6,276.6L2198.4,267.6L2200.2,267.2L2202.0,260.3L2203.8,231.4L2205.6,201.5L2207.4,176.4L2209.2,165.3L2211.0,164.6L2212.8,169.9L2214.6,165.4L2216.4,156.2L2218.2,155.2L2220.0,161.4L2221.8,161.3L2223.6,159.8L2225.4,156.6L2227.2,154.7L2229.0,154.7L2230.8,157.2L2232.6,161.0L2234.4,162.8L2236.2,162.0L2238.0,163.3L2239.8,166.3L2241.6,171.4L2243.4,182.6L2245.2,196.9L2247.0,212.7L2248.8,222.9L2250.6,231.0L2252.4,239.9L2254.2,239.0L2256.0,225.7L2257.8,214.3L2259.6,202.3L2261.4,186.6L2263.2,181.2L2265.0,179.4L2266.8,177.4L2268.6,172.7L2270.4,164.6L2272.2,162.4L2274.0,172.3L2275.8,177.2L2277.6,176.9L2279.4,181.1L2281.2,194.4L2283.0,199.5L2284.8,198.9L2286.6,191.1L2288.4,186.5L2290.2,180.8L2292.0,176.5L2293.8,173.8L2295.6,167.9L2297.4,168.1L2299.2,171.3L2301.1,174.1L2301.1,635.0L2299.2,640.0L2297.4,643.7L2295.6,641.6L2293.8,636.5L2292.0,634.2L2290.2,634.9L2288.4,633.3L2286.6,632.2L2284.8,634.7L2283.0,642.2L2281.2,646.4L2279.4,648.0L2277.6,644.4L2275.8,643.4L2274.0,644.8L2272.2,640.9L2270.4,635.5L2268.6,634.7L2266.8,634.6L2265.0,634.0L2263.2,635.0L2261.4,638.3L2259.6,636.2L2257.8,629.7L2256.0,631.2L2254.2,637.4L2252.4,640.2L2250.6,643.8L2248.8,647.8L2247.0,649.8L2245.2,652.3L2243.4,654.1L2241.6,650.2L2239.8,647.1L2238.0,642.7L2236.2,635.5L2234.4,633.9L2232.6,633.9L2230.8,632.5L2229.0,633.0L2227.2,635.6L2225.4,636.3L2223.6,635.3L2221.8,633.9L2220.0,630.4L2218.2,627.4L2216.4,628.2L2214.6,631.5L2212.8,633.8L2211.0,635.8L2209.2,637.1L2207.4,636.5L2205.6,636.1L2203.8,635.0L2202.0,633.8L2200.2,637.6L2198.4,645.1L2196.6,647.4L2194.8,648.1L2193.0,653.5L2191.2,663.0L2189.4,661.5L2187.6,650.6L2185.8,646.9L2184.0,648.0L2182.2,661.4L2180.4,674.4L2178.6,683.0L2176.8,685.1L2175.0,690.7L2173.2,706.2L2171.4,718.3L2169.6,709.5L2167.8,700.1L2166.0,695.6L2164.2,700.5L2162.4,705.9L2160.6,713.8L2158.8,713.9L2157.0,712.7L2155.2,715.3L2153.4,725.9L2151.6,736.5L2149.8,719.9L2148.0,706.9L2146.2,709.3L2144.4,733.1L2142.6,751.9L2140.8,760.9L2139.0,763.6L2137.2,768.1L2135.4,774.6L2133.6,776.7L2131.8,778.1L2130.0,776.0L2128.2,780.1L2126.4,778.5L2124.6,779.7L2122.8,798.5L2121.0,828.4L2119.2,828.5L2117.4,824.3L2115.6,816.0L2113.8,807.3L2112.0,807.0L2110.2,810.4L2108.4,825.1L2106.6,840.9L2104.8,854.2L2103.0,874.0L2101.2,898.2L2099.4,933.7L2097.6,939.5L2095.8,947.3L2094.0,958.3L2092.2,973.3L2090.4,987.9L2088.6,1001.2L2086.8,1012.7L2084.9,1024.8L2083.1,1030.9L2081.3,1034.6L2079.5,1043.0L2077.7,1039.1L2075.9,1040.2L2074.1,1041.2L2072.3,1043.2L2070.5,1045.3L2068.7,1044.8L2066.9,1056.9L2065.1,1061.8L2063.3,1065.8L2061.5,1074.2L2059.7,1082.6L2057.9,1085.2L2056.1,1089.6L2054.3,1095.0L2052.5,1100.8L2050.7,1101.5L2048.9,1103.9L2047.1,1105.9L2045.3,1104.3L2043.5,1100.1L2041.7,1098.4L2039.9,1097.1L2038.1,1097.5L2036.3,1098.5L2034.5,1099.6L2032.7,1102.1L2030.9,1102.2L2029.1,1101.6L2027.3,1103.4L2025.5,1105.1L2023.7,1103.8L2021.9,1104.8L2020.1,1104.9L2018.3,1103.2L2016.5,1094.6L2014.7,1086.4L2012.9,1086.3L2011.1,1086.3L2009.3,1089.2L2007.5,1096.3L2005.7,1102.4L2003.9,1100.8L2002.1,1093.5L2000.3,1090.3L1998.5,1087.6L1996.7,1086.5L1994.9,1086.7L1993.1,1088.1L1991.3,1093.7L1989.5,1102.1L1987.7,1106.5L1985.9,1102.4L1984.1,1095.7L1982.3,1099.4L1980.5,1098.7L1978.7,1097.4L1976.9,1099.6L1975.1,1105.0L1973.3,1106.2L1971.5,1100.9L1969.7,1095.5L1967.9,1089.6L1966.1,1087.5L1964.3,1093.0L1962.5,1097.0L1960.7,1095.6L1958.9,1097.9L1957.1,1093.7L1955.3,1091.0L1953.5,1092.8L1951.7,1095.1L1949.9,1089.0L1948.1,1083.3L1946.3,1088.0L1944.5,1080.0L1942.7,1078.0L1940.9,1075.8L1939.1,1074.7L1937.3,1074.7L1935.5,1075.6L1933.7,1073.1L1931.9,1067.0L1930.1,1057.8L1928.3,1048.1L1926.5,1038.1L1924.7,1036.9L1922.9,1031.7L1921.1,1023.8L1919.3,1022.0L1917.5,1021.8L1915.7,1019.3L1913.9,1013.0L1912.1,1009.9L1910.3,999.4L1908.5,998.0L1906.7,1000.5L1904.9,1002.1L1903.1,1001.4L1901.3,1003.3L1899.5,1007.0L1897.7,1007.9L1895.9,1006.6L1894.1,1010.6L1892.3,1008.4L1890.5,1009.5L1888.7,1011.3L1886.9,1010.2L1885.1,1010.5L1883.3,1011.7L1881.5,1009.2L1879.7,1006.6L1877.9,1005.4L1876.1,1004.4L1874.3,1004.9L1872.5,1005.1L1870.7,1005.1L1868.9,1002.7L1867.1,999.6L1865.3,998.6L1863.5,997.9L1861.7,997.2L1859.9,996.7L1858.1,995.6L1856.3,993.4L1854.5,992.3L1852.7,988.6L1850.9,982.0L1849.1,979.1L1847.3,978.1L1845.5,976.3L1843.7,981.2L1841.9,989.1L1840.1,989.4L1838.3,996.0L1836.5,993.5L1834.7,989.7L1832.9,992.1L1831.1,993.1L1829.3,994.5L1827.5,994.1L1825.7,997.4L1823.9,999.9L1822.1,999.7L1820.3,1000.7L1818.5,1003.2L1816.7,1008.8L1814.9,1006.7L1813.1,1008.0L1811.3,1015.2L1809.5,1022.3L1807.7,1024.4L1805.9,1023.4L1804.1,1022.9L1802.3,1023.8L1800.5,1027.7L1798.7,1034.0L1796.9,1039.9L1795.1,1041.4L1793.3,1041.2L1791.5,1042.7L1789.7,1046.2L1787.9,1049.7L1786.1,1052.2L1784.3,1055.8L1782.5,1061.5L1780.7,1065.7L1778.9,1067.7L1777.1,1069.6L1775.3,1072.1L1773.5,1076.2L1771.7,1071.6L1769.9,1077.0L1768.1,1081.6L1766.3,1086.6L1764.5,1091.9L1762.7,1095.2L1760.9,1098.2L1759.1,1103.1L1757.3,1103.9L1755.5,1102.4L1753.7,1101.1L1751.9,1102.4L1750.1,1104.7L1748.3,1106.5L1746.5,1106.5L1744.7,1106.5L1742.9,1106.5L1741.1,1106.5L1739.3,1105.9L1737.5,1103.6L1735.7,1102.1L1733.9,1103.0L1732.1,1103.1L1730.3,1103.2L1728.5,1101.7L1726.7,1098.8L1724.9,1097.9L1723.1,1098.9L1721.3,1100.2L1719.5,1101.0L1717.7,1100.5L1715.9,1100.6L1714.1,1103.8L1712.3,1104.4L1710.5,1102.7L1708.7,1101.2L1706.9,1098.4L1705.1,1098.1L1703.3,1099.4L1701.5,1101.3L1699.7,1103.8L1697.9,1104.7L1696.1,1105.0L1694.3,1106.1L1692.5,1106.5L1690.7,1104.7L1688.9,1102.8L1687.1,1099.7L1685.3,1099.0L1683.5,1096.8L1681.7,1093.0L1679.9,1092.6L1678.1,1096.4L1676.3,1099.4L1674.5,1098.5L1672.7,1101.9L1670.9,1103.6L1669.1,1104.3L1667.3,1101.8L1665.5,1094.4L1663.7,1091.1L1661.9,1092.6L1660.1,1095.4L1658.3,1098.2L1656.5,1093.7L1654.7,1098.2L1652.9,1097.9L1651.0,1099.6L1649.2,1100.9L1647.4,1101.2L1645.6,1104.7L1643.8,1102.2L1642.0,1098.6L1640.2,1095.7L1638.4,1094.7L1636.6,1091.7L1634.8,1095.4L1633.0,1103.1L1631.2,1104.6L1629.4,1100.0L1627.6,1091.2L1625.8,1086.7L1624.0,1084.1L1622.2,1082.3L1620.4,1077.9L1618.6,1073.4L1616.8,1074.7L1615.0,1076.1L1613.2,1077.2L1611.4,1079.4L1609.6,1081.4L1607.8,1079.1L1606.0,1083.5L1604.2,1087.4L1602.4,1081.2L1600.6,1078.9L1598.8,1080.4L1597.0,1087.9L1595.2,1093.9L1593.4,1079.8L1591.6,1071.4L1589.8,1067.3L1588.0,1060.8L1586.2,1054.1L1584.4,1059.2L1582.6,1065.2L1580.8,1050.0L1579.0,1030.9L1577.2,1011.7L1575.4,993.8L1573.6,977.1L1571.8,959.3L1570.0,940.4L1568.2,935.4L1566.4,944.3L1564.6,953.2L1562.8,957.4L1561.0,959.8L1559.2,966.7L1557.4,961.1L1555.6,936.0L1553.8,905.6L1552.0,899.5L1550.2,884.9L1548.4,872.6L1546.6,858.3L1544.8,838.3L1543.0,818.0L1541.2,800.2L1539.4,778.6L1537.6,765.1L1535.8,758.5L1534.0,757.0L1532.2,757.2L1530.4,754.1L1528.6,750.7L1526.8,748.2L1525.0,738.9L1523.2,731.5L1521.4,729.2L1519.6,722.9L1517.8,726.5L1516.0,729.0L1514.2,733.9L1512.4,743.7L1510.6,757.5L1508.8,783.9L1507.0,816.4L1505.2,853.5L1503.4,885.4L1501.6,901.1L1499.8,927.2L1498.0,950.7L1496.2,966.7L1494.4,984.6L1492.6,1004.0L1490.8,1019.3L1489.0,1034.8L1487.2,1039.2L1485.4,1043.5L1483.6,1048.4L1481.8,1051.8L1480.0,1054.2L1478.2,1055.7L1476.4,1058.2L1474.6,1059.5L1472.8,1066.5L1471.0,1065.4L1469.2,1063.2L1467.4,1061.8L1465.6,1059.9L1463.8,1056.5L1462.0,1044.6L1460.2,1030.9L1458.4,1020.3L1456.6,1010.3L1454.8,994.9L1453.0,975.4L1451.2,957.5L1449.4,934.2L1447.6,913.0L1445.8,893.3L1444.0,855.5L1442.2,818.4L1440.4,783.1L1438.6,747.8L1436.8,720.7L1435.0,706.6L1433.2,700.8L1431.4,703.7L1429.6,715.0L1427.8,715.3L1426.0,710.3L1424.2,702.5L1422.4,689.8L1420.6,683.3L1418.8,686.3L1417.0,696.0L1415.2,705.0L1413.4,703.5L1411.6,696.8L1409.8,692.4L1408.0,689.3L1406.2,690.0L1404.4,683.6L1402.6,667.6L1400.8,651.4L1399.0,642.2L1397.2,638.6L1395.4,634.3L1393.6,636.2L1391.8,638.3L1390.0,638.2L1388.2,634.9L1386.4,634.0L1384.6,632.9L1382.8,632.8L1381.0,632.4L1379.2,636.0L1377.4,640.4L1375.6,640.3L1373.8,638.2L1372.0,634.5L1370.2,631.5L1368.4,633.3L1366.6,635.3L1364.8,648.3L1363.0,655.5L1361.2,657.4L1359.4,649.1L1357.6,644.3L1355.8,644.1L1354.0,648.0L1352.2,655.9L1350.4,663.8L1348.6,654.1L1346.8,644.1L1345.0,637.0L1343.2,640.7L1341.4,644.5L1339.6,650.6L1337.8,655.2L1336.0,661.4L1334.2,672.8L1332.4,684.7L1330.6,678.6L1328.8,670.4L1327.0,662.0L1325.2,654.7L1323.4,652.0L1321.6,660.0L1319.8,661.7L1318.0,643.9L1316.2,632.0L1314.4,633.4L1312.6,631.4L1310.8,639.0L1309.0,646.5L1307.2,651.0L1305.4,654.0L1303.6,652.4L1301.8,653.7L1300.0,651.7L1298.2,645.6L1296.4,648.1L1294.6,639.0L1292.8,638.3L1291.0,642.9L1289.2,641.6L1287.4,635.3L1285.6,636.0L1283.8,639.9L1282.0,640.5L1280.2,640.7L1278.4,640.0L1276.6,639.3L1274.8,641.5L1273.0,645.0L1271.2,642.4L1269.4,637.1L1267.6,639.9L1265.8,645.9L1264.0,649.2L1262.2,651.3L1260.4,655.7L1258.6,652.4L1256.8,640.2L1255.0,635.6L1253.2,634.5L1251.4,632.9L1249.6,634.7L1247.8,636.5L1246.0,654.1L1244.2,676.8L1242.4,688.0L1240.6,703.5L1238.8,711.7L1237.0,715.8L1235.2,714.0L1233.4,712.8L1231.6,709.6L1229.8,707.3L1228.0,703.2L1226.2,709.5L1224.4,720.0L1222.6,734.5L1220.8,751.3L1218.9,752.8L1217.1,762.2L1215.3,765.2L1213.5,755.9L1211.7,727.2L1209.9,692.5L1208.1,679.3L1206.3,676.1L1204.5,671.2L1202.7,657.2L1200.9,655.4L1199.1,658.5L1197.3,683.8L1195.5,709.9L1193.7,709.7L1191.9,685.9L1190.1,664.3L1188.3,646.8L1186.5,638.5L1184.7,631.8L1182.9,634.9L1181.1,638.6L1179.3,639.8L1177.5,636.6L1175.7,638.9L1173.9,637.4L1172.1,636.2L1170.3,637.6L1168.5,638.3L1166.7,635.9L1164.9,631.6L1163.1,630.1L1161.3,634.8L1159.5,640.1L1157.7,641.2L1155.9,642.8L1154.1,646.5L1152.3,647.3L1150.5,644.7L1148.7,645.0L1146.9,652.8L1145.1,657.1L1143.3,646.9L1141.5,644.9L1139.7,636.9L1137.9,649.3L1136.1,648.1L1134.3,675.2L1132.5,688.6L1130.7,693.9L1128.9,700.5L1127.1,706.4L1125.3,687.4L1123.5,668.9L1121.7,651.0L1119.9,647.8L1118.1,642.6L1116.3,656.6L1114.5,679.0L1112.7,692.4L1110.9,666.4L1109.1,640.3L1107.3,636.1L1105.5,634.2L1103.7,640.4L1101.9,655.0L1100.1,681.4L1098.3,697.6L1096.5,708.9L1094.7,711.5L1092.9,697.1L1091.1,696.9L1089.3,696.8L1087.5,652.2L1085.7,647.2L1083.9,645.0L1082.1,659.1L1080.3,675.5L1078.5,673.4L1076.7,663.9L1074.9,654.2L1073.1,649.2L1071.3,648.5L1069.5,649.4L1067.7,642.9L1065.9,637.9L1064.1,636.6L1062.3,638.2L1060.5,643.2L1058.7,647.7L1056.9,645.3L1055.1,641.1L1053.3,639.3L1051.5,641.6L1049.7,647.2L1047.9,649.8L1046.1,648.6L1044.3,651.8L1042.5,661.7L1040.7,659.5L1038.9,660.5L1037.1,658.9L1035.3,653.8L1033.5,651.5L1031.7,651.3L1029.9,651.5L1028.1,649.6L1026.3,644.9L1024.5,641.4L1022.7,642.7L1020.9,649.3L1019.1,653.9L1017.3,650.8L1015.5,645.5L1013.7,642.2L1011.9,640.9L1010.1,646.6L1008.3,637.5L1006.5,633.5L1004.7,633.1L1002.9,633.1L1001.1,628.5L999.3,622.7L997.5,630.4L995.7,641.1L993.9,643.3L992.1,641.7L990.3,642.3L988.5,639.3L986.7,644.3L984.9,642.0L983.1,640.4L981.3,635.0L979.5,641.7L977.7,641.1L975.9,641.3L974.1,644.7L972.3,649.4L970.5,653.0L968.7,656.1L966.9,654.4L965.1,649.3L963.3,640.5L961.5,647.1L959.7,658.0L957.9,660.9L956.1,659.9L954.3,655.2L952.5,651.3L950.7,652.6L948.9,653.9L947.1,649.5L945.3,659.0L943.5,658.7L941.7,649.9L939.9,648.2L938.1,652.4L936.3,674.2L934.5,663.1L932.7,668.3L930.9,674.8L929.1,678.2L927.3,682.1L925.5,688.4L923.7,688.3L921.9,683.6L920.1,685.6L918.3,694.0L916.5,706.2L914.7,709.2L912.9,703.2L911.1,695.1L909.3,675.1L907.5,713.4L905.7,743.1L903.9,768.7L902.1,797.0L900.3,818.4L898.5,834.6L896.7,852.7L894.9,872.6L893.1,886.4L891.3,891.8L889.5,895.8L887.7,902.0L885.9,909.4L884.1,918.4L882.3,937.8L880.5,952.8L878.7,963.1L876.9,974.9L875.1,986.6L873.3,996.7L871.5,1002.3L869.7,1006.6L867.9,1016.3L866.1,1019.6L864.3,1022.3L862.5,1028.0L860.7,1030.7L858.9,1030.2L857.1,1028.6L855.3,1025.7L853.5,1023.3L851.7,1018.5L849.9,1012.7L848.1,1006.8L846.3,995.8L844.5,984.4L842.7,976.5L840.9,967.3L839.1,955.4L837.3,945.7L835.5,931.3L833.7,909.9L831.9,907.2L830.1,890.8L828.3,878.7L826.5,872.1L824.7,863.0L822.9,854.7L821.1,845.5L819.3,836.1L817.5,828.6L815.7,820.0L813.9,808.7L812.1,796.2L810.3,785.6L808.5,763.8L806.7,726.5L804.9,695.2L803.1,673.0L801.3,695.6L799.5,678.2L797.7,676.2L795.9,679.4L794.1,679.0L792.3,673.3L790.5,669.0L788.7,663.5L786.8,659.4L785.0,655.6L783.2,656.1L781.4,653.0L779.6,657.0L777.8,648.5L776.0,646.8L774.2,645.2L772.4,644.0L770.6,641.0L768.8,635.8L767.0,630.1L765.2,636.0L763.4,642.4L761.6,649.2L759.8,648.1L758.0,647.4L756.2,649.4L754.4,646.8L752.6,638.3L750.8,631.0L749.0,629.1L747.2,627.8L745.4,615.6L743.6,612.2L741.8,626.9L740.0,654.0L738.2,689.9L736.4,736.1L734.6,772.3L732.8,810.3L731.0,844.1L729.2,866.8L727.4,876.3L725.6,883.5L723.8,886.6L722.0,884.8L720.2,883.9L718.4,883.7L716.6,884.7L714.8,888.3L713.0,892.2L711.2,895.1L709.4,898.1L707.6,897.4L705.8,894.1L704.0,891.9L702.2,891.4L700.4,888.4L698.6,884.0L696.8,883.3L695.0,882.2L693.2,885.4L691.4,888.2L689.6,893.1L687.8,904.5L686.0,909.6L684.2,914.6L682.4,921.8L680.6,929.5L678.8,940.1L677.0,953.9L675.2,964.5L673.4,970.9L671.6,977.5L669.8,981.4L668.0,980.5L666.2,973.3L664.4,968.8L662.6,962.5L660.8,956.5L659.0,953.8L657.2,950.5L655.4,953.0L653.6,955.6L651.8,949.2L650.0,943.6L648.2,949.9L646.4,956.3L644.6,966.3L642.8,979.4L641.0,977.8L639.2,976.3L637.4,978.0L635.6,979.1L633.8,978.8L632.0,978.8L630.2,988.3L628.4,995.6L626.6,995.2L624.8,991.3L623.0,989.4L621.2,977.9L619.4,972.8L617.6,961.2L615.8,950.1L614.0,935.6L612.2,916.3L610.4,900.7L608.6,909.5L606.8,896.6L605.0,880.0L603.2,859.7L601.4,840.7L599.6,823.3L597.8,805.3L596.0,787.0L594.2,770.8L592.4,756.0L590.6,746.8L588.8,738.6L587.0,733.3L585.2,730.4L583.4,724.1L581.6,706.9L579.8,695.7L578.0,682.5L576.2,668.3L574.4,668.0L572.6,674.9L570.8,684.4L569.0,694.2L567.2,690.3L565.4,688.1L563.6,687.2L561.8,682.5L560.0,678.4L558.2,677.4L556.4,678.3L554.6,680.7L552.8,680.7L551.0,680.7L549.2,679.6L547.4,673.6L545.6,660.0L543.8,659.4L542.0,655.0L540.2,653.3L538.4,652.3L536.6,658.0L534.8,663.0L533.0,667.2L531.2,657.7L529.4,646.5L527.6,639.3L525.8,639.2L524.0,640.6L522.2,643.0L520.4,642.5L518.6,642.2L516.8,644.4L515.0,646.0L513.2,647.2L511.4,650.7L509.6,651.1L507.8,648.7L506.0,647.0L504.2,645.9L502.4,648.1L500.6,654.3L498.8,659.3L497.0,661.4L495.2,657.7L493.4,655.6L491.6,656.3L489.8,655.2L488.0,637.9L486.2,631.3L484.4,633.3L482.6,637.9L480.8,648.4L479.0,663.0L477.2,672.1L475.4,675.1L473.6,677.1L471.8,678.7L470.0,682.0L468.2,688.2L466.4,687.0L464.6,683.8L462.8,674.4L461.0,672.3L459.2,665.4L457.4,661.0L455.6,658.1L453.8,654.3L452.0,649.1L450.2,645.6L448.4,642.5L446.6,645.0L444.8,652.7L443.0,655.6L441.2,653.9L439.4,653.8L437.6,653.7L435.8,652.0L434.0,648.0L432.2,639.9L430.4,630.2L428.6,621.5L426.8,619.7L425.0,628.2L423.2,637.8L421.4,635.1L419.6,630.2L417.8,629.9L416.0,637.3L414.2,643.1L412.4,646.8L410.6,641.2L408.8,635.1L407.0,631.1L405.2,625.0L403.4,624.4L401.6,625.4L399.8,628.7L398.0,629.7L396.2,632.5L394.4,635.5L392.6,639.9L390.8,644.7L389.0,636.4L387.2,626.7L385.4,615.8L383.6,611.4L381.8,612.3L380.0,623.4L378.2,635.0L376.4,657.8L374.6,685.4L372.8,709.2L371.0,728.9L369.2,751.7L367.4,768.5L365.6,772.3L363.8,779.1L362.0,791.0L360.2,800.5L358.4,810.0L356.6,819.1L354.7,826.4L352.9,834.2L351.1,846.1L349.3,855.6L347.5,858.3L345.7,873.1L343.9,887.4L342.1,901.6L340.3,920.5L338.5,935.0L336.7,946.4L334.9,965.5L333.1,991.5L331.3,1015.8L329.5,1034.6L327.7,1049.6L325.9,1061.1L324.1,1063.8L322.3,1074.2L320.5,1081.5L318.7,1085.2L316.9,1091.7L315.1,1097.6L313.3,1098.3L311.5,1099.4L309.7,1099.7L307.9,1092.5L306.1,1102.8L304.3,1104.7L302.5,1105.1L300.7,1103.1L298.9,1102.4L297.1,1103.5L295.3,1103.2L293.5,1102.7L291.7,1103.6L289.9,1103.7L288.1,1102.0L286.3,1100.8L284.5,1100.3L282.7,1099.1L280.9,1102.0L279.1,1102.5L277.3,1096.1L275.5,1088.1L273.7,1075.9L271.9,1065.2L270.1,1060.9L268.3,1059.9L266.5,1058.4L264.7,1051.7L262.9,1054.7L261.1,1053.9L259.3,1050.0L257.5,1047.0L255.7,1046.2L253.9,1046.1L252.1,1039.7L250.3,1039.9L248.5,1041.6L246.7,1042.6L244.9,1044.7L243.1,1047.8L241.3,1050.3L239.5,1050.5L237.7,1047.1L235.9,1045.8L234.1,1048.5L232.3,1050.4L230.5,1047.2L228.7,1042.6L226.9,1041.5L225.1,1040.0L223.3,1040.4L221.5,1042.9L219.7,1052.4L217.9,1049.1L216.1,1051.2L214.3,1052.2L212.5,1054.8L210.7,1057.9L208.9,1057.5L207.1,1057.8L205.3,1060.9L203.5,1062.7L201.7,1062.2L199.9,1063.4L198.1,1067.1L196.3,1069.2L194.5,1068.4L192.7,1069.2L190.9,1078.2L189.1,1076.7L187.3,1076.8L185.5,1077.7L183.7,1079.6L181.9,1081.5L180.1,1081.1L178.3,1087.0L176.5,1089.5L174.7,1090.1L172.9,1087.0L171.1,1087.0L169.3,1087.7L167.5,1086.1L165.7,1086.3L163.9,1096.3L162.1,1094.7L160.3,1100.7L158.5,1102.7L156.7,1098.5L154.9,1096.0L153.1,1093.4L151.3,1090.1L149.5,1091.8L147.7,1090.4L145.9,1090.5L144.1,1091.0L142.3,1089.2L139.9,1088.4Z" fill="#0055aa"/>
<path d="M139.9,976.3L142.3,976.4L144.1,974.5L145.9,974.5L147.7,976.3L149.5,975.2L151.3,972.3L153.1,969.8L154.9,972.8L156.7,979.1L158.5,984.7L160.3,990.8L162.1,984.0L163.9,974.3L165.7,967.3L167.5,966.8L169.3,968.8L171.1,970.7L172.9,973.3L174.7,973.1L176.5,972.1L178.3,973.1L180.1,973.5L181.9,970.3L183.7,967.1L185.5,964.7L187.3,961.7L189.1,957.7L190.9,953.1L192.7,949.4L194.5,948.7L196.3,940.1L198.1,934.3L199.9,942.8L201.7,944.2L203.5,945.4L205.3,947.1L207.1,944.3L208.9,941.9L210.7,940.5L212.5,938.7L214.3,933.6L216.1,927.9L217.9,920.8L219.7,916.6L221.5,913.6L223.3,910.5L225.1,910.5L226.9,910.8L228.7,914.5L230.5,917.3L232.3,919.9L234.1,919.4L235.9,920.6L237.7,920.4L239.5,919.9L241.3,918.6L243.1,914.5L244.9,911.7L246.7,908.8L248.5,907.1L250.3,909.3L252.1,909.9L253.9,914.1L255.7,916.8L257.5,919.4L259.3,922.8L261.1,925.5L262.9,928.5L264.7,932.2L266.5,936.2L268.3,941.5L270.1,946.3L271.9,953.3L273.7,961.2L275.5,965.7L277.3,967.4L279.1,974.7L280.9,981.5L282.7,986.6L284.5,989.2L286.3,987.5L288.1,993.8L289.9,997.4L291.7,998.4L293.5,998.1L295.3,998.2L297.1,999.6L298.9,1002.6L300.7,1004.8L302.5,1003.1L304.3,999.5L306.1,995.7L307.9,993.7L309.7,992.6L311.5,988.1L313.3,981.5L315.1,976.7L316.9,967.7L318.7,954.8L320.5,939.7L322.3,926.8L324.1,912.7L325.9,898.4L327.7,882.2L329.5,857.8L331.3,835.6L333.1,814.8L334.9,796.8L336.7,778.2L338.5,754.3L340.3,737.8L342.1,723.6L343.9,709.9L345.7,690.8L347.5,672.8L349.3,661.0L351.1,648.7L352.9,637.3L354.7,626.5L356.6,610.1L358.4,598.8L360.2,581.9L362.0,565.1L363.8,541.2L365.6,515.8L367.4,492.2L369.2,468.0L371.0,443.0L372.8,418.8L374.6,400.8L376.4,379.3L378.2,353.3L380.0,329.7L381.8,304.6L383.6,301.2L385.4,283.2L387.2,272.9L389.0,258.7L390.8,251.7L392.6,255.3L394.4,259.4L396.2,263.4L398.0,262.5L399.8,252.0L401.6,246.0L403.4,239.0L405.2,238.1L407.0,244.6L408.8,249.0L410.6,249.7L412.4,252.6L414.2,260.3L416.0,270.6L417.8,280.7L419.6,274.7L421.4,265.6L423.2,256.2L425.0,247.8L426.8,240.9L428.6,234.2L430.4,227.9L432.2,235.9L434.0,244.2L435.8,256.1L437.6,271.8L439.4,285.6L441.2,298.8L443.0,309.5L444.8,314.9L446.6,320.3L448.4,325.6L450.2,326.9L452.0,332.7L453.8,338.5L455.6,347.8L457.4,360.2L459.2,371.2L461.0,383.7L462.8,396.9L464.6,408.7L466.4,425.5L468.2,441.5L470.0,453.2L471.8,459.3L473.6,464.7L475.4,460.8L477.2,450.1L479.0,436.9L480.8,418.3L482.6,399.8L484.4,384.5L486.2,370.0L488.0,361.3L489.8,365.9L491.6,376.4L493.4,377.4L495.2,371.3L497.0,370.9L498.8,376.6L500.6,378.2L502.4,374.8L504.2,371.3L506.0,366.6L507.8,362.1L509.6,358.1L511.4,353.2L513.2,348.8L515.0,345.0L516.8,339.8L518.6,336.4L520.4,334.2L522.2,329.8L524.0,326.8L525.8,325.8L527.6,323.2L529.4,327.8L531.2,332.8L533.0,346.0L534.8,365.0L536.6,372.1L538.4,377.3L540.2,376.0L542.0,375.4L543.8,373.0L545.6,372.6L547.4,369.3L549.2,383.6L551.0,400.4L552.8,415.9L554.6,430.2L556.4,437.0L558.2,440.5L560.0,442.2L561.8,446.7L563.6,455.6L565.4,459.7L567.2,464.3L569.0,471.7L570.8,468.8L572.6,457.6L574.4,442.0L576.2,435.1L578.0,462.8L579.8,486.7L581.6,509.9L583.4,531.9L585.2,552.1L587.0,572.1L588.8,587.9L590.6,593.2L592.4,598.5L594.2,603.8L596.0,617.2L597.8,629.6L599.6,643.7L601.4,601.8L603.2,622.9L605.0,646.2L606.8,666.7L608.6,685.1L610.4,701.9L612.2,719.3L614.0,738.2L615.8,755.7L617.6,769.5L619.4,779.2L621.2,793.7L623.0,806.1L624.8,816.1L626.6,823.3L628.4,822.1L630.2,819.3L632.0,821.0L633.8,820.8L635.6,819.5L637.4,817.0L639.2,817.0L641.0,817.8L642.8,805.2L644.6,793.6L646.4,780.6L648.2,781.6L650.0,781.6L651.8,783.5L653.6,790.5L655.4,797.3L657.2,801.4L659.0,800.1L660.8,798.5L662.6,800.6L664.4,809.3L666.2,821.4L668.0,817.3L669.8,805.3L671.6,793.5L673.4,784.2L675.2,779.0L677.0,770.7L678.8,760.9L680.6,748.7L682.4,736.8L684.2,732.1L686.0,728.2L687.8,724.4L689.6,721.2L691.4,717.2L693.2,713.3L695.0,713.8L696.8,716.5L698.6,719.8L700.4,723.0L702.2,726.3L704.0,727.8L705.8,729.6L707.6,731.5L709.4,731.3L711.2,729.0L713.0,720.2L714.8,713.6L716.6,710.9L718.4,711.9L720.2,711.5L722.0,711.6L723.8,708.3L725.6,692.8L727.4,657.5L729.2,625.9L731.0,600.6L732.8,575.7L734.6,535.4L736.4,501.1L738.2,454.8L740.0,401.2L741.8,365.5L743.6,339.8L745.4,320.4L747.2,309.7L749.0,301.2L750.8,294.8L752.6,296.8L754.4,301.1L756.2,309.8L758.0,308.2L759.8,321.5L761.6,325.0L763.4,323.5L765.2,301.9L767.0,302.1L768.8,289.2L770.6,287.5L772.4,292.9L774.2,300.0L776.0,296.7L777.8,305.5L779.6,319.5L781.4,332.5L783.2,342.1L785.0,352.6L786.8,366.1L788.7,377.9L790.5,390.3L792.3,403.1L794.1,420.8L795.9,440.0L797.7,456.1L799.5,471.5L801.3,487.6L803.1,511.4L804.9,540.7L806.7,570.2L808.5,614.5L810.3,627.9L812.1,643.8L813.9,616.7L815.7,626.7L817.5,635.5L819.3,647.0L821.1,659.7L822.9,672.4L824.7,685.2L826.5,696.9L828.3,708.7L830.1,720.5L831.9,732.3L833.7,745.2L835.5,760.1L837.3,773.3L839.1,782.3L840.9,796.8L842.7,811.5L844.5,823.7L846.3,835.6L848.1,847.8L849.9,859.9L851.7,872.1L853.5,883.8L855.3,894.0L857.1,899.2L858.9,900.4L860.7,896.0L862.5,889.3L864.3,883.9L866.1,877.5L867.9,864.7L869.7,853.3L871.5,837.5L873.3,819.2L875.1,800.1L876.9,785.4L878.7,766.5L880.5,751.6L882.3,738.8L884.1,724.5L885.9,707.5L887.7,692.6L889.5,676.2L891.3,660.7L893.1,651.2L894.9,630.9L896.7,612.5L898.5,601.8L900.3,596.6L902.1,580.2L903.9,553.9L905.7,531.4L907.5,522.9L909.3,514.1L911.1,514.8L912.9,514.1L914.7,506.9L916.5,501.1L918.3,494.9L920.1,487.0L921.9,477.0L923.7,469.0L925.5,464.7L927.3,456.7L929.1,437.5L930.9,420.1L932.7,407.3L934.5,397.3L936.3,389.1L938.1,378.5L939.9,369.6L941.7,363.9L943.5,363.6L945.3,366.3L947.1,362.4L948.9,352.4L950.7,348.7L952.5,352.6L954.3,355.0L956.1,354.8L957.9,348.7L959.7,337.6L961.5,326.8L963.3,320.3L965.1,325.3L966.9,329.8L968.7,326.3L970.5,322.2L972.3,322.2L974.1,323.1L975.9,320.9L977.7,308.4L979.5,300.1L981.3,308.1L983.1,305.0L984.9,308.1L986.7,307.1L988.5,305.7L990.3,300.9L992.1,294.8L993.9,288.6L995.7,279.3L997.5,269.2L999.3,259.6L1001.1,258.9L1002.9,257.1L1004.7,256.6L1006.5,256.4L1008.3,264.6L1010.1,275.7L1011.9,282.2L1013.7,284.9L1015.5,287.9L1017.3,297.6L1019.1,299.6L1020.9,304.9L1022.7,315.9L1024.5,321.9L1026.3,323.1L1028.1,320.2L1029.9,309.5L1031.7,318.7L1033.5,327.8L1035.3,334.5L1037.1,341.8L1038.9,349.9L1040.7,353.6L1042.5,346.1L1044.3,337.0L1046.1,331.5L1047.9,326.3L1049.7,322.0L1051.5,318.8L1053.3,311.8L1055.1,312.0L1056.9,312.3L1058.7,306.0L1060.5,298.3L1062.3,295.8L1064.1,293.0L1065.9,287.9L1067.7,294.9L1069.5,301.9L1071.3,297.4L1073.1,307.9L1074.9,318.5L1076.7,340.6L1078.5,366.9L1080.3,378.1L1082.1,369.8L1083.9,365.3L1085.7,363.0L1087.5,377.0L1089.3,393.7L1091.1,415.1L1092.9,440.3L1094.7,462.8L1096.5,482.3L1098.3,463.5L1100.1,438.2L1101.9,413.5L1103.7,403.1L1105.5,392.3L1107.3,389.2L1109.1,385.2L1110.9,390.4L1112.7,396.2L1114.5,406.2L1116.3,405.8L1118.1,389.1L1119.9,392.4L1121.7,395.8L1123.5,409.8L1125.3,426.6L1127.1,445.6L1128.9,462.2L1130.7,472.1L1132.5,456.8L1134.3,432.3L1136.1,403.3L1137.9,385.8L1139.7,368.2L1141.5,352.1L1143.3,351.2L1145.1,351.0L1146.9,355.7L1148.7,360.5L1150.5,355.1L1152.3,347.2L1154.1,338.4L1155.9,335.0L1157.7,329.8L1159.5,321.0L1161.3,314.3L1163.1,311.4L1164.9,301.1L1166.7,293.2L1168.5,281.6L1170.3,274.2L1172.1,265.6L1173.9,259.0L1175.7,268.9L1177.5,279.0L1179.3,285.9L1181.1,290.7L1182.9,293.4L1184.7,289.0L1186.5,283.5L1188.3,285.9L1190.1,295.2L1191.9,313.4L1193.7,342.2L1195.5,390.5L1197.3,421.4L1199.1,417.9L1200.9,417.9L1202.7,418.4L1204.5,423.4L1206.3,428.3L1208.1,435.0L1209.9,451.4L1211.7,490.5L1213.5,509.4L1215.3,555.8L1217.1,567.8L1218.9,565.1L1220.8,560.9L1222.6,550.1L1224.4,530.5L1226.2,521.9L1228.0,514.4L1229.8,522.2L1231.6,530.0L1233.4,542.5L1235.2,548.2L1237.0,517.3L1238.8,490.2L1240.6,486.9L1242.4,448.8L1244.2,412.5L1246.0,370.6L1247.8,327.1L1249.6,327.1L1251.4,327.2L1253.2,327.3L1255.0,300.2L1256.8,299.8L1258.6,313.5L1260.4,325.3L1262.2,334.1L1264.0,335.2L1265.8,334.5L1267.6,332.0L1269.4,304.1L1271.2,292.4L1273.0,291.4L1274.8,298.9L1276.6,305.1L1278.4,302.3L1280.2,299.4L1282.0,300.2L1283.8,300.8L1285.6,297.4L1287.4,293.0L1289.2,290.8L1291.0,289.4L1292.8,289.8L1294.6,288.9L1296.4,282.5L1298.2,292.6L1300.0,303.1L1301.8,312.3L1303.6,326.8L1305.4,337.5L1307.2,338.0L1309.0,344.0L1310.8,330.8L1312.6,300.7L1314.4,280.6L1316.2,268.9L1318.0,277.3L1319.8,289.5L1321.6,302.4L1323.4,318.2L1325.2,328.4L1327.0,340.6L1328.8,350.8L1330.6,365.0L1332.4,379.8L1334.2,396.2L1336.0,398.6L1337.8,390.3L1339.6,376.2L1341.4,357.9L1343.2,338.7L1345.0,331.0L1346.8,318.5L1348.6,325.7L1350.4,341.4L1352.2,348.5L1354.0,347.9L1355.8,344.0L1357.6,344.5L1359.4,349.6L1361.2,350.1L1363.0,346.0L1364.8,342.2L1366.6,336.4L1368.4,327.8L1370.2,302.2L1372.0,296.7L1373.8,298.4L1375.6,297.3L1377.4,297.0L1379.2,292.5L1381.0,283.2L1382.8,275.2L1384.6,268.7L1386.4,269.5L1388.2,275.0L1390.0,278.4L1391.8,280.0L1393.6,279.7L1395.4,280.0L1397.2,279.4L1399.0,278.5L1400.8,289.1L1402.6,330.7L1404.4,365.4L1406.2,411.6L1408.0,451.0L1409.8,467.5L1411.6,478.1L1413.4,481.5L1415.2,480.6L1417.0,479.4L1418.8,478.0L1420.6,479.7L1422.4,486.5L1424.2,497.1L1426.0,506.1L1427.8,510.3L1429.6,506.0L1431.4,502.3L1433.2,501.8L1435.0,502.5L1436.8,519.5L1438.6,537.3L1440.4,555.2L1442.2,573.0L1444.0,590.8L1445.8,608.7L1447.6,639.3L1449.4,706.1L1451.2,751.5L1453.0,788.7L1454.8,808.1L1456.6,826.3L1458.4,845.3L1460.2,871.6L1462.0,894.1L1463.8,906.7L1465.6,920.1L1467.4,929.1L1469.2,937.0L1471.0,944.8L1472.8,947.7L1474.6,941.4L1476.4,933.7L1478.2,925.6L1480.0,918.6L1481.8,915.3L1483.6,911.5L1485.4,901.2L1487.2,896.2L1489.0,886.1L1490.8,863.4L1492.6,835.8L1494.4,808.7L1496.2,779.4L1498.0,749.5L1499.8,717.3L1501.6,681.0L1503.4,638.2L1505.2,625.1L1507.0,609.7L1508.8,590.2L1510.6,578.3L1512.4,569.9L1514.2,565.2L1516.0,565.1L1517.8,565.1L1519.6,567.0L1521.4,569.9L1523.2,575.5L1525.0,582.0L1526.8,590.8L1528.6,600.1L1530.4,599.6L1532.2,596.5L1534.0,591.7L1535.8,589.2L1537.6,590.0L1539.4,597.5L1541.2,611.3L1543.0,624.5L1544.8,649.4L1546.6,675.7L1548.4,702.4L1550.2,722.9L1552.0,736.2L1553.8,751.1L1555.6,766.5L1557.4,778.4L1559.2,783.0L1561.0,782.6L1562.8,781.6L1564.6,776.9L1566.4,775.8L1568.2,772.7L1570.0,779.3L1571.8,791.0L1573.6,803.0L1575.4,818.0L1577.2,832.5L1579.0,854.8L1580.8,876.2L1582.6,893.9L1584.4,903.3L1586.2,910.8L1588.0,919.5L1589.8,931.2L1591.6,941.0L1593.4,948.2L1595.2,953.1L1597.0,957.8L1598.8,959.7L1600.6,961.7L1602.4,965.5L1604.2,966.1L1606.0,963.6L1607.8,962.5L1609.6,957.4L1611.4,953.8L1613.2,948.0L1615.0,946.5L1616.8,951.4L1618.6,953.4L1620.4,954.5L1622.2,955.7L1624.0,957.4L1625.8,961.3L1627.6,967.1L1629.4,971.4L1631.2,972.3L1633.0,971.8L1634.8,972.4L1636.6,970.0L1638.4,967.5L1640.2,969.8L1642.0,972.4L1643.8,974.6L1645.6,976.1L1647.4,977.4L1649.2,979.4L1651.0,983.4L1652.9,987.8L1654.7,990.4L1656.5,984.4L1658.3,978.3L1660.1,983.6L1661.9,979.7L1663.7,982.4L1665.5,982.5L1667.3,983.2L1669.1,988.2L1670.9,992.4L1672.7,993.9L1674.5,989.4L1676.3,986.5L1678.1,984.3L1679.9,979.9L1681.7,975.9L1683.5,972.7L1685.3,969.4L1687.1,969.7L1688.9,977.2L1690.7,985.2L1692.5,993.4L1694.3,991.6L1696.1,997.9L1697.9,992.0L1699.7,991.4L1701.5,987.9L1703.3,984.1L1705.1,984.0L1706.9,986.7L1708.7,986.7L1710.5,982.8L1712.3,981.1L1714.1,980.1L1715.9,979.5L1717.7,977.2L1719.5,972.3L1721.3,972.4L1723.1,977.5L1724.9,979.2L1726.7,982.5L1728.5,987.9L1730.3,991.6L1732.1,994.9L1733.9,997.5L1735.7,999.0L1737.5,1000.1L1739.3,1000.8L1741.1,999.9L1742.9,997.8L1744.7,997.6L1746.5,999.1L1748.3,998.1L1750.1,997.5L1751.9,998.0L1753.7,997.2L1755.5,996.9L1757.3,997.5L1759.1,992.3L1760.9,986.8L1762.7,982.4L1764.5,977.9L1766.3,971.3L1768.1,964.1L1769.9,956.6L1771.7,952.1L1773.5,942.8L1775.3,936.7L1777.1,931.5L1778.9,924.2L1780.7,924.1L1782.5,929.1L1784.3,927.7L1786.1,921.2L1787.9,916.7L1789.7,914.8L1791.5,911.7L1793.3,905.4L1795.1,899.5L1796.9,901.8L1798.7,891.9L1800.5,885.8L1802.3,884.2L1804.1,882.6L1805.9,877.9L1807.7,872.3L1809.5,868.8L1811.3,865.1L1813.1,863.3L1814.9,862.4L1816.7,859.7L1818.5,856.8L1820.3,853.0L1822.1,848.3L1823.9,844.9L1825.7,842.6L1827.5,841.8L1829.3,840.3L1831.1,839.5L1832.9,836.4L1834.7,832.2L1836.5,828.3L1838.3,825.5L1840.1,820.2L1841.9,817.4L1843.7,818.7L1845.5,818.7L1847.3,820.6L1849.1,823.8L1850.9,828.9L1852.7,834.9L1854.5,840.3L1856.3,845.6L1858.1,849.7L1859.9,850.5L1861.7,852.2L1863.5,854.9L1865.3,856.2L1867.1,857.0L1868.9,859.7L1870.7,862.2L1872.5,863.2L1874.3,861.4L1876.1,860.3L1877.9,864.4L1879.7,870.8L1881.5,876.1L1883.3,878.8L1885.1,879.3L1886.9,876.2L1888.7,871.6L1890.5,868.1L1892.3,865.0L1894.1,859.8L1895.9,860.6L1897.7,857.5L1899.5,854.7L1901.3,853.1L1903.1,852.6L1904.9,846.4L1906.7,849.6L1908.5,852.4L1910.3,854.2L1912.1,860.9L1913.9,867.9L1915.7,873.6L1917.5,879.6L1919.3,884.7L1921.1,887.8L1922.9,892.2L1924.7,899.3L1926.5,904.2L1928.3,903.6L1930.1,907.0L1931.9,913.3L1933.7,919.6L1935.5,927.7L1937.3,934.4L1939.1,940.6L1940.9,945.0L1942.7,948.4L1944.5,951.5L1946.3,952.5L1948.1,952.9L1949.9,956.7L1951.7,959.8L1953.5,959.4L1955.3,957.9L1957.1,960.7L1958.9,966.2L1960.7,969.8L1962.5,972.1L1964.3,972.2L1966.1,969.2L1967.9,967.8L1969.7,969.9L1971.5,974.7L1973.3,976.2L1975.1,977.7L1976.9,978.3L1978.7,976.5L1980.5,976.2L1982.3,976.6L1984.1,973.7L1985.9,973.3L1987.7,976.0L1989.5,980.0L1991.3,978.2L1993.1,975.0L1994.9,971.5L1996.7,969.4L1998.5,967.6L2000.3,966.8L2002.1,968.8L2003.9,970.0L2005.7,976.4L2007.5,968.5L2009.3,965.5L2011.1,962.8L2012.9,962.7L2014.7,962.9L2016.5,965.4L2018.3,969.8L2020.1,975.5L2021.9,980.1L2023.7,982.7L2025.5,985.4L2027.3,987.0L2029.1,983.2L2030.9,980.6L2032.7,979.7L2034.5,978.6L2036.3,980.2L2038.1,981.5L2039.9,982.8L2041.7,985.3L2043.5,986.6L2045.3,987.9L2047.1,990.2L2048.9,990.8L2050.7,986.3L2052.5,981.9L2054.3,974.6L2056.1,966.8L2057.9,960.9L2059.7,952.8L2061.5,944.3L2063.3,927.6L2065.1,922.0L2066.9,911.4L2068.7,905.4L2070.5,901.2L2072.3,905.7L2074.1,910.7L2075.9,914.6L2077.7,912.9L2079.5,906.4L2081.3,899.8L2083.1,891.7L2084.9,881.7L2086.8,863.6L2088.6,844.1L2090.4,826.5L2092.2,809.4L2094.0,792.8L2095.8,778.1L2097.6,742.4L2099.4,717.3L2101.2,694.9L2103.0,676.1L2104.8,653.3L2106.6,631.9L2108.4,684.4L2110.2,676.6L2112.0,671.3L2113.8,667.9L2115.6,667.7L2117.4,666.5L2119.2,661.0L2121.0,627.8L2122.8,617.5L2124.6,614.7L2126.4,618.2L2128.2,616.5L2130.0,612.4L2131.8,607.3L2133.6,602.4L2135.4,600.7L2137.2,597.3L2139.0,584.2L2140.8,570.3L2142.6,556.9L2144.4,543.2L2146.2,519.9L2148.0,517.8L2149.8,524.3L2151.6,532.7L2153.4,527.9L2155.2,518.5L2157.0,506.3L2158.8,510.9L2160.6,507.8L2162.4,493.2L2164.2,477.0L2166.0,474.7L2167.8,471.5L2169.6,470.0L2171.4,470.1L2173.2,471.4L2175.0,468.8L2176.8,463.8L2178.6,455.0L2180.4,443.2L2182.2,432.1L2184.0,421.8L2185.8,415.5L2187.6,407.1L2189.4,395.5L2191.2,386.7L2193.0,381.4L2194.8,373.6L2196.6,355.1L2198.4,336.4L2200.2,331.8L2202.0,304.8L2203.8,278.4L2205.6,254.9L2207.4,254.3L2209.2,254.2L2211.0,252.8L2212.8,251.0L2214.6,246.7L2216.4,244.1L2218.2,249.8L2220.0,251.1L2221.8,246.4L2223.6,244.5L2225.4,246.3L2227.2,249.4L2229.0,252.6L2230.8,254.3L2232.6,255.1L2234.4,256.9L2236.2,258.9L2238.0,263.1L2239.8,271.6L2241.6,283.9L2243.4,297.8L2245.2,311.1L2247.0,322.5L2248.8,330.9L2250.6,332.9L2252.4,325.5L2254.2,312.5L2256.0,298.4L2257.8,280.1L2259.6,273.2L2261.4,267.8L2263.2,263.5L2265.0,266.9L2266.8,261.2L2268.6,258.8L2270.4,255.3L2272.2,255.6L2274.0,266.4L2275.8,274.4L2277.6,277.8L2279.4,285.9L2281.2,291.1L2283.0,291.6L2284.8,280.1L2286.6,273.2L2288.4,270.1L2290.2,266.6L2292.0,262.4L2293.8,258.4L2295.6,258.9L2297.4,262.3L2299.2,266.6L2301.1,270.2L2301.1,556.3L2299.2,555.8L2297.4,553.7L2295.6,552.1L2293.8,553.7L2292.0,556.4L2290.2,557.4L2288.4,558.8L2286.6,561.7L2284.8,566.1L2283.0,565.5L2281.2,567.2L2279.4,564.0L2277.6,559.4L2275.8,557.1L2274.0,557.0L2272.2,555.4L2270.4,553.3L2268.6,554.1L2266.8,555.1L2265.0,556.6L2263.2,558.2L2261.4,560.3L2259.6,564.9L2257.8,572.9L2256.0,580.0L2254.2,583.4L2252.4,586.6L2250.6,588.1L2248.8,587.1L2247.0,581.6L2245.2,574.3L2243.4,564.9L2241.6,561.9L2239.8,556.9L2238.0,552.2L2236.2,550.0L2234.4,547.1L2232.6,543.8L2230.8,544.3L2229.0,545.5L2227.2,544.4L2225.4,544.8L2223.6,546.4L2221.8,545.5L2220.0,545.5L2218.2,547.5L2216.4,547.1L2214.6,546.1L2212.8,546.2L2211.0,548.1L2209.2,552.2L2207.4,556.9L2205.6,560.1L2203.8,570.9L2202.0,581.1L2200.2,590.0L2198.4,598.2L2196.6,604.9L2194.8,609.8L2193.0,617.8L2191.2,620.6L2189.4,621.2L2187.6,623.3L2185.8,631.0L2184.0,638.7L2182.2,652.2L2180.4,665.1L2178.6,679.8L2176.8,685.1L2175.0,687.1L2173.2,681.3L2171.4,679.4L2169.6,682.4L2167.8,684.4L2166.0,688.8L2164.2,695.3L2162.4,701.1L2160.6,704.2L2158.8,710.3L2157.0,712.7L2155.2,713.3L2153.4,716.0L2151.6,718.9L2149.8,712.3L2148.0,706.9L2146.2,709.3L2144.4,733.1L2142.6,751.9L2140.8,760.9L2139.0,763.6L2137.2,768.1L2135.4,774.6L2133.6,776.7L2131.8,778.1L2130.0,776.0L2128.2,780.1L2126.4,778.5L2124.6,779.7L2122.8,798.5L2121.0,828.4L2119.2,828.5L2117.4,824.3L2115.6,816.0L2113.8,807.3L2112.0,807.0L2110.2,810.4L2108.4,825.1L2106.6,840.9L2104.8,854.2L2103.0,874.0L2101.2,898.2L2099.4,933.7L2097.6,939.5L2095.8,947.3L2094.0,958.3L2092.2,973.3L2090.4,987.9L2088.6,1001.2L2086.8,1012.7L2084.9,1024.8L2083.1,1030.9L2081.3,1034.6L2079.5,1043.0L2077.7,1039.1L2075.9,1040.2L2074.1,1041.2L2072.3,1043.2L2070.5,1045.3L2068.7,1044.8L2066.9,1056.9L2065.1,1061.8L2063.3,1065.8L2061.5,1074.2L2059.7,1082.6L2057.9,1085.2L2056.1,1089.6L2054.3,1095.0L2052.5,1100.8L2050.7,1101.5L2048.9,1100.0L2047.1,1102.4L2045.3,1101.9L2043.5,1097.5L2041.7,1093.4L2039.9,1094.3L2038.1,1096.7L2036.3,1096.2L2034.5,1096.2L2032.7,1098.4L2030.9,1101.1L2029.1,1101.6L2027.3,1101.0L2025.5,1102.2L2023.7,1103.8L2021.9,1104.8L2020.1,1099.7L2018.3,1090.1L2016.5,1084.4L2014.7,1082.4L2012.9,1085.7L2011.1,1084.7L2009.3,1086.5L2007.5,1089.5L2005.7,1091.8L2003.9,1092.5L2002.1,1091.5L2000.3,1089.0L1998.5,1086.3L1996.7,1085.0L1994.9,1085.3L1993.1,1087.2L1991.3,1092.7L1989.5,1097.8L1987.7,1097.0L1985.9,1092.2L1984.1,1091.3L1982.3,1099.4L1980.5,1093.4L1978.7,1094.2L1976.9,1097.2L1975.1,1100.4L1973.3,1100.5L1971.5,1096.3L1969.7,1090.6L1967.9,1085.4L1966.1,1084.7L1964.3,1090.0L1962.5,1091.6L1960.7,1089.0L1958.9,1087.0L1957.1,1082.0L1955.3,1087.1L1953.5,1084.6L1951.7,1081.8L1949.9,1078.6L1948.1,1075.0L1946.3,1073.0L1944.5,1073.4L1942.7,1071.8L1940.9,1068.7L1939.1,1068.0L1937.3,1068.0L1935.5,1065.8L1933.7,1062.4L1931.9,1049.1L1930.1,1041.7L1928.3,1034.6L1926.5,1030.3L1924.7,1028.1L1922.9,1024.1L1921.1,1021.4L1919.3,1017.3L1917.5,1013.4L1915.7,1010.5L1913.9,1008.4L1912.1,1005.1L1910.3,999.4L1908.5,998.0L1906.7,1000.5L1904.9,1002.1L1903.1,1001.4L1901.3,1003.3L1899.5,1007.0L1897.7,1007.9L1895.9,1006.6L1894.1,1010.6L1892.3,1008.4L1890.5,1009.5L1888.7,1011.3L1886.9,1010.2L1885.1,1010.5L1883.3,1011.7L1881.5,1009.2L1879.7,1006.6L1877.9,1005.4L1876.1,1004.4L1874.3,1004.9L1872.5,1005.1L1870.7,1005.1L1868.9,1002.7L1867.1,999.6L1865.3,998.6L1863.5,997.9L1861.7,997.2L1859.9,996.7L1858.1,995.6L1856.3,993.4L1854.5,992.3L1852.7,988.6L1850.9,982.0L1849.1,979.1L1847.3,978.1L1845.5,976.2L1843.7,978.8L1841.9,989.1L1840.1,981.3L1838.3,981.9L1836.5,984.8L1834.7,987.6L1832.9,989.9L1831.1,991.3L1829.3,994.5L1827.5,994.1L1825.7,996.1L1823.9,998.9L1822.1,999.7L1820.3,1000.6L1818.5,1003.2L1816.7,1006.4L1814.9,1006.7L1813.1,1008.0L1811.3,1015.2L1809.5,1022.3L1807.7,1024.4L1805.9,1023.4L1804.1,1022.9L1802.3,1023.8L1800.5,1027.7L1798.7,1034.0L1796.9,1039.9L1795.1,1041.4L1793.3,1041.2L1791.5,1042.7L1789.7,1046.2L1787.9,1049.7L1786.1,1052.2L1784.3,1055.8L1782.5,1061.5L1780.7,1065.7L1778.9,1067.7L1777.1,1069.6L1775.3,1072.1L1773.5,1076.2L1771.7,1071.6L1769.9,1077.0L1768.1,1081.6L1766.3,1086.6L1764.5,1091.9L1762.7,1095.2L1760.9,1098.2L1759.1,1103.1L1757.3,1103.9L1755.5,1102.4L1753.7,1101.1L1751.9,1102.4L1750.1,1104.7L1748.3,1106.5L1746.5,1106.5L1744.7,1106.5L1742.9,1106.5L1741.1,1106.5L1739.3,1105.9L1737.5,1103.6L1735.7,1102.1L1733.9,1103.0L1732.1,1103.1L1730.3,1103.2L1728.5,1101.7L1726.7,1098.8L1724.9,1097.9L1723.1,1098.9L1721.3,1100.2L1719.5,1101.0L1717.7,1100.5L1715.9,1100.6L1714.1,1103.8L1712.3,1104.4L1710.5,1102.7L1708.7,1101.2L1706.9,1098.4L1705.1,1098.1L1703.3,1099.4L1701.5,1101.3L1699.7,1103.8L1697.9,1104.7L1696.1,1105.0L1694.3,1104.9L1692.5,1103.8L1690.7,1102.7L1688.9,1100.8L1687.1,1098.8L1685.3,1099.0L1683.5,1096.8L1681.7,1092.9L1679.9,1091.4L1678.1,1096.4L1676.3,1099.4L1674.5,1098.5L1672.7,1097.0L1670.9,1096.5L1669.1,1094.2L1667.3,1094.5L1665.5,1093.9L1663.7,1091.1L1661.9,1088.1L1660.1,1091.2L1658.3,1093.9L1656.5,1093.7L1654.7,1093.2L1652.9,1095.8L1651.0,1099.6L1649.2,1100.9L1647.4,1100.0L1645.6,1101.7L1643.8,1102.2L1642.0,1098.6L1640.2,1095.7L1638.4,1094.7L1636.6,1090.5L1634.8,1093.5L1633.0,1103.1L1631.2,1099.5L1629.4,1092.6L1627.6,1085.2L1625.8,1079.7L1624.0,1075.6L1622.2,1074.0L1620.4,1072.3L1618.6,1066.9L1616.8,1068.5L1615.0,1072.5L1613.2,1074.4L1611.4,1075.4L1609.6,1075.8L1607.8,1077.5L1606.0,1080.9L1604.2,1084.6L1602.4,1081.2L1600.6,1076.7L1598.8,1080.1L1597.0,1084.2L1595.2,1082.3L1593.4,1077.5L1591.6,1070.4L1589.8,1065.6L1588.0,1060.0L1586.2,1052.5L1584.4,1058.2L1582.6,1065.2L1580.8,1050.0L1579.0,1030.9L1577.2,1011.7L1575.4,993.8L1573.6,977.1L1571.8,959.3L1570.0,940.4L1568.2,935.4L1566.4,944.3L1564.6,953.2L1562.8,957.4L1561.0,959.8L1559.2,966.7L1557.4,961.1L1555.6,936.0L1553.8,905.6L1552.0,899.5L1550.2,884.9L1548.4,872.6L1546.6,858.3L1544.8,838.3L1543.0,818.0L1541.2,800.2L1539.4,778.6L1537.6,765.1L1535.8,758.5L1534.0,757.0L1532.2,757.2L1530.4,754.1L1528.6,750.7L1526.8,748.2L1525.0,738.9L1523.2,731.5L1521.4,729.2L1519.6,722.9L1517.8,726.5L1516.0,729.0L1514.2,733.9L1512.4,743.7L1510.6,757.5L1508.8,783.9L1507.0,816.4L1505.2,853.5L1503.4,885.4L1501.6,901.1L1499.8,927.2L1498.0,950.7L1496.2,966.7L1494.4,984.6L1492.6,1004.0L1490.8,1019.3L1489.0,1034.8L1487.2,1039.2L1485.4,1043.5L1483.6,1048.4L1481.8,1051.8L1480.0,1054.2L1478.2,1055.7L1476.4,1058.2L1474.6,1059.5L1472.8,1066.5L1471.0,1065.4L1469.2,1063.2L1467.4,1061.8L1465.6,1059.9L1463.8,1056.5L1462.0,1044.6L1460.2,1030.9L1458.4,1020.3L1456.6,1010.3L1454.8,994.9L1453.0,975.4L1451.2,957.5L1449.4,934.2L1447.6,913.0L1445.8,893.3L1444.0,855.5L1442.2,818.4L1440.4,783.1L1438.6,747.8L1436.8,712.6L1435.0,704.1L1433.2,698.6L1431.4,695.3L1429.6,694.6L1427.8,689.9L1426.0,691.1L1424.2,688.3L1422.4,686.6L1420.6,683.3L1418.8,681.6L1417.0,680.3L1415.2,676.5L1413.4,672.6L1411.6,666.1L1409.8,656.6L1408.0,645.8L1406.2,633.2L1404.4,618.1L1402.6,607.6L1400.8,579.7L1399.0,565.3L1397.2,560.4L1395.4,559.3L1393.6,560.5L1391.8,561.0L1390.0,560.6L1388.2,560.9L1386.4,562.0L1384.6,563.0L1382.8,564.5L1381.0,565.5L1379.2,567.4L1377.4,570.6L1375.6,572.4L1373.8,573.4L1372.0,577.0L1370.2,581.9L1368.4,592.7L1366.6,596.1L1364.8,599.4L1363.0,604.6L1361.2,602.4L1359.4,603.5L1357.6,602.9L1355.8,600.9L1354.0,600.2L1352.2,599.4L1350.4,597.3L1348.6,591.7L1346.8,594.4L1345.0,600.8L1343.2,606.0L1341.4,611.0L1339.6,617.1L1337.8,625.0L1336.0,627.8L1334.2,622.9L1332.4,618.8L1330.6,607.4L1328.8,603.7L1327.0,596.7L1325.2,587.9L1323.4,579.8L1321.6,573.0L1319.8,573.0L1318.0,566.9L1316.2,565.2L1314.4,569.2L1312.6,575.9L1310.8,584.2L1309.0,588.2L1307.2,591.5L1305.4,589.3L1303.6,586.6L1301.8,583.3L1300.0,578.4L1298.2,573.6L1296.4,569.4L1294.6,566.8L1292.8,570.8L1291.0,572.7L1289.2,571.6L1287.4,571.5L1285.6,570.3L1283.8,569.6L1282.0,569.9L1280.2,572.5L1278.4,575.1L1276.6,573.4L1274.8,571.5L1273.0,571.2L1271.2,574.1L1269.4,581.6L1267.6,588.6L1265.8,591.4L1264.0,587.9L1262.2,585.5L1260.4,584.7L1258.6,583.2L1256.8,584.5L1255.0,588.6L1253.2,597.9L1251.4,612.8L1249.6,634.6L1247.8,615.7L1246.0,654.1L1244.2,676.8L1242.4,688.0L1240.6,703.5L1238.8,711.7L1237.0,715.8L1235.2,714.0L1233.4,712.8L1231.6,709.6L1229.8,707.3L1228.0,703.2L1226.2,709.5L1224.4,720.0L1222.6,734.5L1220.8,751.3L1218.9,752.8L1217.1,716.5L1215.3,661.4L1213.5,622.4L1211.7,598.6L1209.9,632.0L1208.1,640.1L1206.3,643.8L1204.5,647.2L1202.7,649.3L1200.9,650.3L1199.1,652.6L1197.3,657.2L1195.5,660.6L1193.7,621.6L1191.9,591.9L1190.1,578.4L1188.3,566.4L1186.5,565.5L1184.7,565.5L1182.9,566.5L1181.1,566.4L1179.3,565.3L1177.5,564.7L1175.7,560.7L1173.9,560.8L1172.1,561.4L1170.3,561.2L1168.5,567.2L1166.7,570.0L1164.9,575.1L1163.1,579.3L1161.3,582.7L1159.5,586.3L1157.7,589.2L1155.9,591.5L1154.1,595.7L1152.3,598.0L1150.5,598.5L1148.7,599.2L1146.9,600.9L1145.1,602.7L1143.3,606.0L1141.5,608.1L1139.7,606.7L1137.9,627.6L1136.1,639.4L1134.3,654.2L1132.5,669.4L1130.7,665.8L1128.9,662.6L1127.1,661.8L1125.3,656.0L1123.5,648.0L1121.7,647.6L1119.9,647.8L1118.1,642.6L1116.3,642.1L1114.5,641.8L1112.7,640.6L1110.9,640.0L1109.1,638.6L1107.3,636.1L1105.5,634.1L1103.7,632.3L1101.9,629.1L1100.1,655.3L1098.3,689.3L1096.5,708.9L1094.7,711.5L1092.9,672.3L1091.1,627.6L1089.3,571.1L1087.5,535.2L1085.7,511.7L1083.9,502.4L1082.1,606.6L1080.3,600.7L1078.5,595.6L1076.7,590.2L1074.9,587.3L1073.1,583.6L1071.3,578.8L1069.5,574.5L1067.7,570.0L1065.9,570.6L1064.1,575.0L1062.3,577.2L1060.5,580.2L1058.7,583.6L1056.9,584.4L1055.1,586.8L1053.3,589.3L1051.5,590.3L1049.7,592.6L1047.9,596.4L1046.1,600.3L1044.3,604.4L1042.5,607.6L1040.7,605.8L1038.9,604.8L1037.1,603.4L1035.3,598.9L1033.5,593.9L1031.7,590.4L1029.9,589.6L1028.1,590.4L1026.3,588.4L1024.5,584.3L1022.7,581.6L1020.9,578.6L1019.1,576.5L1017.3,575.2L1015.5,571.3L1013.7,567.1L1011.9,564.4L1010.1,561.1L1008.3,556.9L1006.5,553.5L1004.7,552.9L1002.9,555.3L1001.1,557.1L999.3,558.8L997.5,562.0L995.7,568.8L993.9,572.0L992.1,573.3L990.3,574.3L988.5,575.3L986.7,576.8L984.9,580.1L983.1,581.5L981.3,580.2L979.5,580.8L977.7,578.1L975.9,588.0L974.1,592.5L972.3,593.2L970.5,591.9L968.7,591.7L966.9,592.7L965.1,593.7L963.3,596.3L961.5,599.1L959.7,599.6L957.9,601.2L956.1,603.9L954.3,606.6L952.5,604.9L950.7,603.1L948.9,601.4L947.1,604.3L945.3,608.5L943.5,613.6L941.7,617.9L939.9,626.9L938.1,636.5L936.3,645.6L934.5,656.8L932.7,668.3L930.9,674.8L929.1,678.2L927.3,681.5L925.5,688.4L923.7,688.3L921.9,676.1L920.1,670.9L918.3,679.7L916.5,684.1L914.7,679.7L912.9,676.2L911.1,654.5L909.3,675.1L907.5,713.4L905.7,743.1L903.9,768.7L902.1,797.0L900.3,818.4L898.5,834.6L896.7,852.7L894.9,872.6L893.1,886.4L891.3,891.8L889.5,895.8L887.7,902.0L885.9,909.4L884.1,918.4L882.3,937.8L880.5,952.8L878.7,963.1L876.9,974.9L875.1,986.6L873.3,996.7L871.5,1002.3L869.7,1006.6L867.9,1016.3L866.1,1019.6L864.3,1022.3L862.5,1028.0L860.7,1030.7L858.9,1030.2L857.1,1028.6L855.3,1025.7L853.5,1023.3L851.7,1018.5L849.9,1012.7L848.1,1006.8L846.3,995.8L844.5,984.4L842.7,976.5L840.9,967.3L839.1,955.4L837.3,945.7L835.5,931.3L833.7,909.9L831.9,907.2L830.1,890.8L828.3,878.7L826.5,872.1L824.7,863.0L822.9,854.7L821.1,845.5L819.3,836.1L817.5,828.6L815.7,820.0L813.9,808.7L812.1,796.2L810.3,785.6L808.5,763.8L806.7,726.5L804.9,695.2L803.1,673.0L801.3,646.7L799.5,613.2L797.7,582.8L795.9,555.2L794.1,533.9L792.3,515.7L790.5,498.2L788.7,483.1L786.8,471.1L785.0,609.5L783.2,601.5L781.4,596.8L779.6,590.3L777.8,584.2L776.0,579.0L774.2,575.8L772.4,573.5L770.6,573.9L768.8,575.1L767.0,577.5L765.2,579.4L763.4,582.0L761.6,586.0L759.8,583.7L758.0,580.4L756.2,575.7L754.4,573.9L752.6,570.6L750.8,577.5L749.0,585.7L747.2,592.7L745.4,600.9L743.6,612.2L741.8,626.9L740.0,654.0L738.2,689.9L736.4,736.1L734.6,772.3L732.8,810.3L731.0,844.1L729.2,866.8L727.4,876.3L725.6,883.5L723.8,886.6L722.0,884.8L720.2,883.9L718.4,883.7L716.6,884.7L714.8,888.3L713.0,892.2L711.2,895.1L709.4,898.1L707.6,897.4L705.8,894.1L704.0,891.9L702.2,891.4L700.4,888.4L698.6,884.0L696.8,883.3L695.0,882.2L693.2,885.4L691.4,888.2L689.6,893.1L687.8,904.5L686.0,909.6L684.2,914.6L682.4,921.8L680.6,929.5L678.8,940.1L677.0,953.9L675.2,964.5L673.4,970.9L671.6,977.5L669.8,981.4L668.0,980.5L666.2,973.3L664.4,968.8L662.6,962.5L660.8,956.5L659.0,953.8L657.2,950.5L655.4,953.0L653.6,955.6L651.8,949.2L650.0,943.6L648.2,949.9L646.4,956.3L644.6,966.3L642.8,979.4L641.0,977.8L639.2,976.3L637.4,978.0L635.6,979.1L633.8,978.8L632.0,978.8L630.2,988.3L628.4,995.6L626.6,995.2L624.8,991.3L623.0,989.4L621.2,977.9L619.4,972.8L617.6,961.2L615.8,950.1L614.0,935.6L612.2,916.3L610.4,900.7L608.6,909.5L606.8,896.6L605.0,880.0L603.2,859.7L601.4,840.7L599.6,823.3L597.8,805.3L596.0,787.0L594.2,770.8L592.4,755.6L590.6,739.1L588.8,729.4L587.0,723.7L585.2,717.9L583.4,712.1L581.6,706.9L579.8,695.7L578.0,682.5L576.2,668.3L574.4,650.7L572.6,658.2L570.8,659.3L569.0,652.1L567.2,644.3L565.4,637.7L563.6,630.6L561.8,626.5L560.0,624.9L558.2,621.9L556.4,617.9L554.6,612.7L552.8,607.4L551.0,605.7L549.2,606.9L547.4,608.1L545.6,609.3L543.8,606.9L542.0,606.1L540.2,605.7L538.4,604.9L536.6,603.3L534.8,600.2L533.0,595.3L531.2,589.2L529.4,585.6L527.6,583.4L525.8,583.1L524.0,581.3L522.2,586.5L520.4,590.6L518.6,590.4L516.8,588.5L515.0,591.0L513.2,592.3L511.4,594.4L509.6,595.7L507.8,596.5L506.0,597.5L504.2,599.1L502.4,599.7L500.6,597.0L498.8,600.6L497.0,601.7L495.2,602.1L493.4,600.6L491.6,600.0L489.8,602.6L488.0,607.2L486.2,605.0L484.4,614.8L482.6,623.6L480.8,633.6L479.0,643.3L477.2,652.2L475.4,660.3L473.6,665.3L471.8,612.6L470.0,606.7L468.2,601.8L466.4,601.0L464.6,600.1L462.8,595.9L461.0,592.0L459.2,589.5L457.4,588.2L455.6,586.5L453.8,584.6L452.0,582.3L450.2,581.9L448.4,583.2L446.6,580.4L444.8,577.3L443.0,575.3L441.2,565.6L439.4,562.7L437.6,556.9L435.8,552.5L434.0,548.7L432.2,542.8L430.4,536.9L428.6,539.7L426.8,544.8L425.0,549.0L423.2,553.7L421.4,557.0L419.6,559.5L417.8,558.4L416.0,556.0L414.2,555.8L412.4,554.6L410.6,550.3L408.8,548.1L407.0,546.8L405.2,547.4L403.4,549.1L401.6,551.1L399.8,551.3L398.0,551.8L396.2,555.6L394.4,554.3L392.6,551.2L390.8,553.0L389.0,558.6L387.2,566.1L385.4,573.3L383.6,580.5L381.8,568.5L380.0,623.4L378.2,635.0L376.4,657.8L374.6,685.4L372.8,709.2L371.0,728.9L369.2,751.7L367.4,768.5L365.6,772.3L363.8,779.1L362.0,791.0L360.2,800.5L358.4,810.0L356.6,819.1L354.7,826.4L352.9,834.2L351.1,846.1L349.3,855.6L347.5,858.3L345.7,873.1L343.9,887.4L342.1,901.6L340.3,920.5L338.5,935.0L336.7,946.4L334.9,965.5L333.1,991.5L331.3,1015.8L329.5,1034.6L327.7,1049.6L325.9,1061.1L324.1,1063.8L322.3,1074.2L320.5,1081.5L318.7,1085.2L316.9,1091.7L315.1,1097.6L313.3,1098.3L311.5,1099.4L309.7,1099.7L307.9,1092.5L306.1,1102.8L304.3,1104.7L302.5,1105.1L300.7,1103.1L298.9,1102.4L297.1,1103.5L295.3,1103.2L293.5,1102.7L291.7,1103.6L289.9,1103.7L288.1,1102.0L286.3,1100.8L284.5,1098.7L282.7,1097.1L280.9,1092.9L279.1,1086.3L277.3,1077.7L275.5,1074.2L273.7,1066.1L271.9,1062.3L270.1,1060.9L268.3,1059.9L266.5,1058.4L264.7,1051.7L262.9,1054.7L261.1,1053.9L259.3,1050.0L257.5,1047.0L255.7,1046.2L253.9,1046.1L252.1,1039.7L250.3,1039.9L248.5,1041.6L246.7,1042.6L244.9,1044.7L243.1,1047.8L241.3,1050.3L239.5,1050.5L237.7,1047.1L235.9,1045.8L234.1,1048.5L232.3,1050.4L230.5,1047.2L228.7,1042.6L226.9,1041.5L225.1,1040.0L223.3,1040.4L221.5,1042.9L219.7,1052.4L217.9,1049.1L216.1,1051.2L214.3,1052.2L212.5,1054.8L210.7,1057.9L208.9,1057.5L207.1,1057.8L205.3,1060.9L203.5,1062.7L201.7,1062.2L199.9,1063.4L198.1,1067.1L196.3,1069.2L194.5,1068.4L192.7,1069.2L190.9,1078.2L189.1,1076.7L187.3,1076.8L185.5,1077.7L183.7,1079.6L181.9,1081.5L180.1,1081.1L178.3,1084.6L176.5,1089.5L174.7,1090.1L172.9,1087.0L171.1,1085.6L169.3,1084.8L167.5,1084.3L165.7,1082.4L163.9,1090.4L162.1,1092.5L160.3,1094.6L158.5,1094.1L156.7,1093.9L154.9,1090.8L153.1,1088.2L151.3,1090.1L149.5,1091.8L147.7,1090.4L145.9,1090.5L144.1,1091.0L142.3,1089.2L139.9,1088.4Z" fill="#008080"/>
<path d="M139.9,978.8L142.3,978.9L144.1,977.0L145.9,977.0L147.7,978.8L149.5,977.7L151.3,974.8L153.1,972.3L154.9,975.3L156.7,981.6L158.5,987.2L160.3,993.3L162.1,986.5L163.9,976.8L165.7,969.8L167.5,969.3L169.3,971.3L171.1,973.2L172.9,975.8L174.7,975.6L176.5,974.6L178.3,975.6L180.1,976.0L181.9,972.8L183.7,969.6L185.5,967.2L187.3,964.2L189.1,960.2L190.9,955.6L192.7,951.9L194.5,951.2L196.3,942.6L198.1,936.8L199.9,945.3L201.7,946.7L203.5,947.9L205.3,949.6L207.1,946.8L208.9,944.4L210.7,943.0L212.5,941.2L214.3,936.1L216.1,930.4L217.9,923.3L219.7,919.1L221.5,916.1L223.3,913.0L225.1,913.0L226.9,913.3L228.7,917.0L230.5,919.8L232.3,922.4L234.1,921.9L235.9,923.1L237.7,922.9L239.5,922.4L241.3,921.1L243.1,917.0L244.9,914.2L246.7,911.3L248.5,909.6L250.3,911.8L252.1,912.4L253.9,916.6L255.7,919.3L257.5,921.9L259.3,925.3L261.1,928.0L262.9,931.0L264.7,934.7L266.5,938.7L268.3,944.0L270.1,948.8L271.9,955.8L273.7,963.7L275.5,968.2L277.3,969.9L279.1,977.2L280.9,984.0L282.7,989.1L284.5,991.7L286.3,990.0L288.1,996.3L289.9,999.9L291.7,1000.9L293.5,1000.6L295.3,1000.7L297.1,1002.1L298.9,1005.1L300.7,1007.3L302.5,1005.6L304.3,1002.0L306.1,998.2L307.9,996.2L309.7,995.1L311.5,990.6L313.3,984.0L315.1,979.2L316.9,970.2L318.7,957.3L320.5,942.2L322.3,929.3L324.1,915.2L325.9,900.9L327.7,884.7L329.5,860.3L331.3,838.1L333.1,817.3L334.9,799.3L336.7,778.2L338.5,754.3L340.3,737.8L342.1,723.6L343.9,709.9L345.7,690.8L347.5,672.8L349.3,661.0L351.1,648.7L352.9,637.3L354.7,626.5L356.6,610.1L358.4,598.8L360.2,581.9L362.0,565.1L363.8,541.2L365.6,515.8L367.4,492.2L369.2,468.0L371.0,443.0L372.8,418.8L374.6,400.8L376.4,379.3L378.2,353.3L380.0,329.7L381.8,304.6L383.6,301.2L385.4,283.2L387.2,272.9L389.0,258.7L390.8,251.7L392.6,255.3L394.4,259.4L396.2,263.4L398.0,262.5L399.8,252.0L401.6,246.0L403.4,239.0L405.2,238.1L407.0,244.6L408.8,249.0L410.6,249.7L412.4,252.6L414.2,260.3L416.0,270.6L417.8,280.7L419.6,274.7L421.4,265.6L423.2,256.2L425.0,247.8L426.8,240.9L428.6,234.2L430.4,227.9L432.2,235.9L434.0,244.2L435.8,256.1L437.6,271.8L439.4,285.6L441.2,298.8L443.0,309.5L444.8,314.9L446.6,320.3L448.4,325.6L450.2,326.9L452.0,332.7L453.8,338.5L455.6,347.8L457.4,360.2L459.2,371.2L461.0,383.7L462.8,396.9L464.6,408.7L466.4,425.5L468.2,441.5L470.0,453.2L471.8,459.3L473.6,464.7L475.4,460.8L477.2,450.1L479.0,436.9L480.8,418.3L482.6,399.8L484.4,384.5L486.2,370.0L488.0,361.3L489.8,365.9L491.6,376.4L493.4,377.4L495.2,371.3L497.0,370.9L498.8,376.6L500.6,378.2L502.4,374.8L504.2,371.3L506.0,366.6L507.8,362.1L509.6,358.1L511.4,353.2L513.2,348.8L515.0,345.0L516.8,339.8L518.6,336.4L520.4,334.2L522.2,329.8L524.0,326.8L525.8,325.8L527.6,323.2L529.4,327.8L531.2,332.8L533.0,346.0L534.8,365.0L536.6,372.1L538.4,377.3L540.2,376.0L542.0,375.4L543.8,373.0L545.6,372.6L547.4,369.3L549.2,383.6L551.0,400.4L552.8,415.9L554.6,430.2L556.4,437.0L558.2,440.5L560.0,442.2L561.8,446.7L563.6,455.6L565.4,459.7L567.2,464.3L569.0,471.7L570.8,468.8L572.6,457.6L574.4,442.0L576.2,435.1L578.0,462.8L579.8,486.7L581.6,509.9L583.4,531.9L585.2,552.1L587.0,572.1L588.8,587.9L590.6,593.2L592.4,598.5L594.2,603.8L596.0,617.2L597.8,629.6L599.6,643.7L601.4,601.8L603.2,622.9L605.0,646.2L606.8,666.7L608.6,685.1L610.4,701.9L612.2,719.3L614.0,738.2L615.8,755.7L617.6,769.5L619.4,781.7L621.2,796.2L623.0,808.6L624.8,818.6L626.6,825.8L628.4,824.6L630.2,821.8L632.0,823.5L633.8,823.3L635.6,822.0L637.4,819.5L639.2,819.5L641.0,820.3L642.8,807.7L644.6,796.1L646.4,783.1L648.2,784.1L650.0,784.1L651.8,786.0L653.6,793.0L655.4,799.8L657.2,803.9L659.0,802.6L660.8,801.0L662.6,803.1L664.4,811.8L666.2,823.9L668.0,819.8L669.8,807.8L671.6,796.0L673.4,786.7L675.2,779.0L677.0,770.7L678.8,760.9L680.6,748.7L682.4,736.8L684.2,732.1L686.0,728.2L687.8,724.4L689.6,721.2L691.4,717.2L693.2,713.3L695.0,713.8L696.8,716.5L698.6,719.8L700.4,723.0L702.2,726.3L704.0,727.8L705.8,729.6L707.6,731.5L709.4,731.3L711.2,729.0L713.0,720.2L714.8,713.6L716.6,710.9L718.4,711.9L720.2,711.5L722.0,711.6L723.8,708.3L725.6,692.8L727.4,657.5L729.2,625.9L731.0,600.6L732.8,575.7L734.6,535.4L736.4,501.1L738.2,454.8L740.0,401.2L741.8,365.5L743.6,339.8L745.4,320.4L747.2,309.7L749.0,301.2L750.8,294.8L752.6,296.8L754.4,301.1L756.2,309.8L758.0,308.2L759.8,321.5L761.6,325.0L763.4,323.5L765.2,301.9L767.0,302.1L768.8,289.2L770.6,287.5L772.4,292.9L774.2,300.0L776.0,296.7L777.8,305.5L779.6,319.5L781.4,332.5L783.2,342.1L785.0,352.6L786.8,366.1L788.7,377.9L790.5,390.3L792.3,403.1L794.1,420.8L795.9,440.0L797.7,456.1L799.5,471.5L801.3,487.6L803.1,511.4L804.9,540.7L806.7,570.2L808.5,614.5L810.3,627.9L812.1,643.8L813.9,616.7L815.7,626.7L817.5,635.5L819.3,647.0L821.1,659.7L822.9,672.4L824.7,685.2L826.5,696.9L828.3,708.7L830.1,720.5L831.9,732.3L833.7,745.2L835.5,760.1L837.3,773.3L839.1,784.8L840.9,799.3L842.7,814.0L844.5,826.2L846.3,838.1L848.1,850.3L849.9,862.4L851.7,874.6L853.5,886.3L855.3,896.5L857.1,901.7L858.9,902.9L860.7,898.5L862.5,891.8L864.3,886.4L866.1,880.0L867.9,867.2L869.7,855.8L871.5,840.0L873.3,821.7L875.1,802.6L876.9,787.9L878.7,766.5L880.5,751.6L882.3,738.8L884.1,724.5L885.9,707.5L887.7,692.6L889.5,676.2L891.3,660.7L893.1,651.2L894.9,630.9L896.7,612.5L898.5,601.8L900.3,596.6L902.1,580.2L903.9,553.9L905.7,531.4L907.5,522.9L909.3,514.1L911.1,514.8L912.9,514.1L914.7,506.9L916.5,501.1L918.3,494.9L920.1,487.0L921.9,477.0L923.7,469.0L925.5,464.7L927.3,456.7L929.1,437.5L930.9,420.1L932.7,407.3L934.5,397.3L936.3,389.1L938.1,378.5L939.9,369.6L941.7,363.9L943.5,363.6L945.3,366.3L947.1,362.4L948.9,352.4L950.7,348.7L952.5,352.6L954.3,355.0L956.1,354.8L957.9,348.7L959.7,337.6L961.5,326.8L963.3,320.3L965.1,325.3L966.9,329.8L968.7,326.3L970.5,322.2L972.3,322.2L974.1,323.1L975.9,320.9L977.7,308.4L979.5,300.1L981.3,308.1L983.1,305.0L984.9,308.1L986.7,307.1L988.5,305.7L990.3,300.9L992.1,294.8L993.9,288.6L995.7,279.3L997.5,269.2L999.3,259.6L1001.1,258.9L1002.9,257.1L1004.7,256.6L1006.5,256.4L1008.3,264.6L1010.1,275.7L1011.9,282.2L1013.7,284.9L1015.5,287.9L1017.3,297.6L1019.1,299.6L1020.9,304.9L1022.7,315.9L1024.5,321.9L1026.3,323.1L1028.1,320.2L1029.9,309.5L1031.7,318.7L1033.5,327.8L1035.3,334.5L1037.1,341.8L1038.9,349.9L1040.7,353.6L1042.5,346.1L1044.3,337.0L1046.1,331.5L1047.9,326.3L1049.7,322.0L1051.5,318.8L1053.3,311.8L1055.1,312.0L1056.9,312.3L1058.7,306.0L1060.5,298.3L1062.3,295.8L1064.1,293.0L1065.9,287.9L1067.7,294.9L1069.5,301.9L1071.3,297.4L1073.1,307.9L1074.9,318.5L1076.7,340.6L1078.5,366.9L1080.3,378.1L1082.1,369.8L1083.9,365.3L1085.7,363.0L1087.5,377.0L1089.3,393.7L1091.1,415.1L1092.9,440.3L1094.7,462.8L1096.5,482.3L1098.3,463.5L1100.1,438.2L1101.9,413.5L1103.7,403.1L1105.5,392.3L1107.3,389.2L1109.1,385.2L1110.9,390.4L1112.7,396.2L1114.5,406.2L1116.3,405.8L1118.1,389.1L1119.9,392.4L1121.7,395.8L1123.5,409.8L1125.3,426.6L1127.1,445.6L1128.9,462.2L1130.7,472.1L1132.5,456.8L1134.3,432.3L1136.1,403.3L1137.9,385.8L1139.7,368.2L1141.5,352.1L1143.3,351.2L1145.1,351.0L1146.9,355.7L1148.7,360.5L1150.5,355.1L1152.3,347.2L1154.1,338.4L1155.9,335.0L1157.7,329.8L1159.5,321.0L1161.3,314.3L1163.1,311.4L1164.9,301.1L1166.7,293.2L1168.5,281.6L1170.3,274.2L1172.1,265.6L1173.9,259.0L1175.7,268.9L1177.5,279.0L1179.3,285.9L1181.1,290.7L1182.9,293.4L1184.7,289.0L1186.5,283.5L1188.3,285.9L1190.1,295.2L1191.9,313.4L1193.7,342.2L1195.5,390.5L1197.3,421.4L1199.1,417.9L1200.9,417.9L1202.7,418.4L1204.5,423.4L1206.3,428.3L1208.1,435.0L1209.9,451.4L1211.7,490.5L1213.5,509.4L1215.3,555.8L1217.1,567.8L1218.9,565.1L1220.8,560.9L1222.6,550.1L1224.4,530.5L1226.2,521.9L1228.0,514.4L1229.8,522.2L1231.6,530.0L1233.4,542.5L1235.2,548.2L1237.0,517.3L1238.8,490.2L1240.6,486.9L1242.4,448.8L1244.2,412.5L1246.0,370.6L1247.8,327.1L1249.6,327.1L1251.4,327.2L1253.2,327.3L1255.0,300.2L1256.8,299.8L1258.6,313.5L1260.4,325.3L1262.2,334.1L1264.0,335.2L1265.8,334.5L1267.6,332.0L1269.4,304.1L1271.2,292.4L1273.0,291.4L1274.8,298.9L1276.6,305.1L1278.4,302.3L1280.2,299.4L1282.0,300.2L1283.8,300.8L1285.6,297.4L1287.4,293.0L1289.2,290.8L1291.0,289.4L1292.8,289.8L1294.6,288.9L1296.4,282.5L1298.2,292.6L1300.0,303.1L1301.8,312.3L1303.6,326.8L1305.4,337.5L1307.2,338.0L1309.0,344.0L1310.8,330.8L1312.6,300.7L1314.4,280.6L1316.2,268.9L1318.0,277.3L1319.8,289.5L1321.6,302.4L1323.4,318.2L1325.2,328.4L1327.0,340.6L1328.8,350.8L1330.6,365.0L1332.4,379.8L1334.2,396.2L1336.0,398.6L1337.8,390.3L1339.6,376.2L1341.4,357.9L1343.2,338.7L1345.0,331.0L1346.8,318.5L1348.6,325.7L1350.4,341.4L1352.2,348.5L1354.0,347.9L1355.8,344.0L1357.6,344.5L1359.4,349.6L1361.2,350.1L1363.0,346.0L1364.8,342.2L1366.6,336.4L1368.4,327.8L1370.2,302.2L1372.0,296.7L1373.8,298.4L1375.6,297.3L1377.4,297.0L1379.2,292.5L1381.0,283.2L1382.8,275.2L1384.6,268.7L1386.4,269.5L1388.2,275.0L1390.0,278.4L1391.8,280.0L1393.6,279.7L1395.4,280.0L1397.2,279.4L1399.0,278.5L1400.8,289.1L1402.6,330.7L1404.4,365.4L1406.2,411.6L1408.0,451.0L1409.8,467.5L1411.6,478.1L1413.4,481.5L1415.2,480.6L1417.0,479.4L1418.8,478.0L1420.6,479.7L1422.4,486.5L1424.2,497.1L1426.0,506.1L1427.8,510.3L1429.6,506.0L1431.4,502.3L1433.2,501.8L1435.0,502.5L1436.8,519.5L1438.6,537.3L1440.4,555.2L1442.2,573.0L1444.0,590.8L1445.8,608.7L1447.6,639.3L1449.4,706.1L1451.2,751.5L1453.0,791.2L1454.8,810.6L1456.6,828.8L1458.4,847.8L1460.2,874.1L1462.0,896.6L1463.8,909.2L1465.6,922.6L1467.4,931.6L1469.2,939.5L1471.0,947.3L1472.8,950.2L1474.6,943.9L1476.4,936.2L1478.2,928.1L1480.0,921.1L1481.8,917.8L1483.6,914.0L1485.4,903.7L1487.2,898.7L1489.0,886.1L1490.8,863.4L1492.6,835.8L1494.4,808.7L1496.2,779.4L1498.0,749.5L1499.8,717.3L1501.6,681.0L1503.4,638.2L1505.2,625.1L1507.0,609.7L1508.8,590.2L1510.6,578.3L1512.4,569.9L1514.2,565.2L1516.0,565.1L1517.8,565.1L1519.6,567.0L1521.4,569.9L1523.2,575.5L1525.0,582.0L1526.8,590.8L1528.6,600.1L1530.4,599.6L1532.2,596.5L1534.0,591.7L1535.8,589.2L1537.6,590.0L1539.4,597.5L1541.2,611.3L1543.0,624.5L1544.8,649.4L1546.6,675.7L1548.4,702.4L1550.2,722.9L1552.0,736.2L1553.8,751.1L1555.6,766.5L1557.4,778.4L1559.2,785.5L1561.0,785.1L1562.8,784.1L1564.6,776.9L1566.4,775.8L1568.2,772.7L1570.0,781.8L1571.8,793.5L1573.6,805.5L1575.4,820.5L1577.2,835.0L1579.0,857.3L1580.8,878.7L1582.6,896.4L1584.4,905.8L1586.2,913.3L1588.0,922.0L1589.8,933.7L1591.6,943.5L1593.4,950.7L1595.2,955.6L1597.0,960.3L1598.8,962.2L1600.6,964.2L1602.4,968.0L1604.2,968.6L1606.0,966.1L1607.8,965.0L1609.6,959.9L1611.4,956.3L1613.2,950.5L1615.0,949.0L1616.8,953.9L1618.6,955.9L1620.4,957.0L1622.2,958.2L1624.0,959.9L1625.8,963.8L1627.6,969.6L1629.4,973.9L1631.2,974.8L1633.0,974.3L1634.8,974.9L1636.6,972.5L1638.4,970.0L1640.2,972.3L1642.0,974.9L1643.8,977.1L1645.6,978.6L1647.4,979.9L1649.2,981.9L1651.0,985.9L1652.9,990.3L1654.7,992.9L1656.5,986.9L1658.3,980.8L1660.1,986.1L1661.9,982.2L1663.7,984.9L1665.5,985.0L1667.3,985.7L1669.1,990.7L1670.9,994.9L1672.7,996.4L1674.5,991.9L1676.3,989.0L1678.1,986.8L1679.9,982.4L1681.7,978.4L1683.5,975.2L1685.3,971.9L1687.1,972.2L1688.9,979.7L1690.7,987.7L1692.5,995.9L1694.3,994.1L1696.1,1000.4L1697.9,994.5L1699.7,993.9L1701.5,990.4L1703.3,986.6L1705.1,986.5L1706.9,989.2L1708.7,989.2L1710.5,985.3L1712.3,983.6L1714.1,982.6L1715.9,982.0L1717.7,979.7L1719.5,974.8L1721.3,974.9L1723.1,980.0L1724.9,981.7L1726.7,985.0L1728.5,990.4L1730.3,994.1L1732.1,997.4L1733.9,1000.0L1735.7,1001.5L1737.5,1002.6L1739.3,1003.3L1741.1,1002.4L1742.9,1000.3L1744.7,1000.1L1746.5,1001.6L1748.3,1000.6L1750.1,1000.0L1751.9,1000.5L1753.7,999.7L1755.5,999.4L1757.3,1000.0L1759.1,994.8L1760.9,989.3L1762.7,984.9L1764.5,980.4L1766.3,973.8L1768.1,966.6L1769.9,959.1L1771.7,954.6L1773.5,945.3L1775.3,939.2L1777.1,934.0L1778.9,926.7L1780.7,926.6L1782.5,931.6L1784.3,930.2L1786.1,923.7L1787.9,919.2L1789.7,917.3L1791.5,914.2L1793.3,907.9L1795.1,902.0L1796.9,904.3L1798.7,894.4L1800.5,888.3L1802.3,886.7L1804.1,885.1L1805.9,880.4L1807.7,874.8L1809.5,871.3L1811.3,867.6L1813.1,865.8L1814.9,864.9L1816.7,862.2L1818.5,859.3L1820.3,855.5L1822.1,850.8L1823.9,847.4L1825.7,845.1L1827.5,844.3L1829.3,842.8L1831.1,842.0L1832.9,838.9L1834.7,834.7L1836.5,830.8L1838.3,828.0L1840.1,822.7L1841.9,819.9L1843.7,821.2L1845.5,821.2L1847.3,823.1L1849.1,826.3L1850.9,831.4L1852.7,837.4L1854.5,842.8L1856.3,848.1L1858.1,852.2L1859.9,853.0L1861.7,854.7L1863.5,857.4L1865.3,858.7L1867.1,859.5L1868.9,862.2L1870.7,864.7L1872.5,865.7L1874.3,863.9L1876.1,862.8L1877.9,866.9L1879.7,873.3L1881.5,878.6L1883.3,881.3L1885.1,881.8L1886.9,878.7L1888.7,874.1L1890.5,870.6L1892.3,867.5L1894.1,862.3L1895.9,863.1L1897.7,860.0L1899.5,857.2L1901.3,855.6L1903.1,855.1L1904.9,848.9L1906.7,852.1L1908.5,854.9L1910.3,856.7L1912.1,863.4L1913.9,870.4L1915.7,876.1L1917.5,882.1L1919.3,887.2L1921.1,890.3L1922.9,894.7L1924.7,901.8L1926.5,906.7L1928.3,906.1L1930.1,909.5L1931.9,915.8L1933.7,922.1L1935.5,930.2L1937.3,936.9L1939.1,943.1L1940.9,947.5L1942.7,950.9L1944.5,954.0L1946.3,955.0L1948.1,955.4L1949.9,959.2L1951.7,962.3L1953.5,961.9L1955.3,960.4L1957.1,963.2L1958.9,968.7L1960.7,972.3L1962.5,974.6L1964.3,974.7L1966.1,971.7L1967.9,970.3L1969.7,972.4L1971.5,977.2L1973.3,978.7L1975.1,980.2L1976.9,980.8L1978.7,979.0L1980.5,978.7L1982.3,979.1L1984.1,976.2L1985.9,975.8L1987.7,978.5L1989.5,982.5L1991.3,980.7L1993.1,977.5L1994.9,974.0L1996.7,971.9L1998.5,970.1L2000.3,969.3L2002.1,971.3L2003.9,972.5L2005.7,978.9L2007.5,971.0L2009.3,968.0L2011.1,965.3L2012.9,965.2L2014.7,965.4L2016.5,967.9L2018.3,972.3L2020.1,978.0L2021.9,982.6L2023.7,985.2L2025.5,987.9L2027.3,989.5L2029.1,985.7L2030.9,983.1L2032.7,982.2L2034.5,981.1L2036.3,982.7L2038.1,984.0L2039.9,985.3L2041.7,987.8L2043.5,989.1L2045.3,990.4L2047.1,992.7L2048.9,993.3L2050.7,988.8L2052.5,984.4L2054.3,977.1L2056.1,969.3L2057.9,963.4L2059.7,955.3L2061.5,946.8L2063.3,930.1L2065.1,924.5L2066.9,913.9L2068.7,907.9L2070.5,903.7L2072.3,908.2L2074.1,913.2L2075.9,917.1L2077.7,915.4L2079.5,908.9L2081.3,902.3L2083.1,894.2L2084.9,884.2L2086.8,866.1L2088.6,846.6L2090.4,829.0L2092.2,811.9L2094.0,795.3L2095.8,780.6L2097.6,742.4L2099.4,717.3L2101.2,694.9L2103.0,676.1L2104.8,653.3L2106.6,631.9L2108.4,684.4L2110.2,676.6L2112.0,671.3L2113.8,667.9L2115.6,667.7L2117.4,666.5L2119.2,661.0L2121.0,627.8L2122.8,617.5L2124.6,614.7L2126.4,618.2L2128.2,616.5L2130.0,612.4L2131.8,607.3L2133.6,602.4L2135.4,600.7L2137.2,597.3L2139.0,584.2L2140.8,570.3L2142.6,556.9L2144.4,543.2L2146.2,519.9L2148.0,517.8L2149.8,524.3L2151.6,532.7L2153.4,527.9L2155.2,518.5L2157.0,506.3L2158.8,510.9L2160.6,507.8L2162.4,493.2L2164.2,477.0L2166.0,474.7L2167.8,471.5L2169.6,470.0L2171.4,470.1L2173.2,471.4L2175.0,468.8L2176.8,463.8L2178.6,455.0L2180.4,443.2L2182.2,432.1L2184.0,421.8L2185.8,415.5L2187.6,407.1L2189.4,395.5L2191.2,386.7L2193.0,381.4L2194.8,373.6L2196.6,355.1L2198.4,336.4L2200.2,331.8L2202.0,304.8L2203.8,278.4L2205.6,254.9L2207.4,254.3L2209.2,254.2L2211.0,252.8L2212.8,251.0L2214.6,246.7L2216.4,244.1L2218.2,249.8L2220.0,251.1L2221.8,246.4L2223.6,244.5L2225.4,246.3L2227.2,249.4L2229.0,252.6L2230.8,254.3L2232.6,255.1L2234.4,256.9L2236.2,258.9L2238.0,263.1L2239.8,271.6L2241.6,283.9L2243.4,297.8L2245.2,311.1L2247.0,322.5L2248.8,330.9L2250.6,332.9L2252.4,325.5L2254.2,312.5L2256.0,298.4L2257.8,280.1L2259.6,273.2L2261.4,267.8L2263.2,263.5L2265.0,266.9L2266.8,261.2L2268.6,258.8L2270.4,255.3L2272.2,255.6L2274.0,266.4L2275.8,274.4L2277.6,277.8L2279.4,285.9L2281.2,291.1L2283.0,291.6L2284.8,280.1L2286.6,273.2L2288.4,270.1L2290.2,266.6L2292.0,262.4L2293.8,258.4L2295.6,258.9L2297.4,262.3L2299.2,266.6L2301.1,270.2L2301.1,556.3L2299.2,555.8L2297.4,553.7L2295.6,552.1L2293.8,553.7L2292.0,556.4L2290.2,557.4L2288.4,558.8L2286.6,561.7L2284.8,566.1L2283.0,565.5L2281.2,567.2L2279.4,564.0L2277.6,559.4L2275.8,557.1L2274.0,557.0L2272.2,555.4L2270.4,553.3L2268.6,554.1L2266.8,555.1L2265.0,556.6L2263.2,558.2L2261.4,560.3L2259.6,564.9L2257.8,572.9L2256.0,580.0L2254.2,583.4L2252.4,586.6L2250.6,588.1L2248.8,587.1L2247.0,581.6L2245.2,574.3L2243.4,564.9L2241.6,561.9L2239.8,556.9L2238.0,552.2L2236.2,550.0L2234.4,547.1L2232.6,543.8L2230.8,544.3L2229.0,545.5L2227.2,544.4L2225.4,544.8L2223.6,546.4L2221.8,545.5L2220.0,545.5L2218.2,547.5L2216.4,547.1L2214.6,546.1L2212.8,546.2L2211.0,548.1L2209.2,552.2L2207.4,556.9L2205.6,560.1L2203.8,570.9L2202.0,581.1L2200.2,590.0L2198.4,598.2L2196.6,604.9L2194.8,609.8L2193.0,617.8L2191.2,620.6L2189.4,621.2L2187.6,623.3L2185.8,631.0L2184.0,638.7L2182.2,652.2L2180.4,665.1L2178.6,679.8L2176.8,685.1L2175.0,687.1L2173.2,681.3L2171.4,679.4L2169.6,682.4L2167.8,684.4L2166.0,688.8L2164.2,695.3L2162.4,701.1L2160.6,704.2L2158.8,710.3L2157.0,712.7L2155.2,713.3L2153.4,716.0L2151.6,718.9L2149.8,712.3L2148.0,706.9L2146.2,709.3L2144.4,733.1L2142.6,751.9L2140.8,760.9L2139.0,763.6L2137.2,768.1L2135.4,774.6L2133.6,776.7L2131.8,778.1L2130.0,776.0L2128.2,780.1L2126.4,778.5L2124.6,779.7L2122.8,798.5L2121.0,828.4L2119.2,828.5L2117.4,824.3L2115.6,816.0L2113.8,807.3L2112.0,807.0L2110.2,810.4L2108.4,825.1L2106.6,840.9L2104.8,854.2L2103.0,874.0L2101.2,898.2L2099.4,933.7L2097.6,939.5L2095.8,947.3L2094.0,958.3L2092.2,973.3L2090.4,987.9L2088.6,1001.2L2086.8,1012.7L2084.9,1024.8L2083.1,1030.9L2081.3,1034.6L2079.5,1043.0L2077.7,1039.1L2075.9,1040.2L2074.1,1041.2L2072.3,1043.2L2070.5,1045.3L2068.7,1044.8L2066.9,1056.9L2065.1,1061.8L2063.3,1065.8L2061.5,1074.2L2059.7,1082.6L2057.9,1085.2L2056.1,1089.6L2054.3,1095.0L2052.5,1100.8L2050.7,1101.5L2048.9,1100.0L2047.1,1102.4L2045.3,1101.9L2043.5,1097.5L2041.7,1093.4L2039.9,1094.3L2038.1,1096.7L2036.3,1096.2L2034.5,1096.2L2032.7,1098.4L2030.9,1101.1L2029.1,1101.6L2027.3,1101.0L2025.5,1102.2L2023.7,1103.8L2021.9,1104.8L2020.1,1099.7L2018.3,1090.1L2016.5,1084.4L2014.7,1082.4L2012.9,1085.7L2011.1,1084.7L2009.3,1086.5L2007.5,1089.5L2005.7,1091.8L2003.9,1092.5L2002.1,1091.5L2000.3,1089.0L1998.5,1086.3L1996.7,1085.0L1994.9,1085.3L1993.1,1087.2L1991.3,1092.7L1989.5,1097.8L1987.7,1097.0L1985.9,1092.2L1984.1,1091.3L1982.3,1099.4L1980.5,1093.4L1978.7,1094.2L1976.9,1097.2L1975.1,1100.4L1973.3,1100.5L1971.5,1096.3L1969.7,1090.6L1967.9,1085.4L1966.1,1084.7L1964.3,1090.0L1962.5,1091.6L1960.7,1089.0L1958.9,1087.0L1957.1,1082.0L1955.3,1087.1L1953.5,1084.6L1951.7,1081.8L1949.9,1078.6L1948.1,1075.0L1946.3,1073.0L1944.5,1073.4L1942.7,1071.8L1940.9,1068.7L1939.1,1068.0L1937.3,1068.0L1935.5,1065.8L1933.7,1062.4L1931.9,1049.1L1930.1,1041.7L1928.3,1034.6L1926.5,1030.3L1924.7,1028.1L1922.9,1024.1L1921.1,1021.4L1919.3,1017.3L1917.5,1013.4L1915.7,1010.5L1913.9,1008.4L1912.1,1005.1L1910.3,999.4L1908.5,998.0L1906.7,1000.5L1904.9,1002.1L1903.1,1001.4L1901.3,1003.3L1899.5,1007.0L1897.7,1007.9L1895.9,1006.6L1894.1,1010.6L1892.3,1008.4L1890.5,1009.5L1888.7,1011.3L1886.9,1010.2L1885.1,1010.5L1883.3,1011.7L1881.5,1009.2L1879.7,1006.6L1877.9,1005.4L1876.1,1004.4L1874.3,1004.9L1872.5,1005.1L1870.7,1005.1L1868.9,1002.7L1867.1,999.6L1865.3,998.6L1863.5,997.9L1861.7,997.2L1859.9,996.7L1858.1,995.6L1856.3,993.4L1854.5,992.3L1852.7,988.6L1850.9,982.0L1849.1,979.1L1847.3,978.1L1845.5,976.2L1843.7,978.8L1841.9,989.1L1840.1,981.3L1838.3,981.9L1836.5,984.8L1834.7,987.6L1832.9,989.9L1831.1,991.3L1829.3,994.5L1827.5,994.1L1825.7,996.1L1823.9,998.9L1822.1,999.7L1820.3,1000.6L1818.5,1003.2L1816.7,1006.4L1814.9,1006.7L1813.1,1008.0L1811.3,1015.2L1809.5,1022.3L1807.7,1024.4L1805.9,1023.4L1804.1,1022.9L1802.3,1023.8L1800.5,1027.7L1798.7,1034.0L1796.9,1039.9L1795.1,1041.4L1793.3,1041.2L1791.5,1042.7L1789.7,1046.2L1787.9,1049.7L1786.1,1052.2L1784.3,1055.8L1782.5,1061.5L1780.7,1065.7L1778.9,1067.7L1777.1,1069.6L1775.3,1072.1L1773.5,1076.2L1771.7,1071.6L1769.9,1077.0L1768.1,1081.6L1766.3,1086.6L1764.5,1091.9L1762.7,1095.2L1760.9,1098.2L1759.1,1103.1L1757.3,1103.9L1755.5,1102.4L1753.7,1101.1L1751.9,1102.4L1750.1,1104.7L1748.3,1106.5L1746.5,1106.5L1744.7,1106.5L1742.9,1106.5L1741.1,1106.5L1739.3,1105.9L1737.5,1103.6L1735.7,1102.1L1733.9,1103.0L1732.1,1103.1L1730.3,1103.2L1728.5,1101.7L1726.7,1098.8L1724.9,1097.9L1723.1,1098.9L1721.3,1100.2L1719.5,1101.0L1717.7,1100.5L1715.9,1100.6L1714.1,1103.8L1712.3,1104.4L1710.5,1102.7L1708.7,1101.2L1706.9,1098.4L1705.1,1098.1L1703.3,1099.4L1701.5,1101.3L1699.7,1103.8L1697.9,1104.7L1696.1,1105.0L1694.3,1104.9L1692.5,1103.8L1690.7,1102.7L1688.9,1100.8L1687.1,1098.8L1685.3,1099.0L1683.5,1096.8L1681.7,1092.9L1679.9,1091.4L1678.1,1096.4L1676.3,1099.4L1674.5,1098.5L1672.7,1097.0L1670.9,1096.5L1669.1,1094.2L1667.3,1094.5L1665.5,1093.9L1663.7,1091.1L1661.9,1088.1L1660.1,1091.2L1658.3,1093.9L1656.5,1093.7L1654.7,1093.2L1652.9,1095.8L1651.0,1099.6L1649.2,1100.9L1647.4,1100.0L1645.6,1101.7L1643.8,1102.2L1642.0,1098.6L1640.2,1095.7L1638.4,1094.7L1636.6,1090.5L1634.8,1093.5L1633.0,1103.1L1631.2,1099.5L1629.4,1092.6L1627.6,1085.2L1625.8,1079.7L1624.0,1075.6L1622.2,1074.0L1620.4,1072.3L1618.6,1066.9L1616.8,1068.5L1615.0,1072.5L1613.2,1074.4L1611.4,1075.4L1609.6,1075.8L1607.8,1077.5L1606.0,1080.9L1604.2,1084.6L1602.4,1081.2L1600.6,1076.7L1598.8,1080.1L1597.0,1084.2L1595.2,1082.3L1593.4,1077.5L1591.6,1070.4L1589.8,1065.6L1588.0,1060.0L1586.2,1052.5L1584.4,1058.2L1582.6,1065.2L1580.8,1050.0L1579.0,1030.9L1577.2,1011.7L1575.4,993.8L1573.6,977.1L1571.8,959.3L1570.0,940.4L1568.2,935.4L1566.4,944.3L1564.6,953.2L1562.8,957.4L1561.0,959.8L1559.2,966.7L1557.4,961.1L1555.6,936.0L1553.8,905.6L1552.0,899.5L1550.2,884.9L1548.4,872.6L1546.6,858.3L1544.8,838.3L1543.0,818.0L1541.2,800.2L1539.4,778.6L1537.6,765.1L1535.8,758.5L1534.0,757.0L1532.2,757.2L1530.4,754.1L1528.6,750.7L1526.8,748.2L1525.0,738.9L1523.2,731.5L1521.4,729.2L1519.6,722.9L1517.8,726.5L1516.0,729.0L1514.2,733.9L1512.4,743.7L1510.6,757.5L1508.8,783.9L1507.0,816.4L1505.2,853.5L1503.4,885.4L1501.6,901.1L1499.8,927.2L1498.0,950.7L1496.2,966.7L1494.4,984.6L1492.6,1004.0L1490.8,1019.3L1489.0,1034.8L1487.2,1039.2L1485.4,1043.5L1483.6,1048.4L1481.8,1051.8L1480.0,1054.2L1478.2,1055.7L1476.4,1058.2L1474.6,1059.5L1472.8,1066.5L1471.0,1065.4L1469.2,1063.2L1467.4,1061.8L1465.6,1059.9L1463.8,1056.5L1462.0,1044.6L1460.2,1030.9L1458.4,1020.3L1456.6,1010.3L1454.8,994.9L1453.0,975.4L1451.2,957.5L1449.4,934.2L1447.6,913.0L1445.8,893.3L1444.0,855.5L1442.2,818.4L1440.4,783.1L1438.6,747.8L1436.8,712.6L1435.0,704.1L1433.2,698.6L1431.4,695.3L1429.6,694.6L1427.8,689.9L1426.0,691.1L1424.2,688.3L1422.4,686.6L1420.6,683.3L1418.8,681.6L1417.0,680.3L1415.2,676.5L1413.4,672.6L1411.6,666.1L1409.8,656.6L1408.0,645.8L1406.2,633.2L1404.4,618.1L1402.6,607.6L1400.8,579.7L1399.0,565.3L1397.2,560.4L1395.4,559.3L1393.6,560.5L1391.8,561.0L1390.0,560.6L1388.2,560.9L1386.4,562.0L1384.6,563.0L1382.8,564.5L1381.0,565.5L1379.2,567.4L1377.4,570.6L1375.6,572.4L1373.8,573.4L1372.0,577.0L1370.2,581.9L1368.4,592.7L1366.6,596.1L1364.8,599.4L1363.0,604.6L1361.2,602.4L1359.4,603.5L1357.6,602.9L1355.8,600.9L1354.0,600.2L1352.2,599.4L1350.4,597.3L1348.6,591.7L1346.8,594.4L1345.0,600.8L1343.2,606.0L1341.4,611.0L1339.6,617.1L1337.8,625.0L1336.0,627.8L1334.2,622.9L1332.4,618.8L1330.6,607.4L1328.8,603.7L1327.0,596.7L1325.2,587.9L1323.4,579.8L1321.6,573.0L1319.8,573.0L1318.0,566.9L1316.2,565.2L1314.4,569.2L1312.6,575.9L1310.8,584.2L1309.0,588.2L1307.2,591.5L1305.4,589.3L1303.6,586.6L1301.8,583.3L1300.0,578.4L1298.2,573.6L1296.4,569.4L1294.6,566.8L1292.8,570.8L1291.0,572.7L1289.2,571.6L1287.4,571.5L1285.6,570.3L1283.8,569.6L1282.0,569.9L1280.2,572.5L1278.4,575.1L1276.6,573.4L1274.8,571.5L1273.0,571.2L1271.2,574.1L1269.4,581.6L1267.6,588.6L1265.8,591.4L1264.0,587.9L1262.2,585.5L1260.4,584.7L1258.6,583.2L1256.8,584.5L1255.0,588.6L1253.2,597.9L1251.4,612.8L1249.6,634.6L1247.8,615.7L1246.0,654.1L1244.2,676.8L1242.4,688.0L1240.6,703.5L1238.8,711.7L1237.0,715.8L1235.2,714.0L1233.4,712.8L1231.6,709.6L1229.8,707.3L1228.0,703.2L1226.2,709.5L1224.4,720.0L1222.6,734.5L1220.8,751.3L1218.9,752.8L1217.1,716.5L1215.3,661.4L1213.5,622.4L1211.7,598.6L1209.9,632.0L1208.1,640.1L1206.3,643.8L1204.5,647.2L1202.7,649.3L1200.9,650.3L1199.1,652.6L1197.3,657.2L1195.5,660.6L1193.7,621.6L1191.9,591.9L1190.1,578.4L1188.3,566.4L1186.5,565.5L1184.7,565.5L1182.9,566.5L1181.1,566.4L1179.3,565.3L1177.5,564.7L1175.7,560.7L1173.9,560.8L1172.1,561.4L1170.3,561.2L1168.5,567.2L1166.7,570.0L1164.9,575.1L1163.1,579.3L1161.3,582.7L1159.5,586.3L1157.7,589.2L1155.9,591.5L1154.1,595.7L1152.3,598.0L1150.5,598.5L1148.7,599.2L1146.9,600.9L1145.1,602.7L1143.3,606.0L1141.5,608.1L1139.7,606.7L1137.9,627.6L1136.1,639.4L1134.3,654.2L1132.5,669.4L1130.7,665.8L1128.9,662.6L1127.1,661.8L1125.3,656.0L1123.5,648.0L1121.7,647.6L1119.9,647.8L1118.1,642.6L1116.3,642.1L1114.5,641.8L1112.7,640.6L1110.9,640.0L1109.1,638.6L1107.3,636.1L1105.5,634.1L1103.7,632.3L1101.9,629.1L1100.1,655.3L1098.3,689.3L1096.5,708.9L1094.7,711.5L1092.9,672.3L1091.1,627.6L1089.3,571.1L1087.5,535.2L1085.7,511.7L1083.9,502.4L1082.1,606.6L1080.3,600.7L1078.5,595.6L1076.7,590.2L1074.9,587.3L1073.1,583.6L1071.3,578.8L1069.5,574.5L1067.7,570.0L1065.9,570.6L1064.1,575.0L1062.3,577.2L1060.5,580.2L1058.7,583.6L1056.9,584.4L1055.1,586.8L1053.3,589.3L1051.5,590.3L1049.7,592.6L1047.9,596.4L1046.1,600.3L1044.3,604.4L1042.5,607.6L1040.7,605.8L1038.9,604.8L1037.1,603.4L1035.3,598.9L1033.5,593.9L1031.7,590.4L1029.9,589.6L1028.1,590.4L1026.3,588.4L1024.5,584.3L1022.7,581.6L1020.9,578.6L1019.1,576.5L1017.3,575.2L1015.5,571.3L1013.7,567.1L1011.9,564.4L1010.1,561.1L1008.3,556.9L1006.5,553.5L1004.7,552.9L1002.9,555.3L1001.1,557.1L999.3,558.8L997.5,562.0L995.7,568.8L993.9,572.0L992.1,573.3L990.3,574.3L988.5,575.3L986.7,576.8L984.9,580.1L983.1,581.5L981.3,580.2L979.5,580.8L977.7,578.1L975.9,588.0L974.1,592.5L972.3,593.2L970.5,591.9L968.7,591.7L966.9,592.7L965.1,593.7L963.3,596.3L961.5,599.1L959.7,599.6L957.9,601.2L956.1,603.9L954.3,606.6L952.5,604.9L950.7,603.1L948.9,601.4L947.1,604.3L945.3,608.5L943.5,613.6L941.7,617.9L939.9,626.9L938.1,636.5L936.3,645.6L934.5,656.8L932.7,668.3L930.9,674.8L929.1,678.2L927.3,681.5L925.5,688.4L923.7,688.3L921.9,676.1L920.1,670.9L918.3,679.7L916.5,684.1L914.7,679.7L912.9,676.2L911.1,654.5L909.3,675.1L907.5,713.4L905.7,743.1L903.9,768.7L902.1,797.0L900.3,818.4L898.5,834.6L896.7,852.7L894.9,872.6L893.1,886.4L891.3,891.8L889.5,895.8L887.7,902.0L885.9,909.4L884.1,918.4L882.3,937.8L880.5,952.8L878.7,963.1L876.9,974.9L875.1,986.6L873.3,996.7L871.5,1002.3L869.7,1006.6L867.9,1016.3L866.1,1019.6L864.3,1022.3L862.5,1028.0L860.7,1030.7L858.9,1030.2L857.1,1028.6L855.3,1025.7L853.5,1023.3L851.7,1018.5L849.9,1012.7L848.1,1006.8L846.3,995.8L844.5,984.4L842.7,976.5L840.9,967.3L839.1,955.4L837.3,945.7L835.5,931.3L833.7,909.9L831.9,907.2L830.1,890.8L828.3,878.7L826.5,872.1L824.7,863.0L822.9,854.7L821.1,845.5L819.3,836.1L817.5,828.6L815.7,820.0L813.9,808.7L812.1,796.2L810.3,785.6L808.5,763.8L806.7,726.5L804.9,695.2L803.1,673.0L801.3,646.7L799.5,613.2L797.7,582.8L795.9,555.2L794.1,533.9L792.3,515.7L790.5,498.2L788.7,483.1L786.8,471.1L785.0,609.5L783.2,601.5L781.4,596.8L779.6,590.3L777.8,584.2L776.0,579.0L774.2,575.8L772.4,573.5L770.6,573.9L768.8,575.1L767.0,577.5L765.2,579.4L763.4,582.0L761.6,586.0L759.8,583.7L758.0,580.4L756.2,575.7L754.4,573.9L752.6,570.6L750.8,577.5L749.0,585.7L747.2,592.7L745.4,600.9L743.6,612.2L741.8,626.9L740.0,654.0L738.2,689.9L736.4,736.1L734.6,772.3L732.8,810.3L731.0,844.1L729.2,866.8L727.4,876.3L725.6,883.5L723.8,886.6L722.0,884.8L720.2,883.9L718.4,883.7L716.6,884.7L714.8,888.3L713.0,892.2L711.2,895.1L709.4,898.1L707.6,897.4L705.8,894.1L704.0,891.9L702.2,891.4L700.4,888.4L698.6,884.0L696.8,883.3L695.0,882.2L693.2,885.4L691.4,888.2L689.6,893.1L687.8,904.5L686.0,909.6L684.2,914.6L682.4,921.8L680.6,929.5L678.8,940.1L677.0,953.9L675.2,964.5L673.4,970.9L671.6,977.5L669.8,981.4L668.0,980.5L666.2,973.3L664.4,968.8L662.6,962.5L660.8,956.5L659.0,953.8L657.2,950.5L655.4,953.0L653.6,955.6L651.8,949.2L650.0,943.6L648.2,949.9L646.4,956.3L644.6,966.3L642.8,979.4L641.0,977.8L639.2,976.3L637.4,978.0L635.6,979.1L633.8,978.8L632.0,978.8L630.2,988.3L628.4,995.6L626.6,995.2L624.8,991.3L623.0,989.4L621.2,977.9L619.4,972.8L617.6,961.2L615.8,950.1L614.0,935.6L612.2,916.3L610.4,900.7L608.6,909.5L606.8,896.6L605.0,880.0L603.2,859.7L601.4,840.7L599.6,823.3L597.8,805.3L596.0,787.0L594.2,770.8L592.4,755.6L590.6,739.1L588.8,729.4L587.0,723.7L585.2,717.9L583.4,712.1L581.6,706.9L579.8,695.7L578.0,682.5L576.2,668.3L574.4,650.7L572.6,658.2L570.8,659.3L569.0,652.1L567.2,644.3L565.4,637.7L563.6,630.6L561.8,626.5L560.0,624.9L558.2,621.9L556.4,617.9L554.6,612.7L552.8,607.4L551.0,605.7L549.2,606.9L547.4,608.1L545.6,609.3L543.8,606.9L542.0,606.1L540.2,605.7L538.4,604.9L536.6,603.3L534.8,600.2L533.0,595.3L531.2,589.2L529.4,585.6L527.6,583.4L525.8,583.1L524.0,581.3L522.2,586.5L520.4,590.6L518.6,590.4L516.8,588.5L515.0,591.0L513.2,592.3L511.4,594.4L509.6,595.7L507.8,596.5L506.0,597.5L504.2,599.1L502.4,599.7L500.6,597.0L498.8,600.6L497.0,601.7L495.2,602.1L493.4,600.6L491.6,600.0L489.8,602.6L488.0,607.2L486.2,605.0L484.4,614.8L482.6,623.6L480.8,633.6L479.0,643.3L477.2,652.2L475.4,660.3L473.6,665.3L471.8,612.6L470.0,606.7L468.2,601.8L466.4,601.0L464.6,600.1L462.8,595.9L461.0,592.0L459.2,589.5L457.4,588.2L455.6,586.5L453.8,584.6L452.0,582.3L450.2,581.9L448.4,583.2L446.6,580.4L444.8,577.3L443.0,575.3L441.2,565.6L439.4,562.7L437.6,556.9L435.8,552.5L434.0,548.7L432.2,542.8L430.4,536.9L428.6,539.7L426.8,544.8L425.0,549.0L423.2,553.7L421.4,557.0L419.6,559.5L417.8,558.4L416.0,556.0L414.2,555.8L412.4,554.6L410.6,550.3L408.8,548.1L407.0,546.8L405.2,547.4L403.4,549.1L401.6,551.1L399.8,551.3L398.0,551.8L396.2,555.6L394.4,554.3L392.6,551.2L390.8,553.0L389.0,558.6L387.2,566.1L385.4,573.3L383.6,580.5L381.8,568.5L380.0,623.4L378.2,635.0L376.4,657.8L374.6,685.4L372.8,709.2L371.0,728.9L369.2,751.7L367.4,768.5L365.6,772.3L363.8,779.1L362.0,791.0L360.2,800.5L358.4,810.0L356.6,819.1L354.7,826.4L352.9,834.2L351.1,846.1L349.3,855.6L347.5,858.3L345.7,873.1L343.9,887.4L342.1,901.6L340.3,920.5L338.5,935.0L336.7,946.4L334.9,965.5L333.1,991.5L331.3,1015.8L329.5,1034.6L327.7,1049.6L325.9,1061.1L324.1,1063.8L322.3,1074.2L320.5,1081.5L318.7,1085.2L316.9,1091.7L315.1,1097.6L313.3,1098.3L311.5,1099.4L309.7,1099.7L307.9,1092.5L306.1,1102.8L304.3,1104.7L302.5,1105.1L300.7,1103.1L298.9,1102.4L297.1,1103.5L295.3,1103.2L293.5,1102.7L291.7,1103.6L289.9,1103.7L288.1,1102.0L286.3,1100.8L284.5,1098.7L282.7,1097.1L280.9,1092.9L279.1,1086.3L277.3,1077.7L275.5,1074.2L273.7,1066.1L271.9,1062.3L270.1,1060.9L268.3,1059.9L266.5,1058.4L264.7,1051.7L262.9,1054.7L261.1,1053.9L259.3,1050.0L257.5,1047.0L255.7,1046.2L253.9,1046.1L252.1,1039.7L250.3,1039.9L248.5,1041.6L246.7,1042.6L244.9,1044.7L243.1,1047.8L241.3,1050.3L239.5,1050.5L237.7,1047.1L235.9,1045.8L234.1,1048.5L232.3,1050.4L230.5,1047.2L228.7,1042.6L226.9,1041.5L225.1,1040.0L223.3,1040.4L221.5,1042.9L219.7,1052.4L217.9,1049.1L216.1,1051.2L214.3,1052.2L212.5,1054.8L210.7,1057.9L208.9,1057.5L207.1,1057.8L205.3,1060.9L203.5,1062.7L201.7,1062.2L199.9,1063.4L198.1,1067.1L196.3,1069.2L194.5,1068.4L192.7,1069.2L190.9,1078.2L189.1,1076.7L187.3,1076.8L185.5,1077.7L183.7,1079.6L181.9,1081.5L180.1,1081.1L178.3,1084.6L176.5,1089.5L174.7,1090.1L172.9,1087.0L171.1,1085.6L169.3,1084.8L167.5,1084.3L165.7,1082.4L163.9,1090.4L162.1,1092.5L160.3,1094.6L158.5,1094.1L156.7,1093.9L154.9,1090.8L153.1,1088.2L151.3,1090.1L149.5,1091.8L147.7,1090.4L145.9,1090.5L144.1,1091.0L142.3,1089.2L139.9,1088.4Z" fill="#00aa55"/>
<path d="M139.9,991.1L142.3,991.7L144.1,993.9L145.9,995.5L147.7,994.0L149.5,993.2L151.3,995.8L153.1,998.1L154.9,1001.3L156.7,1005.9L158.5,1010.2L160.3,1005.8L162.1,999.4L163.9,994.4L165.7,990.9L167.5,988.3L169.3,989.5L171.1,991.3L172.9,990.0L174.7,989.5L176.5,992.4L178.3,991.7L180.1,988.1L181.9,988.1L183.7,990.2L185.5,988.8L187.3,983.7L189.1,977.9L190.9,972.6L192.7,969.9L194.5,966.7L196.3,961.0L198.1,959.3L199.9,954.8L201.7,961.3L203.5,960.7L205.3,962.2L207.1,959.8L208.9,956.1L210.7,953.9L212.5,951.8L214.3,947.7L216.1,945.4L217.9,942.3L219.7,935.8L221.5,932.1L223.3,930.2L225.1,931.7L226.9,931.2L228.7,934.4L230.5,937.6L232.3,940.5L234.1,940.3L235.9,937.8L237.7,934.7L239.5,934.1L241.3,936.4L243.1,932.3L244.9,927.5L246.7,924.9L248.5,922.7L250.3,922.3L252.1,924.4L253.9,927.0L255.7,927.7L257.5,932.7L259.3,940.1L261.1,942.8L262.9,945.2L264.7,947.5L266.5,947.1L268.3,951.5L270.1,958.2L271.9,965.4L273.7,975.1L275.5,980.2L277.3,984.4L279.1,988.7L280.9,997.6L282.7,1006.0L284.5,1009.7L286.3,1011.5L288.1,1012.3L289.9,1013.2L291.7,1014.8L293.5,1016.5L295.3,1017.8L297.1,1018.1L298.9,1019.4L300.7,1023.0L302.5,1026.7L304.3,1024.0L306.1,1019.7L307.9,1015.9L309.7,1013.2L311.5,1007.6L313.3,1000.7L315.1,997.7L316.9,991.9L318.7,982.4L320.5,966.8L322.3,951.2L324.1,937.9L325.9,917.4L327.7,892.6L329.5,879.7L331.3,859.7L333.1,834.2L334.9,815.7L336.7,797.5L338.5,783.9L340.3,765.6L342.1,751.4L343.9,740.6L345.7,728.7L347.5,717.2L349.3,706.4L351.1,695.8L352.9,683.3L354.7,667.7L356.6,655.2L358.4,645.5L360.2,639.4L362.0,632.6L363.8,620.0L365.6,605.7L367.4,598.0L369.2,556.4L371.0,524.1L372.8,486.6L374.6,450.1L376.4,413.9L378.2,387.0L380.0,359.3L381.8,326.8L383.6,301.2L385.4,283.2L387.2,272.9L389.0,258.7L390.8,251.7L392.6,255.3L394.4,259.4L396.2,263.4L398.0,262.5L399.8,252.0L401.6,246.0L403.4,239.0L405.2,238.1L407.0,244.6L408.8,249.0L410.6,249.7L412.4,252.6L414.2,260.3L416.0,270.6L417.8,280.7L419.6,274.7L421.4,265.6L423.2,256.2L425.0,247.8L426.8,240.9L428.6,234.2L430.4,227.9L432.2,235.9L434.0,244.2L435.8,256.1L437.6,271.8L439.4,285.6L441.2,298.8L443.0,309.5L444.8,314.9L446.6,320.3L448.4,325.6L450.2,326.9L452.0,332.7L453.8,338.5L455.6,347.8L457.4,360.2L459.2,371.2L461.0,383.7L462.8,396.9L464.6,408.7L466.4,425.5L468.2,441.5L470.0,453.2L471.8,459.3L473.6,464.7L475.4,460.8L477.2,450.1L479.0,436.9L480.8,418.3L482.6,399.8L484.4,384.5L486.2,370.0L488.0,361.3L489.8,365.9L491.6,376.4L493.4,377.4L495.2,371.3L497.0,370.9L498.8,376.6L500.6,378.2L502.4,374.8L504.2,371.3L506.0,366.6L507.8,362.1L509.6,358.1L511.4,353.2L513.2,348.8L515.0,345.0L516.8,339.8L518.6,336.4L520.4,334.2L522.2,329.8L524.0,326.8L525.8,325.8L527.6,323.2L529.4,327.8L531.2,332.8L533.0,346.0L534.8,365.0L536.6,372.1L538.4,377.3L540.2,376.0L542.0,375.4L543.8,373.0L545.6,372.6L547.4,369.3L549.2,383.6L551.0,400.4L552.8,415.9L554.6,430.2L556.4,437.0L558.2,440.5L560.0,442.2L561.8,446.7L563.6,455.6L565.4,459.7L567.2,464.3L569.0,471.7L570.8,468.8L572.6,457.6L574.4,442.0L576.2,435.1L578.0,462.8L579.8,486.7L581.6,509.9L583.4,531.9L585.2,552.1L587.0,572.1L588.8,587.9L590.6,593.2L592.4,598.5L594.2,603.8L596.0,617.2L597.8,629.6L599.6,643.7L601.4,658.0L603.2,669.7L605.0,688.9L606.8,717.0L608.6,745.8L610.4,766.2L612.2,780.3L614.0,801.2L615.8,819.1L617.6,831.0L619.4,840.3L621.2,849.7L623.0,854.6L624.8,859.1L626.6,865.2L628.4,869.9L630.2,863.1L632.0,854.4L633.8,846.3L635.6,841.2L637.4,836.7L639.2,834.5L641.0,833.5L642.8,825.4L644.6,815.9L646.4,813.6L648.2,812.1L650.0,810.3L651.8,815.8L653.6,821.3L655.4,823.9L657.2,825.4L659.0,825.8L660.8,828.1L662.6,829.8L664.4,830.0L666.2,837.5L668.0,846.1L669.8,839.5L671.6,829.5L673.4,816.4L675.2,807.0L677.0,800.9L678.8,792.7L680.6,785.2L682.4,780.0L684.2,775.2L686.0,770.4L687.8,765.0L689.6,761.1L691.4,759.6L693.2,756.1L695.0,754.7L696.8,758.2L698.6,762.6L700.4,763.9L702.2,765.4L704.0,767.8L705.8,769.1L707.6,770.6L709.4,770.8L711.2,764.9L713.0,762.0L714.8,759.0L716.6,754.8L718.4,752.3L720.2,748.7L722.0,743.9L723.8,737.3L725.6,724.1L727.4,682.7L729.2,637.9L731.0,611.8L732.8,575.7L734.6,535.4L736.4,501.1L738.2,454.8L740.0,401.2L741.8,365.5L743.6,339.8L745.4,320.4L747.2,309.7L749.0,301.2L750.8,294.8L752.6,296.8L754.4,301.1L756.2,309.8L758.0,308.2L759.8,321.5L761.6,325.0L763.4,323.5L765.2,301.9L767.0,302.1L768.8,289.2L770.6,287.5L772.4,292.9L774.2,300.0L776.0,296.7L777.8,305.5L779.6,319.5L781.4,332.5L783.2,342.1L785.0,352.6L786.8,366.1L788.7,377.9L790.5,390.3L792.3,403.1L794.1,420.8L795.9,440.0L797.7,456.1L799.5,471.5L801.3,487.6L803.1,511.4L804.9,540.7L806.7,570.2L808.5,614.5L810.3,627.9L812.1,643.8L813.9,652.4L815.7,668.0L817.5,682.8L819.3,693.8L821.1,705.6L822.9,720.0L824.7,733.9L826.5,748.5L828.3,763.1L830.1,776.1L831.9,788.6L833.7,801.4L835.5,815.5L837.3,828.2L839.1,840.9L840.9,851.2L842.7,860.9L844.5,871.7L846.3,881.3L848.1,890.8L849.9,901.2L851.7,899.9L853.5,903.6L855.3,907.8L857.1,910.5L858.9,908.2L860.7,905.6L862.5,903.2L864.3,902.4L866.1,901.4L867.9,909.4L869.7,897.3L871.5,875.3L873.3,851.6L875.1,828.2L876.9,809.6L878.7,788.1L880.5,770.5L882.3,755.7L884.1,744.1L885.9,726.3L887.7,714.8L889.5,698.4L891.3,684.1L893.1,670.9L894.9,654.0L896.7,635.8L898.5,616.9L900.3,596.6L902.1,596.7L903.9,569.7L905.7,544.0L907.5,526.8L909.3,521.9L911.1,518.9L912.9,520.7L914.7,521.7L916.5,511.9L918.3,502.8L920.1,497.7L921.9,490.3L923.7,482.4L925.5,474.7L927.3,466.5L929.1,458.4L930.9,444.1L932.7,427.2L934.5,413.6L936.3,403.2L938.1,392.0L939.9,378.2L941.7,373.0L943.5,368.9L945.3,370.4L947.1,373.0L948.9,371.2L950.7,358.6L952.5,356.0L954.3,358.0L956.1,359.7L957.9,354.8L959.7,347.1L961.5,340.0L963.3,331.5L965.1,328.1L966.9,333.5L968.7,335.3L970.5,328.9L972.3,323.3L974.1,323.1L975.9,322.4L977.7,315.3L979.5,306.3L981.3,308.1L983.1,305.0L984.9,308.1L986.7,307.1L988.5,305.7L990.3,300.9L992.1,294.8L993.9,288.6L995.7,279.3L997.5,269.2L999.3,259.6L1001.1,258.9L1002.9,257.1L1004.7,256.6L1006.5,256.4L1008.3,264.6L1010.1,275.7L1011.9,282.2L1013.7,284.9L1015.5,287.9L1017.3,297.6L1019.1,299.6L1020.9,304.9L1022.7,315.9L1024.5,321.9L1026.3,323.1L1028.1,320.2L1029.9,309.5L1031.7,318.7L1033.5,327.8L1035.3,334.5L1037.1,341.8L1038.9,349.9L1040.7,353.6L1042.5,346.1L1044.3,337.0L1046.1,331.5L1047.9,326.3L1049.7,322.0L1051.5,318.8L1053.3,311.8L1055.1,312.0L1056.9,312.3L1058.7,306.0L1060.5,298.3L1062.3,295.8L1064.1,293.0L1065.9,287.9L1067.7,294.9L1069.5,301.9L1071.3,297.4L1073.1,307.9L1074.9,318.5L1076.7,340.6L1078.5,366.9L1080.3,378.1L1082.1,369.8L1083.9,365.3L1085.7,363.0L1087.5,377.0L1089.3,393.7L1091.1,415.1L1092.9,440.3L1094.7,462.8L1096.5,482.3L1098.3,463.5L1100.1,438.2L1101.9,413.5L1103.7,403.1L1105.5,392.3L1107.3,389.2L1109.1,385.2L1110.9,390.4L1112.7,396.2L1114.5,406.2L1116.3,405.8L1118.1,389.1L1119.9,392.4L1121.7,395.8L1123.5,409.8L1125.3,426.6L1127.1,445.6L1128.9,462.2L1130.7,472.1L1132.5,456.8L1134.3,432.3L1136.1,403.3L1137.9,385.8L1139.7,368.2L1141.5,352.1L1143.3,351.2L1145.1,351.0L1146.9,355.7L1148.7,360.5L1150.5,355.1L1152.3,347.2L1154.1,338.4L1155.9,335.0L1157.7,329.8L1159.5,321.0L1161.3,314.3L1163.1,311.4L1164.9,301.1L1166.7,293.2L1168.5,281.6L1170.3,274.2L1172.1,265.6L1173.9,259.0L1175.7,268.9L1177.5,279.0L1179.3,285.9L1181.1,290.7L1182.9,293.4L1184.7,289.0L1186.5,283.5L1188.3,285.9L1190.1,295.2L1191.9,313.4L1193.7,342.2L1195.5,390.5L1197.3,421.4L1199.1,417.9L1200.9,417.9L1202.7,418.4L1204.5,423.4L1206.3,428.3L1208.1,435.0L1209.9,451.4L1211.7,490.5L1213.5,509.4L1215.3,555.8L1217.1,567.8L1218.9,565.1L1220.8,560.9L1222.6,557.6L1224.4,554.3L1226.2,549.5L1228.0,552.9L1229.8,550.2L1231.6,551.8L1233.4,556.1L1235.2,548.2L1237.0,517.3L1238.8,490.2L1240.6,486.9L1242.4,448.8L1244.2,412.5L1246.0,370.6L1247.8,327.1L1249.6,327.1L1251.4,327.2L1253.2,327.3L1255.0,300.2L1256.8,299.8L1258.6,313.5L1260.4,325.3L1262.2,334.1L1264.0,335.2L1265.8,334.5L1267.6,332.0L1269.4,304.1L1271.2,292.4L1273.0,291.4L1274.8,298.9L1276.6,305.1L1278.4,302.3L1280.2,299.4L1282.0,300.2L1283.8,300.8L1285.6,297.4L1287.4,293.0L1289.2,290.8L1291.0,289.4L1292.8,289.8L1294.6,288.9L1296.4,282.5L1298.2,292.6L1300.0,303.1L1301.8,312.3L1303.6,326.8L1305.4,337.5L1307.2,338.0L1309.0,344.0L1310.8,330.8L1312.6,300.7L1314.4,280.6L1316.2,268.9L1318.0,277.3L1319.8,289.5L1321.6,302.4L1323.4,318.2L1325.2,328.4L1327.0,340.6L1328.8,350.8L1330.6,365.0L1332.4,379.8L1334.2,396.2L1336.0,398.6L1337.8,390.3L1339.6,376.2L1341.4,357.9L1343.2,338.7L1345.0,331.0L1346.8,318.5L1348.6,325.7L1350.4,341.4L1352.2,348.5L1354.0,347.9L1355.8,344.0L1357.6,344.5L1359.4,349.6L1361.2,350.1L1363.0,346.0L1364.8,342.2L1366.6,336.4L1368.4,327.8L1370.2,302.2L1372.0,296.7L1373.8,298.4L1375.6,297.3L1377.4,297.0L1379.2,292.5L1381.0,283.2L1382.8,275.2L1384.6,268.7L1386.4,269.5L1388.2,275.0L1390.0,278.4L1391.8,280.0L1393.6,279.7L1395.4,280.0L1397.2,279.4L1399.0,278.5L1400.8,289.1L1402.6,330.7L1404.4,365.4L1406.2,411.6L1408.0,451.0L1409.8,467.5L1411.6,478.1L1413.4,493.1L1415.2,504.2L1417.0,516.5L1418.8,532.2L1420.6,518.1L1422.4,512.0L1424.2,513.9L1426.0,526.2L1427.8,538.4L1429.6,545.6L1431.4,552.8L1433.2,551.7L1435.0,544.4L1436.8,567.0L1438.6,609.9L1440.4,636.5L1442.2,629.4L1444.0,622.3L1445.8,664.1L1447.6,720.8L1449.4,787.0L1451.2,817.4L1453.0,841.2L1454.8,867.8L1456.6,894.7L1458.4,904.3L1460.2,917.8L1462.0,929.8L1463.8,940.5L1465.6,948.3L1467.4,951.4L1469.2,955.3L1471.0,960.7L1472.8,963.6L1474.6,957.8L1476.4,949.9L1478.2,945.0L1480.0,941.0L1481.8,929.7L1483.6,917.1L1485.4,907.8L1487.2,900.5L1489.0,886.1L1490.8,863.4L1492.6,835.8L1494.4,808.7L1496.2,779.4L1498.0,749.5L1499.8,717.3L1501.6,681.0L1503.4,638.2L1505.2,625.1L1507.0,619.0L1508.8,615.0L1510.6,610.6L1512.4,606.7L1514.2,604.0L1516.0,602.4L1517.8,598.2L1519.6,598.2L1521.4,600.2L1523.2,605.1L1525.0,612.2L1526.8,616.9L1528.6,624.6L1530.4,634.3L1532.2,634.5L1534.0,631.3L1535.8,638.8L1537.6,645.4L1539.4,655.2L1541.2,674.6L1543.0,698.7L1544.8,711.8L1546.6,728.0L1548.4,737.7L1550.2,747.8L1552.0,756.3L1553.8,772.5L1555.6,785.0L1557.4,795.1L1559.2,804.4L1561.0,809.1L1562.8,810.8L1564.6,807.2L1566.4,802.1L1568.2,804.9L1570.0,810.7L1571.8,824.2L1573.6,831.8L1575.4,842.0L1577.2,856.7L1579.0,870.5L1580.8,889.7L1582.6,912.8L1584.4,928.1L1586.2,942.3L1588.0,950.8L1589.8,956.3L1591.6,961.9L1593.4,968.7L1595.2,975.1L1597.0,975.9L1598.8,976.5L1600.6,980.6L1602.4,986.0L1604.2,990.2L1606.0,989.3L1607.8,981.2L1609.6,977.9L1611.4,977.9L1613.2,973.7L1615.0,969.2L1616.8,970.2L1618.6,971.9L1620.4,973.4L1622.2,979.2L1624.0,988.4L1625.8,993.2L1627.6,995.8L1629.4,998.5L1631.2,999.5L1633.0,1000.4L1634.8,1001.2L1636.6,999.3L1638.4,995.7L1640.2,995.4L1642.0,995.0L1643.8,996.6L1645.6,1001.3L1647.4,1003.9L1649.2,999.6L1651.0,1008.7L1652.9,1011.0L1654.7,1010.1L1656.5,1001.3L1658.3,1001.8L1660.1,1002.1L1661.9,1001.1L1663.7,1003.2L1665.5,1004.7L1667.3,1005.5L1669.1,1008.4L1670.9,1011.4L1672.7,1013.6L1674.5,1012.1L1676.3,1009.2L1678.1,1005.8L1679.9,1002.6L1681.7,997.0L1683.5,993.4L1685.3,992.8L1687.1,994.5L1688.9,1001.2L1690.7,1006.4L1692.5,1011.4L1694.3,1016.0L1696.1,1017.5L1697.9,1013.5L1699.7,1011.6L1701.5,1012.6L1703.3,1012.9L1705.1,1011.6L1706.9,1011.0L1708.7,1008.9L1710.5,1004.6L1712.3,1003.2L1714.1,1004.8L1715.9,1004.2L1717.7,1001.7L1719.5,1001.1L1721.3,1001.0L1723.1,1002.4L1724.9,1003.2L1726.7,1005.8L1728.5,1012.7L1730.3,1020.0L1732.1,1023.0L1733.9,1023.9L1735.7,1026.4L1737.5,1028.3L1739.3,1028.3L1741.1,1027.2L1742.9,1027.4L1744.7,1026.4L1746.5,1023.1L1748.3,1008.0L1750.1,1019.0L1751.9,1018.0L1753.7,1018.5L1755.5,1018.8L1757.3,1023.7L1759.1,1018.7L1760.9,1012.5L1762.7,1006.9L1764.5,1000.6L1766.3,993.5L1768.1,988.1L1769.9,991.2L1771.7,976.4L1773.5,967.5L1775.3,958.9L1777.1,953.8L1778.9,952.7L1780.7,954.0L1782.5,953.4L1784.3,947.4L1786.1,942.1L1787.9,937.9L1789.7,934.6L1791.5,933.2L1793.3,929.2L1795.1,922.1L1796.9,916.6L1798.7,918.6L1800.5,914.9L1802.3,908.6L1804.1,902.4L1805.9,899.2L1807.7,904.3L1809.5,894.8L1811.3,887.7L1813.1,884.3L1814.9,883.1L1816.7,883.2L1818.5,878.7L1820.3,877.9L1822.1,874.0L1823.9,870.5L1825.7,867.7L1827.5,867.7L1829.3,867.5L1831.1,866.5L1832.9,863.4L1834.7,862.6L1836.5,857.9L1838.3,854.4L1840.1,846.2L1841.9,848.6L1843.7,848.3L1845.5,848.8L1847.3,852.5L1849.1,856.7L1850.9,861.1L1852.7,865.4L1854.5,869.1L1856.3,873.4L1858.1,876.7L1859.9,878.2L1861.7,878.4L1863.5,879.5L1865.3,882.2L1867.1,885.2L1868.9,887.1L1870.7,889.6L1872.5,890.7L1874.3,887.4L1876.1,886.1L1877.9,888.8L1879.7,890.9L1881.5,892.9L1883.3,895.9L1885.1,898.6L1886.9,896.4L1888.7,890.2L1890.5,886.5L1892.3,884.5L1894.1,881.8L1895.9,880.7L1897.7,880.6L1899.5,878.9L1901.3,877.5L1903.1,877.2L1904.9,873.8L1906.7,875.6L1908.5,878.6L1910.3,881.3L1912.1,886.5L1913.9,886.1L1915.7,898.2L1917.5,901.7L1919.3,901.5L1921.1,904.8L1922.9,902.6L1924.7,908.1L1926.5,914.0L1928.3,920.7L1930.1,928.1L1931.9,933.7L1933.7,938.7L1935.5,944.5L1937.3,953.7L1939.1,957.9L1940.9,961.9L1942.7,965.4L1944.5,968.5L1946.3,970.9L1948.1,971.7L1949.9,970.7L1951.7,971.2L1953.5,972.8L1955.3,975.6L1957.1,982.4L1958.9,988.6L1960.7,990.2L1962.5,989.5L1964.3,985.1L1966.1,981.0L1967.9,984.0L1969.7,990.4L1971.5,994.9L1973.3,995.1L1975.1,995.0L1976.9,994.8L1978.7,996.1L1980.5,997.5L1982.3,999.2L1984.1,995.6L1985.9,996.6L1987.7,997.5L1989.5,999.6L1991.3,998.7L1993.1,997.3L1994.9,993.9L1996.7,991.9L1998.5,990.4L2000.3,986.8L2002.1,986.4L2003.9,986.6L2005.7,987.0L2007.5,986.8L2009.3,985.1L2011.1,983.6L2012.9,984.0L2014.7,985.3L2016.5,988.3L2018.3,990.6L2020.1,994.1L2021.9,999.3L2023.7,1002.5L2025.5,1005.3L2027.3,1008.2L2029.1,1006.1L2030.9,1003.6L2032.7,1002.8L2034.5,1001.2L2036.3,1001.4L2038.1,1005.0L2039.9,1007.5L2041.7,1008.4L2043.5,1009.9L2045.3,1012.4L2047.1,1013.0L2048.9,1013.9L2050.7,1011.0L2052.5,1004.9L2054.3,997.8L2056.1,992.8L2057.9,988.4L2059.7,980.9L2061.5,969.5L2063.3,959.3L2065.1,951.9L2066.9,943.4L2068.7,936.1L2070.5,930.4L2072.3,928.5L2074.1,925.3L2075.9,924.8L2077.7,920.8L2079.5,913.0L2081.3,934.4L2083.1,919.4L2084.9,897.2L2086.8,874.8L2088.6,854.7L2090.4,838.1L2092.2,821.5L2094.0,805.0L2095.8,787.8L2097.6,757.9L2099.4,728.2L2101.2,709.4L2103.0,702.2L2104.8,698.0L2106.6,692.4L2108.4,684.4L2110.2,676.6L2112.0,671.3L2113.8,667.9L2115.6,667.7L2117.4,666.5L2119.2,661.0L2121.0,655.3L2122.8,654.5L2124.6,655.8L2126.4,655.3L2128.2,650.2L2130.0,647.0L2131.8,644.8L2133.6,637.0L2135.4,629.3L2137.2,619.8L2139.0,615.1L2140.8,608.1L2142.6,592.2L2144.4,582.4L2146.2,556.3L2148.0,553.9L2149.8,561.0L2151.6,565.8L2153.4,562.9L2155.2,561.0L2157.0,559.1L2158.8,554.4L2160.6,547.6L2162.4,537.3L2164.2,527.8L2166.0,517.9L2167.8,505.9L2169.6,499.7L2171.4,496.1L2173.2,490.8L2175.0,484.4L2176.8,478.8L2178.6,468.0L2180.4,461.1L2182.2,443.6L2184.0,431.7L2185.8,426.1L2187.6,420.9L2189.4,411.1L2191.2,402.3L2193.0,392.3L2194.8,378.4L2196.6,356.6L2198.4,340.1L2200.2,331.8L2202.0,304.8L2203.8,278.4L2205.6,254.9L2207.4,254.3L2209.2,254.2L2211.0,252.8L2212.8,251.0L2214.6,246.7L2216.4,244.1L2218.2,249.8L2220.0,251.1L2221.8,246.4L2223.6,244.5L2225.4,246.3L2227.2,249.4L2229.0,252.6L2230.8,254.3L2232.6,255.1L2234.4,256.9L2236.2,258.9L2238.0,263.1L2239.8,271.6L2241.6,283.9L2243.4,297.8L2245.2,311.1L2247.0,322.5L2248.8,330.9L2250.6,332.9L2252.4,325.5L2254.2,312.5L2256.0,298.4L2257.8,280.1L2259.6,273.2L2261.4,267.8L2263.2,263.5L2265.0,266.9L2266.8,261.2L2268.6,258.8L2270.4,255.3L2272.2,255.6L2274.0,266.4L2275.8,274.4L2277.6,277.8L2279.4,285.9L2281.2,291.1L2283.0,291.6L2284.8,280.1L2286.6,273.2L2288.4,270.1L2290.2,266.6L2292.0,262.4L2293.8,258.4L2295.6,258.9L2297.4,262.3L2299.2,266.6L2301.1,270.2L2301.1,375.0L2299.2,379.8L2297.4,373.7L2295.6,374.7L2293.8,376.0L2292.0,375.7L2290.2,380.0L2288.4,386.4L2286.6,391.5L2284.8,397.4L2283.0,400.7L2281.2,396.4L2279.4,392.5L2277.6,385.0L2275.8,377.4L2274.0,372.2L2272.2,368.3L2270.4,368.0L2268.6,373.4L2266.8,375.5L2265.0,374.8L2263.2,378.1L2261.4,386.4L2259.6,396.1L2257.8,405.8L2256.0,418.5L2254.2,433.9L2252.4,439.2L2250.6,441.0L2248.8,438.1L2247.0,427.9L2245.2,417.4L2243.4,405.3L2241.6,392.2L2239.8,380.4L2238.0,373.4L2236.2,365.9L2234.4,361.9L2232.6,358.0L2230.8,356.0L2229.0,353.8L2227.2,351.2L2225.4,354.4L2223.6,358.6L2221.8,360.2L2220.0,361.1L2218.2,358.6L2216.4,349.3L2214.6,360.6L2212.8,361.1L2211.0,360.2L2209.2,362.0L2207.4,367.8L2205.6,380.2L2203.8,411.5L2202.0,429.3L2200.2,447.5L2198.4,469.0L2196.6,485.4L2194.8,495.6L2193.0,496.3L2191.2,499.1L2189.4,506.7L2187.6,519.2L2185.8,536.2L2184.0,553.2L2182.2,575.4L2180.4,604.0L2178.6,633.5L2176.8,634.5L2175.0,635.6L2173.2,636.6L2171.4,637.6L2169.6,638.7L2167.8,639.7L2166.0,655.0L2164.2,656.2L2162.4,659.2L2160.6,666.3L2158.8,672.0L2157.0,672.7L2155.2,671.5L2153.4,670.8L2151.6,671.2L2149.8,672.6L2148.0,692.4L2146.2,709.3L2144.4,733.1L2142.6,751.9L2140.8,760.9L2139.0,763.6L2137.2,768.1L2135.4,774.6L2133.6,776.7L2131.8,778.1L2130.0,776.0L2128.2,780.1L2126.4,778.5L2124.6,779.7L2122.8,798.5L2121.0,828.4L2119.2,828.5L2117.4,824.3L2115.6,816.0L2113.8,807.3L2112.0,807.0L2110.2,810.4L2108.4,825.1L2106.6,840.9L2104.8,854.2L2103.0,874.0L2101.2,898.2L2099.4,933.7L2097.6,939.5L2095.8,947.3L2094.0,958.3L2092.2,973.3L2090.4,987.9L2088.6,1001.2L2086.8,1012.7L2084.9,1024.8L2083.1,1030.9L2081.3,1034.6L2079.5,1043.0L2077.7,1039.1L2075.9,1040.2L2074.1,1041.2L2072.3,1043.2L2070.5,1045.3L2068.7,1044.8L2066.9,1056.9L2065.1,1061.8L2063.3,1065.8L2061.5,1074.2L2059.7,1082.6L2057.9,1085.2L2056.1,1089.6L2054.3,1095.0L2052.5,1100.8L2050.7,1101.5L2048.9,1100.0L2047.1,1102.4L2045.3,1101.9L2043.5,1097.5L2041.7,1093.4L2039.9,1094.3L2038.1,1096.7L2036.3,1096.2L2034.5,1096.2L2032.7,1098.4L2030.9,1101.1L2029.1,1101.6L2027.3,1101.0L2025.5,1102.2L2023.7,1103.8L2021.9,1104.8L2020.1,1099.7L2018.3,1090.1L2016.5,1084.4L2014.7,1082.4L2012.9,1085.7L2011.1,1084.7L2009.3,1086.5L2007.5,1089.5L2005.7,1091.8L2003.9,1092.5L2002.1,1091.5L2000.3,1089.0L1998.5,1086.3L1996.7,1085.0L1994.9,1085.3L1993.1,1087.2L1991.3,1092.7L1989.5,1097.8L1987.7,1097.0L1985.9,1092.2L1984.1,1091.3L1982.3,1099.4L1980.5,1093.4L1978.7,1094.2L1976.9,1097.2L1975.1,1100.4L1973.3,1100.5L1971.5,1096.3L1969.7,1090.6L1967.9,1085.4L1966.1,1084.7L1964.3,1090.0L1962.5,1091.6L1960.7,1089.0L1958.9,1087.0L1957.1,1082.0L1955.3,1087.1L1953.5,1084.6L1951.7,1081.8L1949.9,1078.6L1948.1,1075.0L1946.3,1073.0L1944.5,1073.4L1942.7,1071.8L1940.9,1068.7L1939.1,1068.0L1937.3,1068.0L1935.5,1065.8L1933.7,1062.4L1931.9,1049.1L1930.1,1041.7L1928.3,1034.6L1926.5,1030.3L1924.7,1028.1L1922.9,1024.1L1921.1,1021.4L1919.3,1017.3L1917.5,1013.4L1915.7,1010.5L1913.9,1008.4L1912.1,1005.1L1910.3,999.4L1908.5,998.0L1906.7,1000.5L1904.9,1002.1L1903.1,1001.4L1901.3,1003.3L1899.5,1007.0L1897.7,1007.9L1895.9,1006.6L1894.1,1010.6L1892.3,1008.4L1890.5,1009.5L1888.7,1011.3L1886.9,1010.2L1885.1,1010.5L1883.3,1011.7L1881.5,1009.2L1879.7,1006.6L1877.9,1005.4L1876.1,1004.4L1874.3,1004.9L1872.5,1005.1L1870.7,1005.1L1868.9,1002.7L1867.1,999.6L1865.3,998.6L1863.5,997.9L1861.7,997.2L1859.9,996.7L1858.1,995.6L1856.3,993.4L1854.5,992.3L1852.7,988.6L1850.9,982.0L1849.1,979.1L1847.3,978.1L1845.5,976.2L1843.7,978.8L1841.9,989.1L1840.1,981.3L1838.3,981.9L1836.5,984.8L1834.7,987.6L1832.9,989.9L1831.1,991.3L1829.3,994.5L1827.5,994.1L1825.7,996.1L1823.9,998.9L1822.1,999.7L1820.3,1000.6L1818.5,1003.2L1816.7,1006.4L1814.9,1006.7L1813.1,1008.0L1811.3,1015.2L1809.5,1022.3L1807.7,1024.4L1805.9,1023.4L1804.1,1022.9L1802.3,1023.8L1800.5,1027.7L1798.7,1034.0L1796.9,1039.9L1795.1,1041.4L1793.3,1041.2L1791.5,1042.7L1789.7,1046.2L1787.9,1049.7L1786.1,1052.2L1784.3,1055.8L1782.5,1061.5L1780.7,1065.7L1778.9,1067.7L1777.1,1069.6L1775.3,1072.1L1773.5,1076.2L1771.7,1071.6L1769.9,1077.0L1768.1,1081.6L1766.3,1086.6L1764.5,1091.9L1762.7,1095.2L1760.9,1098.2L1759.1,1103.1L1757.3,1103.9L1755.5,1102.4L1753.7,1101.1L1751.9,1102.4L1750.1,1104.7L1748.3,1106.5L1746.5,1106.5L1744.7,1106.5L1742.9,1106.5L1741.1,1106.5L1739.3,1105.9L1737.5,1103.6L1735.7,1102.1L1733.9,1103.0L1732.1,1103.1L1730.3,1103.2L1728.5,1101.7L1726.7,1098.8L1724.9,1097.9L1723.1,1098.9L1721.3,1100.2L1719.5,1101.0L1717.7,1100.5L1715.9,1100.6L1714.1,1103.8L1712.3,1104.4L1710.5,1102.7L1708.7,1101.2L1706.9,1098.4L1705.1,1098.1L1703.3,1099.4L1701.5,1101.3L1699.7,1103.8L1697.9,1104.7L1696.1,1105.0L1694.3,1104.9L1692.5,1103.8L1690.7,1102.7L1688.9,1100.8L1687.1,1098.8L1685.3,1099.0L1683.5,1096.8L1681.7,1092.9L1679.9,1091.4L1678.1,1096.4L1676.3,1099.4L1674.5,1098.5L1672.7,1097.0L1670.9,1096.5L1669.1,1094.2L1667.3,1094.5L1665.5,1093.9L1663.7,1091.1L1661.9,1088.1L1660.1,1091.2L1658.3,1093.9L1656.5,1093.7L1654.7,1093.2L1652.9,1095.8L1651.0,1099.6L1649.2,1100.9L1647.4,1100.0L1645.6,1101.7L1643.8,1102.2L1642.0,1098.6L1640.2,1095.7L1638.4,1094.7L1636.6,1090.5L1634.8,1093.5L1633.0,1103.1L1631.2,1099.5L1629.4,1092.6L1627.6,1085.2L1625.8,1079.7L1624.0,1075.6L1622.2,1074.0L1620.4,1072.3L1618.6,1066.9L1616.8,1068.5L1615.0,1072.5L1613.2,1074.4L1611.4,1075.4L1609.6,1075.8L1607.8,1077.5L1606.0,1080.9L1604.2,1084.6L1602.4,1081.2L1600.6,1076.7L1598.8,1080.1L1597.0,1084.2L1595.2,1082.3L1593.4,1077.5L1591.6,1070.4L1589.8,1065.6L1588.0,1060.0L1586.2,1052.5L1584.4,1058.2L1582.6,1065.2L1580.8,1050.0L1579.0,1030.9L1577.2,1011.7L1575.4,993.8L1573.6,977.1L1571.8,959.3L1570.0,940.4L1568.2,935.4L1566.4,944.3L1564.6,953.2L1562.8,957.4L1561.0,959.8L1559.2,966.7L1557.4,961.1L1555.6,936.0L1553.8,905.6L1552.0,899.5L1550.2,884.9L1548.4,872.6L1546.6,858.3L1544.8,838.3L1543.0,818.0L1541.2,800.2L1539.4,778.6L1537.6,765.1L1535.8,758.5L1534.0,757.0L1532.2,757.2L1530.4,754.1L1528.6,750.7L1526.8,748.2L1525.0,738.9L1523.2,731.5L1521.4,729.2L1519.6,722.9L1517.8,726.5L1516.0,729.0L1514.2,733.9L1512.4,743.7L1510.6,757.5L1508.8,783.9L1507.0,816.4L1505.2,853.5L1503.4,885.4L1501.6,901.1L1499.8,927.2L1498.0,950.7L1496.2,966.7L1494.4,984.6L1492.6,1004.0L1490.8,1019.3L1489.0,1034.8L1487.2,1039.2L1485.4,1043.5L1483.6,1048.4L1481.8,1051.8L1480.0,1054.2L1478.2,1055.7L1476.4,1058.2L1474.6,1059.5L1472.8,1066.5L1471.0,1065.4L1469.2,1063.2L1467.4,1061.8L1465.6,1059.9L1463.8,1056.5L1462.0,1044.6L1460.2,1030.9L1458.4,1020.3L1456.6,1010.3L1454.8,994.9L1453.0,975.4L1451.2,957.5L1449.4,934.2L1447.6,913.0L1445.8,893.3L1444.0,855.5L1442.2,818.4L1440.4,783.1L1438.6,747.8L1436.8,712.6L1435.0,691.9L1433.2,685.1L1431.4,677.2L1429.6,671.0L1427.8,666.8L1426.0,663.7L1424.2,656.6L1422.4,649.2L1420.6,632.0L1418.8,614.6L1417.0,593.6L1415.2,574.4L1413.4,555.7L1411.6,536.3L1409.8,518.8L1408.0,504.3L1406.2,485.0L1404.4,465.9L1402.6,450.0L1400.8,403.8L1399.0,396.0L1397.2,393.3L1395.4,391.3L1393.6,390.5L1391.8,386.7L1390.0,381.3L1388.2,377.9L1386.4,381.2L1384.6,385.3L1382.8,389.9L1381.0,394.5L1379.2,399.1L1377.4,404.6L1375.6,406.4L1373.8,405.7L1372.0,409.5L1370.2,427.2L1368.4,443.4L1366.6,454.1L1364.8,464.2L1363.0,468.4L1361.2,462.7L1359.4,455.9L1357.6,467.3L1355.8,476.2L1354.0,480.3L1352.2,471.8L1350.4,462.3L1348.6,453.9L1346.8,464.7L1345.0,473.2L1343.2,477.5L1341.4,500.7L1339.6,512.8L1337.8,530.7L1336.0,527.2L1334.2,504.4L1332.4,470.1L1330.6,456.0L1328.8,441.1L1327.0,427.9L1325.2,421.4L1323.4,414.2L1321.6,400.3L1319.8,388.8L1318.0,389.5L1316.2,413.8L1314.4,424.5L1312.6,433.4L1310.8,444.9L1309.0,450.0L1307.2,443.3L1305.4,436.5L1303.6,427.6L1301.8,416.4L1300.0,403.2L1298.2,398.1L1296.4,397.0L1294.6,397.6L1292.8,398.1L1291.0,398.8L1289.2,400.7L1287.4,402.9L1285.6,405.6L1283.8,407.8L1282.0,409.8L1280.2,401.6L1278.4,408.3L1276.6,411.5L1274.8,410.2L1273.0,408.0L1271.2,412.9L1269.4,421.9L1267.6,434.8L1265.8,446.1L1264.0,444.1L1262.2,436.5L1260.4,428.3L1258.6,419.4L1256.8,425.1L1255.0,449.5L1253.2,477.0L1251.4,508.4L1249.6,543.7L1247.8,615.7L1246.0,654.1L1244.2,676.8L1242.4,688.0L1240.6,703.5L1238.8,711.7L1237.0,715.8L1235.2,714.0L1233.4,712.8L1231.6,709.6L1229.8,707.3L1228.0,703.2L1226.2,709.5L1224.4,720.0L1222.6,734.5L1220.8,751.3L1218.9,752.8L1217.1,716.5L1215.3,661.4L1213.5,622.4L1211.7,598.6L1209.9,580.7L1208.1,566.5L1206.3,562.4L1204.5,563.8L1202.7,574.8L1200.9,594.0L1199.1,608.1L1197.3,602.0L1195.5,573.4L1193.7,474.7L1191.9,451.7L1190.1,437.5L1188.3,426.1L1186.5,412.4L1184.7,404.4L1182.9,399.5L1181.1,394.4L1179.3,388.2L1177.5,383.3L1175.7,379.5L1173.9,375.3L1172.1,380.0L1170.3,374.2L1168.5,383.5L1166.7,387.1L1164.9,390.5L1163.1,400.9L1161.3,424.2L1159.5,427.5L1157.7,430.5L1155.9,436.5L1154.1,447.2L1152.3,457.6L1150.5,465.3L1148.7,470.5L1146.9,465.1L1145.1,460.7L1143.3,477.6L1141.5,498.0L1139.7,510.9L1137.9,526.8L1136.1,541.0L1134.3,551.4L1132.5,573.4L1130.7,595.4L1128.9,589.2L1127.1,585.8L1125.3,573.6L1123.5,559.5L1121.7,546.5L1119.9,535.0L1118.1,546.1L1116.3,564.2L1114.5,563.0L1112.7,549.4L1110.9,538.6L1109.1,532.9L1107.3,535.6L1105.5,553.5L1103.7,591.1L1101.9,612.4L1100.1,655.3L1098.3,689.3L1096.5,708.9L1094.7,711.5L1092.9,672.3L1091.1,627.6L1089.3,571.1L1087.5,535.2L1085.7,511.7L1083.9,502.4L1082.1,504.6L1080.3,491.0L1078.5,478.7L1076.7,463.2L1074.9,445.5L1073.1,432.2L1071.3,421.1L1069.5,411.9L1067.7,404.3L1065.9,403.0L1064.1,403.8L1062.3,399.5L1060.5,411.4L1058.7,418.9L1056.9,423.5L1055.1,430.5L1053.3,438.7L1051.5,445.0L1049.7,452.6L1047.9,462.0L1046.1,469.8L1044.3,476.5L1042.5,470.9L1040.7,461.5L1038.9,455.2L1037.1,451.6L1035.3,446.6L1033.5,439.1L1031.7,431.3L1029.9,427.2L1028.1,423.7L1026.3,421.2L1024.5,423.6L1022.7,424.0L1020.9,416.5L1019.1,409.3L1017.3,404.5L1015.5,399.6L1013.7,394.2L1011.9,390.4L1010.1,385.0L1008.3,377.7L1006.5,371.9L1004.7,367.1L1002.9,367.6L1001.1,371.2L999.3,375.8L997.5,380.5L995.7,384.6L993.9,391.8L992.1,401.0L990.3,408.2L988.5,410.6L986.7,413.5L984.9,415.7L983.1,419.0L981.3,421.3L979.5,429.7L977.7,430.1L975.9,433.2L974.1,440.1L972.3,449.6L970.5,449.6L968.7,445.3L966.9,443.6L965.1,461.9L963.3,477.7L961.5,474.0L959.7,468.9L957.9,469.9L956.1,474.1L954.3,483.1L952.5,492.0L950.7,491.1L948.9,486.1L947.1,496.3L945.3,501.6L943.5,503.7L941.7,517.4L939.9,530.1L938.1,538.9L936.3,556.0L934.5,575.5L932.7,594.3L930.9,610.0L929.1,598.9L927.3,608.1L925.5,622.5L923.7,634.9L921.9,654.8L920.1,670.9L918.3,679.7L916.5,684.1L914.7,679.7L912.9,670.6L911.1,654.5L909.3,675.1L907.5,713.4L905.7,743.1L903.9,768.7L902.1,797.0L900.3,818.4L898.5,834.6L896.7,852.7L894.9,872.6L893.1,886.4L891.3,891.8L889.5,895.8L887.7,902.0L885.9,909.4L884.1,918.4L882.3,937.8L880.5,952.8L878.7,963.1L876.9,974.9L875.1,986.6L873.3,996.7L871.5,1002.3L869.7,1006.6L867.9,1016.3L866.1,1019.6L864.3,1022.3L862.5,1028.0L860.7,1030.7L858.9,1030.2L857.1,1028.6L855.3,1025.7L853.5,1023.3L851.7,1018.5L849.9,1012.7L848.1,1006.8L846.3,995.8L844.5,984.4L842.7,976.5L840.9,967.3L839.1,955.4L837.3,945.7L835.5,931.3L833.7,909.9L831.9,907.2L830.1,890.8L828.3,878.7L826.5,872.1L824.7,863.0L822.9,854.7L821.1,845.5L819.3,836.1L817.5,828.6L815.7,820.0L813.9,808.7L812.1,796.2L810.3,785.6L808.5,763.8L806.7,726.5L804.9,695.2L803.1,673.0L801.3,646.7L799.5,613.2L797.7,582.8L795.9,555.2L794.1,533.9L792.3,515.7L790.5,498.2L788.7,483.1L786.8,471.1L785.0,461.0L783.2,451.1L781.4,443.4L779.6,434.2L777.8,425.8L776.0,417.3L774.2,407.7L772.4,399.3L770.6,403.8L768.8,411.1L767.0,419.2L765.2,421.3L763.4,433.9L761.6,436.0L759.8,436.7L758.0,430.4L756.2,420.2L754.4,410.8L752.6,402.2L750.8,404.1L749.0,416.4L747.2,438.6L745.4,475.8L743.6,612.2L741.8,626.9L740.0,654.0L738.2,689.9L736.4,736.1L734.6,772.3L732.8,810.3L731.0,844.1L729.2,866.8L727.4,876.3L725.6,883.5L723.8,886.6L722.0,884.8L720.2,883.9L718.4,883.7L716.6,884.7L714.8,888.3L713.0,892.2L711.2,895.1L709.4,898.1L707.6,897.4L705.8,894.1L704.0,891.9L702.2,891.4L700.4,888.4L698.6,884.0L696.8,883.3L695.0,882.2L693.2,885.4L691.4,888.2L689.6,893.1L687.8,904.5L686.0,909.6L684.2,914.6L682.4,921.8L680.6,929.5L678.8,940.1L677.0,953.9L675.2,964.5L673.4,970.9L671.6,977.5L669.8,981.4L668.0,980.5L666.2,973.3L664.4,968.8L662.6,962.5L660.8,956.5L659.0,953.8L657.2,950.5L655.4,953.0L653.6,955.6L651.8,949.2L650.0,943.6L648.2,949.9L646.4,956.3L644.6,966.3L642.8,979.4L641.0,977.8L639.2,976.3L637.4,978.0L635.6,979.1L633.8,978.8L632.0,978.8L630.2,988.3L628.4,995.6L626.6,995.2L624.8,991.3L623.0,989.4L621.2,977.9L619.4,972.8L617.6,961.2L615.8,950.1L614.0,935.6L612.2,916.3L610.4,900.7L608.6,909.5L606.8,896.6L605.0,880.0L603.2,859.7L601.4,840.7L599.6,823.3L597.8,805.3L596.0,787.0L594.2,770.8L592.4,755.6L590.6,739.1L588.8,723.0L587.0,707.0L585.2,691.0L583.4,674.9L581.6,658.9L579.8,642.9L578.0,626.9L576.2,610.8L574.4,605.4L572.6,599.4L570.8,596.4L569.0,593.6L567.2,589.3L565.4,585.4L563.6,580.7L561.8,574.0L560.0,569.6L558.2,566.7L556.4,559.5L554.6,548.3L552.8,531.6L551.0,515.4L549.2,501.6L547.4,494.0L545.6,491.2L543.8,493.5L542.0,494.7L540.2,494.8L538.4,488.7L536.6,482.0L534.8,474.0L533.0,464.0L531.2,451.3L529.4,443.2L527.6,440.0L525.8,439.1L524.0,442.5L522.2,446.0L520.4,453.5L518.6,449.6L516.8,452.1L515.0,455.0L513.2,457.6L511.4,462.1L509.6,469.7L507.8,477.5L506.0,481.0L504.2,480.5L502.4,478.7L500.6,479.9L498.8,484.9L497.0,488.9L495.2,486.1L493.4,480.6L491.6,475.2L489.8,468.8L488.0,481.5L486.2,493.3L484.4,515.4L482.6,541.2L480.8,565.4L479.0,583.8L477.2,587.4L475.4,593.7L473.6,592.8L471.8,577.0L470.0,560.6L468.2,540.8L466.4,515.6L464.6,493.1L462.8,476.9L461.0,464.8L459.2,458.7L457.4,451.0L455.6,445.1L453.8,440.6L452.0,436.5L450.2,432.5L448.4,427.7L446.6,423.6L444.8,418.4L443.0,411.5L441.2,402.8L439.4,394.3L437.6,383.7L435.8,374.7L434.0,366.7L432.2,356.5L430.4,357.5L428.6,360.4L426.8,363.5L425.0,369.4L423.2,370.8L421.4,373.3L419.6,379.7L417.8,386.2L416.0,381.3L414.2,371.7L412.4,363.4L410.6,360.9L408.8,356.4L407.0,350.8L405.2,347.9L403.4,356.3L401.6,362.1L399.8,366.6L398.0,373.2L396.2,381.1L394.4,375.7L392.6,371.2L390.8,368.6L389.0,368.9L387.2,374.1L385.4,380.8L383.6,386.9L381.8,568.5L380.0,623.4L378.2,635.0L376.4,657.8L374.6,685.4L372.8,709.2L371.0,728.9L369.2,751.7L367.4,768.5L365.6,772.3L363.8,779.1L362.0,791.0L360.2,800.5L358.4,810.0L356.6,819.1L354.7,826.4L352.9,834.2L351.1,846.1L349.3,855.6L347.5,858.3L345.7,873.1L343.9,887.4L342.1,901.6L340.3,920.5L338.5,935.0L336.7,946.4L334.9,965.5L333.1,991.5L331.3,1015.8L329.5,1034.6L327.7,1049.6L325.9,1061.1L324.1,1063.8L322.3,1074.2L320.5,1081.5L318.7,1085.2L316.9,1091.7L315.1,1097.6L313.3,1098.3L311.5,1099.4L309.7,1099.7L307.9,1092.5L306.1,1102.8L304.3,1104.7L302.5,1105.1L300.7,1103.1L298.9,1102.4L297.1,1103.5L295.3,1103.2L293.5,1102.7L291.7,1103.6L289.9,1103.7L288.1,1102.0L286.3,1100.8L284.5,1098.7L282.7,1097.1L280.9,1092.9L279.1,1086.3L277.3,1077.7L275.5,1074.2L273.7,1066.1L271.9,1062.3L270.1,1060.9L268.3,1059.9L266.5,1058.4L264.7,1051.7L262.9,1054.7L261.1,1053.9L259.3,1050.0L257.5,1047.0L255.7,1046.2L253.9,1046.1L252.1,1039.7L250.3,1039.9L248.5,1041.6L246.7,1042.6L244.9,1044.7L243.1,1047.8L241.3,1050.3L239.5,1050.5L237.7,1047.1L235.9,1045.8L234.1,1048.5L232.3,1050.4L230.5,1047.2L228.7,1042.6L226.9,1041.5L225.1,1040.0L223.3,1040.4L221.5,1042.9L219.7,1052.4L217.9,1049.1L216.1,1051.2L214.3,1052.2L212.5,1054.8L210.7,1057.9L208.9,1057.5L207.1,1057.8L205.3,1060.9L203.5,1062.7L201.7,1062.2L199.9,1063.4L198.1,1067.1L196.3,1069.2L194.5,1068.4L192.7,1069.2L190.9,1078.2L189.1,1076.7L187.3,1076.8L185.5,1077.7L183.7,1079.6L181.9,1081.5L180.1,1081.1L178.3,1084.6L176.5,1089.5L174.7,1090.1L172.9,1087.0L171.1,1085.6L169.3,1084.8L167.5,1084.3L165.7,1082.4L163.9,1090.4L162.1,1092.5L160.3,1094.6L158.5,1094.1L156.7,1093.9L154.9,1090.8L153.1,1088.2L151.3,1090.1L149.5,1091.8L147.7,1090.4L145.9,1090.5L144.1,1091.0L142.3,1089.2L139.9,1088.4Z" fill="#00ff00"/>
<polyline points="140.5,1072.0 142.3,1064.8 144.1,1064.5 145.9,1063.9 147.7,1059.2 149.5,1059.7 151.3,1063.2 153.1,1064.0 154.9,1076.6 156.7,1079.3 158.5,1071.5 160.3,1068.0 162.1,1065.2 163.9,1058.5 165.7,1055.1 167.5,1053.8 169.3,1060.8 171.1,1061.5 172.9,1063.6 174.7,1060.8 176.5,1068.2 178.3,1060.7 180.1,1055.7 181.9,1058.4 183.7,1049.4 185.5,1041.1 187.3,1038.0 189.1,1027.4 190.9,1030.3 192.7,1025.1 194.5,1023.2 196.3,1026.8 198.1,1018.7 199.9,1023.5 201.7,1015.9 203.5,1018.6 205.3,1016.1 207.1,1020.0 208.9,1017.8 210.7,1009.3 212.5,1009.4 214.3,1003.0 216.1,1001.0 217.9,993.7 219.7,987.3 221.5,986.9 223.3,995.5 225.1,1003.2 226.9,1001.0 228.7,999.6 230.5,1006.6 232.3,1002.9 234.1,1003.2 235.9,1004.3 237.7,1003.0 239.5,1000.1 241.3,994.7 243.1,997.3 244.9,993.2 246.7,994.1 248.5,990.0 250.3,987.5 252.1,993.8 253.9,1000.0 255.7,996.1 257.5,997.8 259.3,1000.9 261.1,1005.2 262.9,1011.1 264.7,1012.9 266.5,1024.3 268.3,1024.2 270.1,1032.9 271.9,1046.9 273.7,1054.2 275.5,1057.0 277.3,1064.2 279.1,1071.1 280.9,1074.4 282.7,1074.5 284.5,1082.7 286.3,1085.1 288.1,1085.7 289.9,1084.1 291.7,1088.7 293.5,1090.3 295.3,1093.8 297.1,1100.6 298.9,1101.3 300.7,1101.3 302.5,1098.8 304.3,1096.1 306.1,1091.3 307.9,1087.7 309.7,1080.2 311.5,1075.8 313.3,1075.3 315.1,1065.2 316.9,1055.6 318.7,1043.7 320.5,1024.7 322.3,1014.5 324.1,1001.0 325.9,979.6 327.7,956.7 329.5,926.8 331.3,906.6 333.1,866.4 334.9,851.8 336.7,824.4 338.5,794.6 340.3,779.3 342.1,766.8 343.9,756.1 345.7,735.4 347.5,726.8 349.3,717.9 351.1,709.3 352.9,695.9 354.7,688.9 356.6,672.7 358.4,663.4 360.2,659.2 362.0,650.7 363.8,645.9 365.6,642.7 367.4,624.5 369.2,613.0 371.0,603.8 372.8,540.4 374.6,504.6 376.4,469.8 378.2,436.8 380.0,406.7 381.8,369.7 383.6,331.5 385.4,313.0 387.2,288.8 389.0,290.2 390.8,299.2 392.6,299.4 394.4,306.8 396.2,295.3 398.0,282.6 399.8,273.4 401.6,272.5 403.4,278.5 405.2,278.6 407.0,288.0 408.8,283.1 410.6,298.2 412.4,288.4 414.2,306.5 416.0,319.4 417.8,318.7 419.6,320.4 421.4,285.9 423.2,293.0 425.0,283.1 426.8,269.5 428.6,252.4 430.4,268.4 432.2,301.4 434.0,320.0 435.8,339.5 437.6,351.2 439.4,353.9 441.2,368.9 443.0,369.9 444.8,366.1 446.6,361.4 448.4,367.8 450.2,377.2 452.0,385.3 453.8,394.3 455.6,413.0 457.4,428.5 459.2,437.1 461.0,442.5 462.8,466.5 464.6,493.5 466.4,510.6 468.2,518.0 470.0,531.4 471.8,523.6 473.6,506.8 475.4,508.1 477.2,502.4 479.0,475.8 480.8,467.2 482.6,439.6 484.4,408.8 486.2,413.6 488.0,407.6 489.8,404.0 491.6,432.5 493.4,408.5 495.2,431.0 497.0,436.8 498.8,429.2 500.6,412.0 502.4,428.4 504.2,405.5 506.0,401.4 507.8,406.2 509.6,412.9 511.4,407.5 513.2,402.3 515.0,383.5 516.8,381.2 518.6,371.4 520.4,374.8 522.2,378.0 524.0,367.8 525.8,369.9 527.6,362.5 529.4,369.6 531.2,413.8 533.0,433.0 534.8,440.7 536.6,434.6 538.4,437.6 540.2,427.7 542.0,425.2 543.8,419.0 545.6,423.6 547.4,432.0 549.2,438.2 551.0,475.3 552.8,494.9 554.6,498.4 556.4,499.7 558.2,512.5 560.0,510.4 561.8,516.3 563.6,527.9 565.4,536.1 567.2,535.3 569.0,524.7 570.8,506.5 572.6,488.3 574.4,480.8 576.2,502.7 578.0,538.1 579.8,570.5 581.6,588.2 583.4,603.9 585.2,607.9 587.0,618.2 588.8,623.8 590.6,635.9 592.4,644.8 594.2,654.7 596.0,666.2 597.8,675.2 599.6,688.4 601.4,702.9 603.2,726.9 605.0,759.1 606.8,796.5 608.6,823.3 610.4,837.8 612.2,842.0 614.0,862.6 615.8,886.3 617.6,894.4 619.4,894.7 621.2,898.7 623.0,898.4 624.8,901.4 626.6,899.4 628.4,902.8 630.2,900.2 632.0,896.6 633.8,899.7 635.6,900.2 637.4,896.0 639.2,893.6 641.0,874.0 642.8,858.5 644.6,852.8 646.4,847.0 648.2,848.4 650.0,858.5 651.8,866.4 653.6,866.0 655.4,869.2 657.2,867.2 659.0,869.3 660.8,877.8 662.6,884.8 664.4,897.0 666.2,891.5 668.0,880.3 669.8,878.7 671.6,876.2 673.4,868.4 675.2,854.7 677.0,850.0 678.8,831.8 680.6,810.8 682.4,800.5 684.2,791.2 686.0,790.0 687.8,786.3 689.6,779.8 691.4,777.2 693.2,787.0 695.0,786.2 696.8,786.7 698.6,789.8 700.4,789.4 702.2,798.2 704.0,797.6 705.8,796.8 707.6,795.2 709.4,798.2 711.2,784.5 713.0,781.4 714.8,781.5 716.6,780.7 718.4,778.9 720.2,775.3 722.0,773.9 723.8,771.3 725.6,754.3 727.4,745.5 729.2,734.7 731.0,705.9 732.8,591.7 734.6,562.4 736.4,511.3 738.2,464.1 740.0,429.3 741.8,409.6 743.6,379.1 745.4,356.8 747.2,341.3 749.0,345.1 750.8,349.0 752.6,360.7 754.4,354.2 756.2,357.1 758.0,371.3 759.8,376.8 761.6,370.1 763.4,355.4 765.2,345.0 767.0,347.9 768.8,330.4 770.6,362.6 772.4,365.0 774.2,356.0 776.0,351.7 777.8,377.4 779.6,389.4 781.4,392.3 783.2,402.1 785.0,405.8 786.8,416.9 788.7,439.3 790.5,459.6 792.3,468.2 794.1,484.1 795.9,493.0 797.7,509.6 799.5,552.8 801.3,627.0 803.1,640.5 804.9,643.4 806.7,669.3 808.5,681.8 810.3,691.1 812.1,700.0 813.9,698.9 815.7,699.7 817.5,726.0 819.3,744.8 821.1,742.9 822.9,750.6 824.7,764.1 826.5,766.3 828.3,770.5 830.1,800.7 831.9,798.8 833.7,827.7 835.5,849.3 837.3,855.3 839.1,888.2 840.9,903.2 842.7,918.2 844.5,936.1 846.3,940.6 848.1,947.7 849.9,953.8 851.7,970.2 853.5,977.6 855.3,978.8 857.1,975.8 858.9,967.4 860.7,957.6 862.5,957.4 864.3,949.2 866.1,948.8 867.9,942.7 869.7,927.2 871.5,925.9 873.3,900.7 875.1,885.0 876.9,858.3 878.7,848.6 880.5,836.8 882.3,796.2 884.1,781.1 885.9,776.1 887.7,772.6 889.5,758.6 891.3,747.2 893.1,739.7 894.9,720.6 896.7,712.1 898.5,697.5 900.3,674.5 902.1,627.1 903.9,607.2 905.7,598.6 907.5,582.7 909.3,576.7 911.1,565.9 912.9,553.1 914.7,543.1 916.5,544.9 918.3,536.9 920.1,536.0 921.9,536.4 923.7,536.7 925.5,537.3 927.3,526.2 929.1,516.4 930.9,502.3 932.7,491.3 934.5,489.7 936.3,447.5 938.1,427.4 939.9,422.6 941.7,426.1 943.5,437.4 945.3,442.3 947.1,437.9 948.9,409.4 950.7,412.1 952.5,399.6 954.3,391.5 956.1,387.0 957.9,387.6 959.7,394.5 961.5,392.8 963.3,360.2 965.1,383.9 966.9,393.5 968.7,392.6 970.5,381.6 972.3,366.3 974.1,364.8 975.9,372.7 977.7,369.2 979.5,352.1 981.3,346.6 983.1,355.3 984.9,355.6 986.7,360.2 988.5,348.9 990.3,335.2 992.1,334.0 993.9,316.7 995.7,323.1 997.5,317.3 999.3,296.6 1001.1,309.1 1002.9,303.1 1004.7,322.9 1006.5,326.0 1008.3,321.8 1010.1,334.7 1011.9,327.8 1013.7,336.2 1015.5,358.5 1017.3,365.6 1019.1,367.2 1020.9,372.5 1022.7,364.0 1024.5,369.1 1026.3,369.6 1028.1,367.9 1029.9,369.0 1031.7,392.2 1033.5,401.3 1035.3,397.7 1037.1,395.4 1038.9,413.4 1040.7,433.5 1042.5,394.6 1044.3,392.1 1046.1,381.8 1047.9,373.3 1049.7,377.8 1051.5,359.5 1053.3,363.8 1055.1,356.6 1056.9,345.7 1058.7,338.8 1060.5,333.0 1062.3,328.3 1064.1,317.3 1065.9,350.4 1067.7,351.2 1069.5,355.1 1071.3,365.7 1073.1,386.9 1074.9,407.9 1076.7,427.0 1078.5,463.7 1080.3,428.6 1082.1,411.2 1083.9,408.9 1085.7,430.1 1087.5,502.6 1089.3,548.6 1091.1,590.9 1092.9,621.5 1094.7,622.3 1096.5,604.5 1098.3,512.2 1100.1,464.8 1101.9,469.2 1103.7,458.0 1105.5,424.4 1107.3,442.0 1109.1,460.2 1110.9,471.9 1112.7,499.9 1114.5,514.9 1116.3,503.6 1118.1,435.6 1119.9,433.7 1121.7,450.6 1123.5,489.6 1125.3,514.6 1127.1,558.2 1128.9,544.6 1130.7,538.8 1132.5,527.6 1134.3,500.5 1136.1,445.3 1137.9,436.2 1139.7,415.5 1141.5,395.4 1143.3,409.6 1145.1,406.0 1146.9,397.8 1148.7,399.6 1150.5,391.3 1152.3,392.4 1154.1,382.7 1155.9,395.0 1157.7,373.3 1159.5,368.6 1161.3,361.8 1163.1,358.1 1164.9,352.1 1166.7,336.0 1168.5,331.4 1170.3,313.9 1172.1,328.1 1173.9,323.8 1175.7,331.6 1177.5,343.6 1179.3,346.1 1181.1,338.4 1182.9,328.9 1184.7,323.3 1186.5,335.1 1188.3,355.8 1190.1,366.4 1191.9,480.4 1193.7,478.8 1195.5,477.5 1197.3,481.9 1199.1,481.3 1200.9,476.7 1202.7,478.7 1204.5,490.0 1206.3,490.6 1208.1,491.8 1209.9,617.4 1211.7,625.0 1213.5,647.2 1215.3,667.2 1217.1,664.0 1218.9,651.2 1220.8,644.8 1222.6,618.6 1224.4,617.7 1226.2,619.2 1228.0,627.3 1229.8,624.3 1231.6,631.7 1233.4,625.3 1235.2,606.9 1237.0,603.9 1238.8,573.1 1240.6,553.4 1242.4,531.9 1244.2,516.4 1246.0,477.5 1247.8,429.6 1249.6,403.5 1251.4,382.7 1253.2,364.9 1255.0,357.0 1256.8,372.8 1258.6,386.3 1260.4,386.7 1262.2,373.0 1264.0,391.9 1265.8,386.3 1267.6,362.6 1269.4,343.7 1271.2,330.1 1273.0,357.0 1274.8,345.0 1276.6,346.6 1278.4,355.1 1280.2,343.0 1282.0,346.2 1283.8,331.7 1285.6,332.8 1287.4,324.9 1289.2,332.3 1291.0,340.1 1292.8,332.5 1294.6,335.6 1296.4,339.3 1298.2,352.8 1300.0,363.6 1301.8,378.5 1303.6,385.6 1305.4,395.4 1307.2,389.0 1309.0,364.2 1310.8,340.8 1312.6,326.3 1314.4,303.7 1316.2,313.6 1318.0,351.9 1319.8,367.6 1321.6,382.7 1323.4,382.6 1325.2,411.1 1327.0,408.2 1328.8,455.5 1330.6,464.3 1332.4,478.9 1334.2,456.1 1336.0,442.5 1337.8,416.9 1339.6,405.2 1341.4,387.7 1343.2,368.9 1345.0,360.3 1346.8,384.6 1348.6,401.5 1350.4,429.0 1352.2,416.1 1354.0,399.5 1355.8,387.2 1357.6,404.2 1359.4,403.4 1361.2,420.3 1363.0,421.9 1364.8,370.8 1366.6,345.2 1368.4,357.3 1370.2,353.3 1372.0,346.8 1373.8,332.9 1375.6,346.5 1377.4,343.5 1379.2,337.3 1381.0,316.7 1382.8,312.2 1384.6,312.3 1386.4,325.4 1388.2,315.0 1390.0,326.8 1391.8,327.1 1393.6,321.2 1395.4,317.3 1397.2,327.2 1399.0,337.3 1400.8,382.3 1402.6,454.6 1404.4,484.0 1406.2,493.8 1408.0,518.0 1409.8,528.0 1411.6,531.2 1413.4,553.8 1415.2,562.1 1417.0,555.0 1418.8,535.8 1420.6,538.9 1422.4,569.3 1424.2,571.1 1426.0,565.8 1427.8,570.2 1429.6,585.6 1431.4,571.5 1433.2,574.3 1435.0,609.7 1436.8,636.0 1438.6,658.9 1440.4,704.2 1442.2,760.0 1444.0,817.1 1445.8,859.3 1447.6,881.1 1449.4,900.4 1451.2,908.6 1453.0,924.1 1454.8,940.5 1456.6,958.4 1458.4,984.6 1460.2,995.3 1462.0,1011.7 1463.8,1020.3 1465.6,1022.3 1467.4,1026.5 1469.2,1035.3 1471.0,1039.1 1472.8,1031.7 1474.6,1018.9 1476.4,1019.8 1478.2,1009.8 1480.0,1000.8 1481.8,1000.3 1483.6,998.2 1485.4,990.9 1487.2,962.5 1489.0,931.5 1490.8,924.4 1492.6,906.8 1494.4,861.9 1496.2,815.6 1498.0,797.4 1499.8,779.3 1501.6,755.1 1503.4,719.2 1505.2,638.2 1507.0,638.3 1508.8,628.5 1510.6,629.4 1512.4,626.2 1514.2,625.2 1516.0,622.7 1517.8,627.3 1519.6,632.2 1521.4,631.4 1523.2,639.2 1525.0,650.9 1526.8,659.5 1528.6,663.1 1530.4,660.8 1532.2,658.0 1534.0,650.9 1535.8,652.2 1537.6,668.7 1539.4,718.7 1541.2,738.7 1543.0,760.0 1544.8,780.9 1546.6,774.5 1548.4,757.7 1550.2,769.8 1552.0,821.9 1553.8,844.9 1555.6,862.8 1557.4,865.5 1559.2,863.3 1561.0,856.0 1562.8,844.1 1564.6,836.0 1566.4,840.2 1568.2,844.3 1570.0,892.1 1571.8,905.1 1573.6,907.4 1575.4,920.2 1577.2,933.5 1579.0,961.3 1580.8,986.1 1582.6,993.2 1584.4,992.9 1586.2,1014.3 1588.0,1017.1 1589.8,1023.1 1591.6,1034.6 1593.4,1044.8 1595.2,1047.9 1597.0,1050.6 1598.8,1051.1 1600.6,1052.3 1602.4,1049.7 1604.2,1050.0 1606.0,1047.6 1607.8,1041.9 1609.6,1042.7 1611.4,1040.3 1613.2,1039.0 1615.0,1035.2 1616.8,1036.3 1618.6,1037.4 1620.4,1047.3 1622.2,1047.0 1624.0,1054.1 1625.8,1056.7 1627.6,1063.2 1629.4,1064.6 1631.2,1062.2 1633.0,1059.7 1634.8,1060.1 1636.6,1064.0 1638.4,1066.1 1640.2,1067.7 1642.0,1069.1 1643.8,1073.1 1645.6,1078.8 1647.4,1075.6 1649.2,1080.8 1651.0,1085.4 1652.9,1078.6 1654.7,1072.0 1656.5,1071.0 1658.3,1067.6 1660.1,1071.4 1661.9,1077.2 1663.7,1077.5 1665.5,1067.2 1667.3,1072.7 1669.1,1078.2 1670.9,1074.0 1672.7,1077.5 1674.5,1079.0 1676.3,1072.0 1678.1,1072.0 1679.9,1067.1 1681.7,1058.6 1683.5,1060.9 1685.3,1069.4 1687.1,1081.8 1688.9,1087.4 1690.7,1086.2 1692.5,1086.0 1694.3,1088.2 1696.1,1086.9 1697.9,1088.4 1699.7,1081.4 1701.5,1081.5 1703.3,1078.7 1705.1,1085.0 1706.9,1082.7 1708.7,1080.0 1710.5,1077.1 1712.3,1074.8 1714.1,1071.1 1715.9,1070.0 1717.7,1068.3 1719.5,1072.0 1721.3,1072.1 1723.1,1072.7 1724.9,1078.7 1726.7,1089.3 1728.5,1091.6 1730.3,1094.0 1732.1,1098.0 1733.9,1101.3 1735.7,1096.4 1737.5,1098.3 1739.3,1096.3 1741.1,1101.3 1742.9,1099.9 1744.7,1098.3 1746.5,1097.1 1748.3,1100.0 1750.1,1097.6 1751.9,1097.2 1753.7,1101.3 1755.5,1097.1 1757.3,1096.2 1759.1,1101.3 1760.9,1089.2 1762.7,1082.8 1764.5,1074.1 1766.3,1067.3 1768.1,1061.2 1769.9,1052.8 1771.7,1044.6 1773.5,1035.2 1775.3,1028.0 1777.1,1031.7 1778.9,1034.0 1780.7,1027.1 1782.5,1015.5 1784.3,1011.4 1786.1,1003.6 1787.9,1001.1 1789.7,997.1 1791.5,998.6 1793.3,990.8 1795.1,978.7 1796.9,970.9 1798.7,973.0 1800.5,975.1 1802.3,968.7 1804.1,960.3 1805.9,955.3 1807.7,952.1 1809.5,949.0 1811.3,935.6 1813.1,933.6 1814.9,934.5 1816.7,935.3 1818.5,929.6 1820.3,923.1 1822.1,925.1 1823.9,922.0 1825.7,915.5 1827.5,914.1 1829.3,913.1 1831.1,912.9 1832.9,914.6 1834.7,912.7 1836.5,911.5 1838.3,909.7 1840.1,908.0 1841.9,905.5 1843.7,903.5 1845.5,902.4 1847.3,901.8 1849.1,910.0 1850.9,920.4 1852.7,919.5 1854.5,920.6 1856.3,926.2 1858.1,925.3 1859.9,926.0 1861.7,933.5 1863.5,933.2 1865.3,935.5 1867.1,933.8 1868.9,938.4 1870.7,937.7 1872.5,937.9 1874.3,937.9 1876.1,941.3 1877.9,942.4 1879.7,947.8 1881.5,947.2 1883.3,950.8 1885.1,947.3 1886.9,940.9 1888.7,940.0 1890.5,942.8 1892.3,940.7 1894.1,944.3 1895.9,943.7 1897.7,939.3 1899.5,935.9 1901.3,932.5 1903.1,930.7 1904.9,928.8 1906.7,927.5 1908.5,929.2 1910.3,931.5 1912.1,943.0 1913.9,953.8 1915.7,955.5 1917.5,961.1 1919.3,966.9 1921.1,967.3 1922.9,975.8 1924.7,978.7 1926.5,990.3 1928.3,1004.8 1930.1,1014.4 1931.9,1023.7 1933.7,1027.4 1935.5,1027.1 1937.3,1029.1 1939.1,1031.6 1940.9,1038.7 1942.7,1037.3 1944.5,1046.8 1946.3,1048.1 1948.1,1051.6 1949.9,1055.5 1951.7,1051.7 1953.5,1054.0 1955.3,1060.0 1957.1,1059.0 1958.9,1062.8 1960.7,1065.8 1962.5,1062.9 1964.3,1055.6 1966.1,1057.3 1967.9,1063.9 1969.7,1069.9 1971.5,1062.7 1973.3,1070.5 1975.1,1068.7 1976.9,1062.9 1978.7,1063.2 1980.5,1069.4 1982.3,1068.9 1984.1,1073.5 1985.9,1078.5 1987.7,1075.7 1989.5,1070.8 1991.3,1065.3 1993.1,1062.0 1994.9,1062.5 1996.7,1060.5 1998.5,1058.0 2000.3,1060.0 2002.1,1070.0 2003.9,1068.5 2005.7,1065.3 2007.5,1058.6 2009.3,1060.9 2011.1,1055.1 2012.9,1054.1 2014.7,1052.1 2016.5,1058.4 2018.3,1065.1 2020.1,1070.0 2021.9,1077.1 2023.7,1083.7 2025.5,1085.2 2027.3,1083.0 2029.1,1081.4 2030.9,1077.3 2032.7,1080.7 2034.5,1074.7 2036.3,1078.1 2038.1,1079.4 2039.9,1074.8 2041.7,1079.1 2043.5,1078.9 2045.3,1078.4 2047.1,1081.7 2048.9,1082.5 2050.7,1080.5 2052.5,1076.8 2054.3,1065.1 2056.1,1056.1 2057.9,1050.8 2059.7,1043.0 2061.5,1021.0 2063.3,1013.1 2065.1,1002.2 2066.9,1000.4 2068.7,989.3 2070.5,987.9 2072.3,992.0 2074.1,996.7 2075.9,990.8 2077.7,981.0 2079.5,985.3 2081.3,973.0 2083.1,960.3 2084.9,938.2 2086.8,915.0 2088.6,892.9 2090.4,883.5 2092.2,871.5 2094.0,852.8 2095.8,822.2 2097.6,791.1 2099.4,768.2 2101.2,749.6 2103.0,724.1 2104.8,704.2 2106.6,702.7 2108.4,700.7 2110.2,707.3 2112.0,718.1 2113.8,722.8 2115.6,733.1 2117.4,725.4 2119.2,709.8 2121.0,696.1 2122.8,673.3 2124.6,675.6 2126.4,666.8 2128.2,676.3 2130.0,671.9 2131.8,669.2 2133.6,665.8 2135.4,664.7 2137.2,655.8 2139.0,646.4 2140.8,632.1 2142.6,620.3 2144.4,621.4 2146.2,621.1 2148.0,618.0 2149.8,640.3 2151.6,628.7 2153.4,607.2 2155.2,608.3 2157.0,579.8 2158.8,572.6 2160.6,581.9 2162.4,556.3 2164.2,532.7 2166.0,556.2 2167.8,573.4 2169.6,589.1 2171.4,579.3 2173.2,567.8 2175.0,549.8 2176.8,523.0 2178.6,481.8 2180.4,469.3 2182.2,453.7 2184.0,451.7 2185.8,447.1 2187.6,441.8 2189.4,433.7 2191.2,433.4 2193.0,425.7 2194.8,396.2 2196.6,401.1 2198.4,378.1 2200.2,352.2 2202.0,305.2 2203.8,301.4 2205.6,294.5 2207.4,291.5 2209.2,287.2 2211.0,285.1 2212.8,284.8 2214.6,285.3 2216.4,289.8 2218.2,299.8 2220.0,272.4 2221.8,274.8 2223.6,272.5 2225.4,280.9 2227.2,275.2 2229.0,293.9 2230.8,292.9 2232.6,295.3 2234.4,297.6 2236.2,305.9 2238.0,328.9 2239.8,338.2 2241.6,343.2 2243.4,371.3 2245.2,361.5 2247.0,385.2 2248.8,357.5 2250.6,372.8 2252.4,354.4 2254.2,357.2 2256.0,320.8 2257.8,328.6 2259.6,296.5 2261.4,320.1 2263.2,306.0 2265.0,300.2 2266.8,300.9 2268.6,318.3 2270.4,313.1 2272.2,307.8 2274.0,336.4 2275.8,332.8 2277.6,327.8 2279.4,349.5 2281.2,331.3 2283.0,334.7 2284.8,325.2 2286.6,308.8 2288.4,312.5 2290.2,299.1 2292.0,307.0 2293.8,300.5 2295.6,302.5 2297.4,318.1 2299.2,304.7 2301.0,295.8" fill="none" stroke="#ff0000" stroke-width="1"/>
</g>
<path d="M140.5,1072.0h0M142.3,1064.8h0M144.1,1064.5h0M145.9,1063.9h0M147.7,1059.2h0M149.5,1059.7h0M151.3,1063.2h0M153.1,1064.0h0M154.9,1076.6h0M156.7,1079.3h0M158.5,1071.5h0M160.3,1068.0h0M162.1,1065.2h0M163.9,1058.5h0M165.7,1055.1h0M167.5,1053.8h0M169.3,1060.8h0M171.1,1061.5h0M172.9,1063.6h0M174.7,1060.8h0M176.5,1068.2h0M178.3,1060.7h0M180.1,1055.7h0M181.9,1058.4h0M183.7,1049.4h0M185.5,1041.1h0M187.3,1038.0h0M189.1,1027.4h0M190.9,1030.3h0M192.7,1025.1h0M194.5,1023.2h0M196.3,1026.8h0M198.1,1018.7h0M199.9,1023.5h0M201.7,1015.9h0M203.5,1018.6h0M205.3,1016.1h0M207.1,1020.0h0M208.9,1017.8h0M210.7,1009.3h0M212.5,1009.4h0M214.3,1003.0h0M216.1,1001.0h0M217.9,993.7h0M219.7,987.3h0M221.5,986.9h0M223.3,995.5h0M225.1,1003.2h0M226.9,1001.0h0M228.7,999.6h0M230.5,1006.6h0M232.3,1002.9h0M234.1,1003.2h0M235.9,1004.3h0M237.7,1003.0h0M239.5,1000.1h0M241.3,994.7h0M243.1,997.3h0M244.9,993.2h0M246.7,994.1h0M248.5,990.0h0M250.3,987.5h0M252.1,993.8h0M253.9,1000.0h0M255.7,996.1h0M257.5,997.8h0M259.3,1000.9h0M261.1,1005.2h0M262.9,1011.1h0M264.7,1012.9h0M266.5,1024.3h0M268.3,1024.2h0M270.1,1032.9h0M271.9,1046.9h0M273.7,1054.2h0M275.5,1057.0h0M277.3,1064.2h0M279.1,1071.1h0M280.9,1074.4h0M282.7,1074.5h0M284.5,1082.7h0M286.3,1085.1h0M288.1,1085.7h0M289.9,1084.1h0M291.7,1088.7h0M293.5,1090.3h0M295.3,1093.8h0M297.1,1100.6h0M298.9,1101.3h0M300.7,1101.3h0M302.5,1098.8h0M304.3,1096.1h0M306.1,1091.3h0M307.9,1087.7h0M309.7,1080.2h0M311.5,1075.8h0M313.3,1075.3h0M315.1,1065.2h0M316.9,1055.6h0M318.7,1043.7h0M320.5,1024.7h0M322.3,1014.5h0M324.1,1001.0h0M325.9,979.6h0M327.7,956.7h0M329.5,926.8h0M331.3,906.6h0M333.1,866.4h0M334.9,851.8h0M336.7,824.4h0M338.5,794.6h0M340.3,779.3h0M342.1,766.8h0M343.9,756.1h0M345.7,735.4h0M347.5,726.8h0M349.3,717.9h0M351.1,709.3h0M352.9,695.9h0M354.7,688.9h0M356.6,672.7h0M358.4,663.4h0M360.2,659.2h0M362.0,650.7h0M363.8,645.9h0M365.6,642.7h0M367.4,624.5h0M369.2,613.0h0M371.0,603.8h0M372.8,540.4h0M374.6,504.6h0M376.4,469.8h0M378.2,436.8h0M380.0,406.7h0M381.8,369.7h0M383.6,331.5h0M385.4,313.0h0M387.2,288.8h0M389.0,290.2h0M390.8,299.2h0M392.6,299.4h0M394.4,306.8h0M396.2,295.3h0M398.0,282.6h0M399.8,273.4h0M401.6,272.5h0M403.4,278.5h0M405.2,278.6h0M407.0,288.0h0M408.8,283.1h0M410.6,298.2h0M412.4,288.4h0M414.2,306.5h0M416.0,319.4h0M417.8,318.7h0M419.6,320.4h0M421.4,285.9h0M423.2,293.0h0M425.0,283.1h0M426.8,269.5h0M428.6,252.4h0M430.4,268.4h0M432.2,301.4h0M434.0,320.0h0M435.8,339.5h0M437.6,351.2h0M439.4,353.9h0M441.2,368.9h0M443.0,369.9h0M444.8,366.1h0M446.6,361.4h0M448.4,367.8h0M450.2,377.2h0M452.0,385.3h0M453.8,394.3h0M455.6,413.0h0M457.4,428.5h0M459.2,437.1h0M461.0,442.5h0M462.8,466.5h0M464.6,493.5h0M466.4,510.6h0M468.2,518.0h0M470.0,531.4h0M471.8,523.6h0M473.6,506.8h0M475.4,508.1h0M477.2,502.4h0M479.0,475.8h0M480.8,467.2h0M482.6,439.6h0M484.4,408.8h0M486.2,413.6h0M488.0,407.6h0M489.8,404.0h0M491.6,432.5h0M493.4,408.5h0M495.2,431.0h0M497.0,436.8h0M498.8,429.2h0M500.6,412.0h0M502.4,428.4h0M504.2,405.5h0M506.0,401.4h0M507.8,406.2h0M509.6,412.9h0M511.4,407.5h0M513.2,402.3h0M515.0,383.5h0M516.8,381.2h0M518.6,371.4h0M520.4,374.8h0M522.2,378.0h0M524.0,367.8h0M525.8,369.9h0M527.6,362.5h0M529.4,369.6h0M531.2,413.8h0M533.0,433.0h0M534.8,440.7h0M536.6,434.6h0M538.4,437.6h0M540.2,427.7h0M542.0,425.2h0M543.8,419.0h0M545.6,423.6h0M547.4,432.0h0M549.2,438.2h0M551.0,475.3h0M552.8,494.9h0M554.6,498.4h0M556.4,499.7h0M558.2,512.5h0M560.0,510.4h0M561.8,516.3h0M563.6,527.9h0M565.4,536.1h0M567.2,535.3h0M569.0,524.7h0M570.8,506.5h0M572.6,488.3h0M574.4,480.8h0M576.2,502.7h0M578.0,538.1h0M579.8,570.5h0M581.6,588.2h0M583.4,603.9h0M585.2,607.9h0M587.0,618.2h0M588.8,623.8h0M590.6,635.9h0M592.4,644.8h0M594.2,654.7h0M596.0,666.2h0M597.8,675.2h0M599.6,688.4h0M601.4,702.9h0M603.2,726.9h0M605.0,759.1h0M606.8,796.5h0M608.6,823.3h0M610.4,837.8h0M612.2,842.0h0M614.0,862.6h0M615.8,886.3h0M617.6,894.4h0M619.4,894.7h0M621.2,898.7h0M623.0,898.4h0M624.8,901.4h0M626.6,899.4h0M628.4,902.8h0M630.2,900.2h0M632.0,896.6h0M633.8,899.7h0M635.6,900.2h0M637.4,896.0h0M639.2,893.6h0M641.0,874.0h0M642.8,858.5h0M644.6,852.8h0M646.4,847.0h0M648.2,848.4h0M650.0,858.5h0M651.8,866.4h0M653.6,866.0h0M655.4,869.2h0M657.2,867.2h0M659.0,869.3h0M660.8,877.8h0M662.6,884.8h0M664.4,897.0h0M666.2,891.5h0M668.0,880.3h0M669.8,878.7h0M671.6,876.2h0M673.4,868.4h0M675.2,854.7h0M677.0,850.0h0M678.8,831.8h0M680.6,810.8h0M682.4,800.5h0M684.2,791.2h0M686.0,790.0h0M687.8,786.3h0M689.6,779.8h0M691.4,777.2h0M693.2,787.0h0M695.0,786.2h0M696.8,786.7h0M698.6,789.8h0M700.4,789.4h0M702.2,798.2h0M704.0,797.6h0M705.8,796.8h0M707.6,795.2h0M709.4,798.2h0M711.2,784.5h0M713.0,781.4h0M714.8,781.5h0M716.6,780.7h0M718.4,778.9h0M720.2,775.3h0M722.0,773.9h0M723.8,771.3h0M725.6,754.3h0M727.4,745.5h0M729.2,734.7h0M731.0,705.9h0M732.8,591.7h0M734.6,562.4h0M736.4,511.3h0M738.2,464.1h0M740.0,429.3h0M741.8,409.6h0M743.6,379.1h0M745.4,356.8h0M747.2,341.3h0M749.0,345.1h0M750.8,349.0h0M752.6,360.7h0M754.4,354.2h0M756.2,357.1h0M758.0,371.3h0M759.8,376.8h0M761.6,370.1h0M763.4,355.4h0M765.2,345.0h0M767.0,347.9h0M768.8,330.4h0M770.6,362.6h0M772.4,365.0h0M774.2,356.0h0M776.0,351.7h0M777.8,377.4h0M779.6,389.4h0M781.4,392.3h0M783.2,402.1h0M785.0,405.8h0M786.8,416.9h0M788.7,439.3h0M790.5,459.6h0M792.3,468.2h0M794.1,484.1h0M795.9,493.0h0M797.7,509.6h0M799.5,552.8h0M801.3,627.0h0M803.1,640.5h0M804.9,643.4h0M806.7,669.3h0M808.5,681.8h0M810.3,691.1h0M812.1,700.0h0M813.9,698.9h0M815.7,699.7h0M817.5,726.0h0M819.3,744.8h0M821.1,742.9h0M822.9,750.6h0M824.7,764.1h0M826.5,766.3h0M828.3,770.5h0M830.1,800.7h0M831.9,798.8h0M833.7,827.7h0M835.5,849.3h0M837.3,855.3h0M839.1,888.2h0M840.9,903.2h0M842.7,918.2h0M844.5,936.1h0M846.3,940.6h0M848.1,947.7h0M849.9,953.8h0M851.7,970.2h0M853.5,977.6h0M855.3,978.8h0M857.1,975.8h0M858.9,967.4h0M860.7,957.6h0M862.5,957.4h0M864.3,949.2h0M866.1,948.8h0M867.9,942.7h0M869.7,927.2h0M871.5,925.9h0M873.3,900.7h0M875.1,885.0h0M876.9,858.3h0M878.7,848.6h0M880.5,836.8h0M882.3,796.2h0M884.1,781.1h0M885.9,776.1h0M887.7,772.6h0M889.5,758.6h0M891.3,747.2h0M893.1,739.7h0M894.9,720.6h0M896.7,712.1h0M898.5,697.5h0M900.3,674.5h0M902.1,627.1h0M903.9,607.2h0M905.7,598.6h0M907.5,582.7h0M909.3,576.7h0M911.1,565.9h0M912.9,553.1h0M914.7,543.1h0M916.5,544.9h0M918.3,536.9h0M920.1,536.0h0M921.9,536.4h0M923.7,536.7h0M925.5,537.3h0M927.3,526.2h0M929.1,516.4h0M930.9,502.3h0M932.7,491.3h0M934.5,489.7h0M936.3,447.5h0M938.1,427.4h0M939.9,422.6h0M941.7,426.1h0M943.5,437.4h0M945.3,442.3h0M947.1,437.9h0M948.9,409.4h0M950.7,412.1h0M952.5,399.6h0M954.3,391.5h0M956.1,387.0h0M957.9,387.6h0M959.7,394.5h0M961.5,392.8h0M963.3,360.2h0M965.1,383.9h0M966.9,393.5h0M968.7,392.6h0M970.5,381.6h0M972.3,366.3h0M974.1,364.8h0M975.9,372.7h0M977.7,369.2h0M979.5,352.1h0M981.3,346.6h0M983.1,355.3h0M984.9,355.6h0M986.7,360.2h0M988.5,348.9h0M990.3,335.2h0M992.1,334.0h0M993.9,316.7h0M995.7,323.1h0M997.5,317.3h0M999.3,296.6h0M1001.1,309.1h0M1002.9,303.1h0M1004.7,322.9h0M1006.5,326.0h0M1008.3,321.8h0M1010.1,334.7h0M1011.9,327.8h0M1013.7,336.2h0M1015.5,358.5h0M1017.3,365.6h0M1019.1,367.2h0M1020.9,372.5h0M1022.7,364.0h0M1024.5,369.1h0M1026.3,369.6h0M1028.1,367.9h0M1029.9,369.0h0M1031.7,392.2h0M1033.5,401.3h0M1035.3,397.7h0M1037.1,395.4h0M1038.9,413.4h0M1040.7,433.5h0M1042.5,394.6h0M1044.3,392.1h0M1046.1,381.8h0M1047.9,373.3h0M1049.7,377.8h0M1051.5,359.5h0M1053.3,363.8h0M1055.1,356.6h0M1056.9,345.7h0M1058.7,338.8h0M1060.5,333.0h0M1062.3,328.3h0M1064.1,317.3h0M1065.9,350.4h0M1067.7,351.2h0M1069.5,355.1h0M1071.3,365.7h0M1073.1,386.9h0M1074.9,407.9h0M1076.7,427.0h0M1078.5,463.7h0M1080.3,428.6h0M1082.1,411.2h0M1083.9,408.9h0M1085.7,430.1h0M1087.5,502.6h0M1089.3,548.6h0M1091.1,590.9h0M1092.9,621.5h0M1094.7,622.3h0M1096.5,604.5h0M1098.3,512.2h0M1100.1,464.8h0M1101.9,469.2h0M1103.7,458.0h0M1105.5,424.4h0M1107.3,442.0h0M1109.1,460.2h0M1110.9,471.9h0M1112.7,499.9h0M1114.5,514.9h0M1116.3,503.6h0M1118.1,435.6h0M1119.9,433.7h0M1121.7,450.6h0M1123.5,489.6h0M1125.3,514.6h0M1127.1,558.2h0M1128.9,544.6h0M1130.7,538.8h0M1132.5,527.6h0M1134.3,500.5h0M1136.1,445.3h0M1137.9,436.2h0M1139.7,415.5h0M1141.5,395.4h0M1143.3,409.6h0M1145.1,406.0h0M1146.9,397.8h0M1148.7,399.6h0M1150.5,391.3h0M1152.3,392.4h0M1154.1,382.7h0M1155.9,395.0h0M1157.7,373.3h0M1159.5,368.6h0M1161.3,361.8h0M1163.1,358.1h0M1164.9,352.1h0M1166.7,336.0h0M1168.5,331.4h0M1170.3,313.9h0M1172.1,328.1h0M1173.9,323.8h0M1175.7,331.6h0M1177.5,343.6h0M1179.3,346.1h0M1181.1,338.4h0M1182.9,328.9h0M1184.7,323.3h0M1186.5,335.1h0M1188.3,355.8h0M1190.1,366.4h0M1191.9,480.4h0M1193.7,478.8h0M1195.5,477.5h0M1197.3,481.9h0M1199.1,481.3h0M1200.9,476.7h0M1202.7,478.7h0M1204.5,490.0h0M1206.3,490.6h0M1208.1,491.8h0M1209.9,617.4h0M1211.7,625.0h0M1213.5,647.2h0M1215.3,667.2h0M1217.1,664.0h0M1218.9,651.2h0M1220.8,644.8h0M1222.6,618.6h0M1224.4,617.7h0M1226.2,619.2h0M1228.0,627.3h0M1229.8,624.3h0M1231.6,631.7h0M1233.4,625.3h0M1235.2,606.9h0M1237.0,603.9h0M1238.8,573.1h0M1240.6,553.4h0M1242.4,531.9h0M1244.2,516.4h0M1246.0,477.5h0M1247.8,429.6h0M1249.6,403.5h0M1251.4,382.7h0M1253.2,364.9h0M1255.0,357.0h0M1256.8,372.8h0M1258.6,386.3h0M1260.4,386.7h0M1262.2,373.0h0M1264.0,391.9h0M1265.8,386.3h0M1267.6,362.6h0M1269.4,343.7h0M1271.2,330.1h0M1273.0,357.0h0M1274.8,345.0h0M1276.6,346.6h0M1278.4,355.1h0M1280.2,343.0h0M1282.0,346.2h0M1283.8,331.7h0M1285.6,332.8h0M1287.4,324.9h0M1289.2,332.3h0M1291.0,340.1h0M1292.8,332.5h0M1294.6,335.6h0M1296.4,339.3h0M1298.2,352.8h0M1300.0,363.6h0M1301.8,378.5h0M1303.6,385.6h0M1305.4,395.4h0M1307.2,389.0h0M1309.0,364.2h0M1310.8,340.8h0M1312.6,326.3h0M1314.4,303.7h0M1316.2,313.6h0M1318.0,351.9h0M1319.8,367.6h0M1321.6,382.7h0M1323.4,382.6h0M1325.2,411.1h0M1327.0,408.2h0M1328.8,455.5h0M1330.6,464.3h0M1332.4,478.9h0M1334.2,456.1h0M1336.0,442.5h0M1337.8,416.9h0M1339.6,405.2h0M1341.4,387.7h0M1343.2,368.9h0M1345.0,360.3h0M1346.8,384.6h0M1348.6,401.5h0M1350.4,429.0h0M1352.2,416.1h0M1354.0,399.5h0M1355.8,387.2h0M1357.6,404.2h0M1359.4,403.4h0M1361.2,420.3h0M1363.0,421.9h0M1364.8,370.8h0M1366.6,345.2h0M1368.4,357.3h0M1370.2,353.3h0M1372.0,346.8h0M1373.8,332.9h0M1375.6,346.5h0M1377.4,343.5h0M1379.2,337.3h0M1381.0,316.7h0M1382.8,312.2h0M1384.6,312.3h0M1386.4,325.4h0M1388.2,315.0h0M1390.0,326.8h0M1391.8,327.1h0M1393.6,321.2h0M1395.4,317.3h0M1397.2,327.2h0M1399.0,337.3h0M1400.8,382.3h0M1402.6,454.6h0M1404.4,484.0h0M1406.2,493.8h0M1408.0,518.0h0M1409.8,528.0h0M1411.6,531.2h0M1413.4,553.8h0M1415.2,562.1h0M1417.0,555.0h0M1418.8,535.8h0M1420.6,538.9h0M1422.4,569.3h0M1424.2,571.1h0M1426.0,565.8h0M1427.8,570.2h0M1429.6,585.6h0M1431.4,571.5h0M1433.2,574.3h0M1435.0,609.7h0M1436.8,636.0h0M1438.6,658.9h0M1440.4,704.2h0M1442.2,760.0h0M1444.0,817.1h0M1445.8,859.3h0M1447.6,881.1h0M1449.4,900.4h0M1451.2,908.6h0M1453.0,924.1h0M1454.8,940.5h0M1456.6,958.4h0M1458.4,984.6h0M1460.2,995.3h0M1462.0,1011.7h0M1463.8,1020.3h0M1465.6,1022.3h0M1467.4,1026.5h0M1469.2,1035.3h0M1471.0,1039.1h0M1472.8,1031.7h0M1474.6,1018.9h0M1476.4,1019.8h0M1478.2,1009.8h0M1480.0,1000.8h0M1481.8,1000.3h0M1483.6,998.2h0M1485.4,990.9h0M1487.2,962.5h0M1489.0,931.5h0M1490.8,924.4h0M1492.6,906.8h0M1494.4,861.9h0M1496.2,815.6h0M1498.0,797.4h0M1499.8,779.3h0M1501.6,755.1h0M1503.4,719.2h0M1505.2,638.2h0M1507.0,638.3h0M1508.8,628.5h0M1510.6,629.4h0M1512.4,626.2h0M1514.2,625.2h0M1516.0,622.7h0M1517.8,627.3h0M1519.6,632.2h0M1521.4,631.4h0M1523.2,639.2h0M1525.0,650.9h0M1526.8,659.5h0M1528.6,663.1h0M1530.4,660.8h0M1532.2,658.0h0M1534.0,650.9h0M1535.8,652.2h0M1537.6,668.7h0M1539.4,718.7h0M1541.2,738.7h0M1543.0,760.0h0M1544.8,780.9h0M1546.6,774.5h0M1548.4,757.7h0M1550.2,769.8h0M1552.0,821.9h0M1553.8,844.9h0M1555.6,862.8h0M1557.4,865.5h0M1559.2,863.3h0M1561.0,856.0h0M1562.8,844.1h0M1564.6,836.0h0M1566.4,840.2h0M1568.2,844.3h0M1570.0,892.1h0M1571.8,905.1h0M1573.6,907.4h0M1575.4,920.2h0M1577.2,933.5h0M1579.0,961.3h0M1580.8,986.1h0M1582.6,993.2h0M1584.4,992.9h0M1586.2,1014.3h0M1588.0,1017.1h0M1589.8,1023.1h0M1591.6,1034.6h0M1593.4,1044.8h0M1595.2,1047.9h0M1597.0,1050.6h0M1598.8,1051.1h0M1600.6,1052.3h0M1602.4,1049.7h0M1604.2,1050.0h0M1606.0,1047.6h0M1607.8,1041.9h0M1609.6,1042.7h0M1611.4,1040.3h0M1613.2,1039.0h0M1615.0,1035.2h0M1616.8,1036.3h0M1618.6,1037.4h0M1620.4,1047.3h0M1622.2,1047.0h0M1624.0,1054.1h0M1625.8,1056.7h0M1627.6,1063.2h0M1629.4,1064.6h0M1631.2,1062.2h0M1633.0,1059.7h0M1634.8,1060.1h0M1636.6,1064.0h0M1638.4,1066.1h0M1640.2,1067.7h0M1642.0,1069.1h0M1643.8,1073.1h0M1645.6,1078.8h0M1647.4,1075.6h0M1649.2,1080.8h0M1651.0,1085.4h0M1652.9,1078.6h0M1654.7,1072.0h0M1656.5,1071.0h0M1658.3,1067.6h0M1660.1,1071.4h0M1661.9,1077.2h0M1663.7,1077.5h0M1665.5,1067.2h0M1667.3,1072.7h0M1669.1,1078.2h0M1670.9,1074.0h0M1672.7,1077.5h0M1674.5,1079.0h0M1676.3,1072.0h0M1678.1,1072.0h0M1679.9,1067.1h0M1681.7,1058.6h0M1683.5,1060.9h0M1685.3,1069.4h0M1687.1,1081.8h0M1688.9,1087.4h0M1690.7,1086.2h0M1692.5,1086.0h0M1694.3,1088.2h0M1696.1,1086.9h0M1697.9,1088.4h0M1699.7,1081.4h0M1701.5,1081.5h0M1703.3,1078.7h0M1705.1,1085.0h0M1706.9,1082.7h0M1708.7,1080.0h0M1710.5,1077.1h0M1712.3,1074.8h0M1714.1,1071.1h0M1715.9,1070.0h0M1717.7,1068.3h0M1719.5,1072.0h0M1721.3,1072.1h0M1723.1,1072.7h0M1724.9,1078.7h0M1726.7,1089.3h0M1728.5,1091.6h0M1730.3,1094.0h0M1732.1,1098.0h0M1733.9,1101.3h0M1735.7,1096.4h0M1737.5,1098.3h0M1739.3,1096.3h0M1741.1,1101.3h0M1742.9,1099.9h0M1744.7,1098.3h0M1746.5,1097.1h0M1748.3,1100.0h0M1750.1,1097.6h0M1751.9,1097.2h0M1753.7,1101.3h0M1755.5,1097.1h0M1757.3,1096.2h0M1759.1,1101.3h0M1760.9,1089.2h0M1762.7,1082.8h0M1764.5,1074.1h0M1766.3,1067.3h0M1768.1,1061.2h0M1769.9,1052.8h0M1771.7,1044.6h0M1773.5,1035.2h0M1775.3,1028.0h0M1777.1,1031.7h0M1778.9,1034.0h0M1780.7,1027.1h0M1782.5,1015.5h0M1784.3,1011.4h0M1786.1,1003.6h0M1787.9,1001.1h0M1789.7,997.1h0M1791.5,998.6h0M1793.3,990.8h0M1795.1,978.7h0M1796.9,970.9h0M1798.7,973.0h0M1800.5,975.1h0M1802.3,968.7h0M1804.1,960.3h0M1805.9,955.3h0M1807.7,952.1h0M1809.5,949.0h0M1811.3,935.6h0M1813.1,933.6h0M1814.9,934.5h0M1816.7,935.3h0M1818.5,929.6h0M1820.3,923.1h0M1822.1,925.1h0M1823.9,922.0h0M1825.7,915.5h0M1827.5,914.1h0M1829.3,913.1h0M1831.1,912.9h0M1832.9,914.6h0M1834.7,912.7h0M1836.5,911.5h0M1838.3,909.7h0M1840.1,908.0h0M1841.9,905.5h0M1843.7,903.5h0M1845.5,902.4h0M1847.3,901.8h0M1849.1,910.0h0M1850.9,920.4h0M1852.7,919.5h0M1854.5,920.6h0M1856.3,926.2h0M1858.1,925.3h0M1859.9,926.0h0M1861.7,933.5h0M1863.5,933.2h0M1865.3,935.5h0M1867.1,933.8h0M1868.9,938.4h0M1870.7,937.7h0M1872.5,937.9h0M1874.3,937.9h0M1876.1,941.3h0M1877.9,942.4h0M1879.7,947.8h0M1881.5,947.2h0M1883.3,950.8h0M1885.1,947.3h0M1886.9,940.9h0M1888.7,940.0h0M1890.5,942.8h0M1892.3,940.7h0M1894.1,944.3h0M1895.9,943.7h0M1897.7,939.3h0M1899.5,935.9h0M1901.3,932.5h0M1903.1,930.7h0M1904.9,928.8h0M1906.7,927.5h0M1908.5,929.2h0M1910.3,931.5h0M1912.1,943.0h0M1913.9,953.8h0M1915.7,955.5h0M1917.5,961.1h0M1919.3,966.9h0M1921.1,967.3h0M1922.9,975.8h0M1924.7,978.7h0M1926.5,990.3h0M1928.3,1004.8h0M1930.1,1014.4h0M1931.9,1023.7h0M1933.7,1027.4h0M1935.5,1027.1h0M1937.3,1029.1h0M1939.1,1031.6h0M1940.9,1038.7h0M1942.7,1037.3h0M1944.5,1046.8h0M1946.3,1048.1h0M1948.1,1051.6h0M1949.9,1055.5h0M1951.7,1051.7h0M1953.5,1054.0h0M1955.3,1060.0h0M1957.1,1059.0h0M1958.9,1062.8h0M1960.7,1065.8h0M1962.5,1062.9h0M1964.3,1055.6h0M1966.1,1057.3h0M1967.9,1063.9h0M1969.7,1069.9h0M1971.5,1062.7h0M1973.3,1070.5h0M1975.1,1068.7h0M1976.9,1062.9h0M1978.7,1063.2h0M1980.5,1069.4h0M1982.3,1068.9h0M1984.1,1073.5h0M1985.9,1078.5h0M1987.7,1075.7h0M1989.5,1070.8h0M1991.3,1065.3h0M1993.1,1062.0h0M1994.9,1062.5h0M1996.7,1060.5h0M1998.5,1058.0h0M2000.3,1060.0h0M2002.1,1070.0h0M2003.9,1068.5h0M2005.7,1065.3h0M2007.5,1058.6h0M2009.3,1060.9h0M2011.1,1055.1h0M2012.9,1054.1h0M2014.7,1052.1h0M2016.5,1058.4h0M2018.3,1065.1h0M2020.1,1070.0h0M2021.9,1077.1h0M2023.7,1083.7h0M2025.5,1085.2h0M2027.3,1083.0h0M2029.1,1081.4h0M2030.9,1077.3h0M2032.7,1080.7h0M2034.5,1074.7h0M2036.3,1078.1h0M2038.1,1079.4h0M2039.9,1074.8h0M2041.7,1079.1h0M2043.5,1078.9h0M2045.3,1078.4h0M2047.1,1081.7h0M2048.9,1082.5h0M2050.7,1080.5h0M2052.5,1076.8h0M2054.3,1065.1h0M2056.1,1056.1h0M2057.9,1050.8h0M2059.7,1043.0h0M2061.5,1021.0h0M2063.3,1013.1h0M2065.1,1002.2h0M2066.9,1000.4h0M2068.7,989.3h0M2070.5,987.9h0M2072.3,992.0h0M2074.1,996.7h0M2075.9,990.8h0M2077.7,981.0h0M2079.5,985.3h0M2081.3,973.0h0M2083.1,960.3h0M2084.9,938.2h0M2086.8,915.0h0M2088.6,892.9h0M2090.4,883.5h0M2092.2,871.5h0M2094.0,852.8h0M2095.8,822.2h0M2097.6,791.1h0M2099.4,768.2h0M2101.2,749.6h0M2103.0,724.1h0M2104.8,704.2h0M2106.6,702.7h0M2108.4,700.7h0M2110.2,707.3h0M2112.0,718.1h0M2113.8,722.8h0M2115.6,733.1h0M2117.4,725.4h0M2119.2,709.8h0M2121.0,696.1h0M2122.8,673.3h0M2124.6,675.6h0M2126.4,666.8h0M2128.2,676.3h0M2130.0,671.9h0M2131.8,669.2h0M2133.6,665.8h0M2135.4,664.7h0M2137.2,655.8h0M2139.0,646.4h0M2140.8,632.1h0M2142.6,620.3h0M2144.4,621.4h0M2146.2,621.1h0M2148.0,618.0h0M2149.8,640.3h0M2151.6,628.7h0M2153.4,607.2h0M2155.2,608.3h0M2157.0,579.8h0M2158.8,572.6h0M2160.6,581.9h0M2162.4,556.3h0M2164.2,532.7h0M2166.0,556.2h0M2167.8,573.4h0M2169.6,589.1h0M2171.4,579.3h0M2173.2,567.8h0M2175.0,549.8h0M2176.8,523.0h0M2178.6,481.8h0M2180.4,469.3h0M2182.2,453.7h0M2184.0,451.7h0M2185.8,447.1h0M2187.6,441.8h0M2189.4,433.7h0M2191.2,433.4h0M2193.0,425.7h0M2194.8,396.2h0M2196.6,401.1h0M2198.4,378.1h0M2200.2,352.2h0M2202.0,305.2h0M2203.8,301.4h0M2205.6,294.5h0M2207.4,291.5h0M2209.2,287.2h0M2211.0,285.1h0M2212.8,284.8h0M2214.6,285.3h0M2216.4,289.8h0M2218.2,299.8h0M2220.0,272.4h0M2221.8,274.8h0M2223.6,272.5h0M2225.4,280.9h0M2227.2,275.2h0M2229.0,293.9h0M2230.8,292.9h0M2232.6,295.3h0M2234.4,297.6h0M2236.2,305.9h0M2238.0,328.9h0M2239.8,338.2h0M2241.6,343.2h0M2243.4,371.3h0M2245.2,361.5h0M2247.0,385.2h0M2248.8,357.5h0M2250.6,372.8h0M2252.4,354.4h0M2254.2,357.2h0M2256.0,320.8h0M2257.8,328.6h0M2259.6,296.5h0M2261.4,320.1h0M2263.2,306.0h0M2265.0,300.2h0M2266.8,300.9h0M2268.6,318.3h0M2270.4,313.1h0M2272.2,307.8h0M2274.0,336.4h0M2275.8,332.8h0M2277.6,327.8h0M2279.4,349.5h0M2281.2,331.3h0M2283.0,334.7h0M2284.8,325.2h0M2286.6,308.8h0M2288.4,312.5h0M2290.2,299.1h0M2292.0,307.0h0M2293.8,300.5h0M2295.6,302.5h0M2297.4,318.1h0M2299.2,304.7h0M2301.0,295.8h0" stroke="#ff0000" stroke-width="11" stroke-linecap="round" fill="none"/>
<g shape-rendering="crispEdges" fill="#000" stroke="none">
<rect x="2301" y="37" width="1" height="1066"/>
</g>
<g font-size="40.5" letter-spacing="1.2" stroke="#000" stroke-width="0.25">
<text x="142.7" y="1143.2" text-anchor="middle">0</text>
<text x="502.8" y="1143.2" text-anchor="middle">200</text>
<text x="862.9" y="1143.2" text-anchor="middle">400</text>
<text x="1223.0" y="1143.2" text-anchor="middle">600</text>
<text x="1583.0" y="1143.2" text-anchor="middle">800</text>
<text x="1943.1" y="1143.2" text-anchor="middle">1000</text>
<text x="2303.2" y="1143.2" text-anchor="middle">1200</text>
<text x="133.6" y="1115.7" text-anchor="end">0</text>
<text x="133.6" y="1009.2" text-anchor="end">0.1</text>
<text x="133.6" y="902.8" text-anchor="end">0.2</text>
<text x="133.6" y="796.4" text-anchor="end">0.3</text>
<text x="133.6" y="689.9" text-anchor="end">0.4</text>
<text x="133.6" y="583.5" text-anchor="end">0.5</text>
<text x="133.6" y="477.0" text-anchor="end">0.6</text>
<text x="133.6" y="370.6" text-anchor="end">0.7</text>
<text x="133.6" y="264.1" text-anchor="end">0.8</text>
<text x="133.6" y="157.6" text-anchor="end">0.9</text>
<text x="133.6" y="51.2" text-anchor="end">1</text>
</g>
<g font-size="40.5" stroke="#000" stroke-width="0.25">
<text x="1222.2" y="1187.7" text-anchor="middle" letter-spacing="0.3">10min</text>
<text transform="translate(52.3,563.8) rotate(-90)" text-anchor="middle" letter-spacing="0.14">Prediction Intervals and Real Wind Power</text>
</g>
<g shape-rendering="crispEdges">
<rect x="1481.5" y="48.5" width="655" height="312" fill="#fff" stroke="#000" stroke-width="1"/>
<rect x="1497" y="57" width="84" height="40" fill="#0000ff"/>
<rect x="1497" y="108" width="84" height="40" fill="#0055aa"/>
<rect x="1497" y="158" width="84" height="39" fill="#008080"/>
<rect x="1497" y="209" width="84" height="40" fill="#00aa55"/>
<rect x="1497" y="259" width="84" height="40" fill="#00ff00"/>
<rect x="1497" y="329" width="84" height="1" fill="#ff0000"/>
</g>
<circle cx="1539" cy="329.5" r="5.3" fill="#ff0000"/>
<g font-size="40.5" letter-spacing="0.88" stroke="#000" stroke-width="0.25">
<text x="1591.5" y="91.0">PICP=0.979<tspan dy="-4.5" font-size="34">，</tspan><tspan dy="4.5" dx="6.5">PICAW=0.298</tspan></text>
<text x="1591.5" y="142.3">PICP=0.944<tspan dy="-4.5" font-size="34">，</tspan><tspan dy="4.5" dx="6.5">PICAW=0.257</tspan></text>
<text x="1591.5" y="194.2">PICP=0.923<tspan dy="-4.5" font-size="34">，</tspan><tspan dy="4.5" dx="6.5">PICAW=0.171</tspan></text>
<text x="1591.5" y="243.8">PICP=0.865<tspan dy="-4.5" font-size="34">，</tspan><tspan dy="4.5" dx="6.5">PICAW=0.141</tspan></text>
<text x="1591.5" y="294.7">PICP=0.833<tspan dy="-4.5" font-size="34">，</tspan><tspan dy="4.5" dx="6.5">PICAW=0.102</tspan></text>
<text x="1591.5" y="347.8">Real Wind Power</text>
</g>
</svg>
</body>
</html>
